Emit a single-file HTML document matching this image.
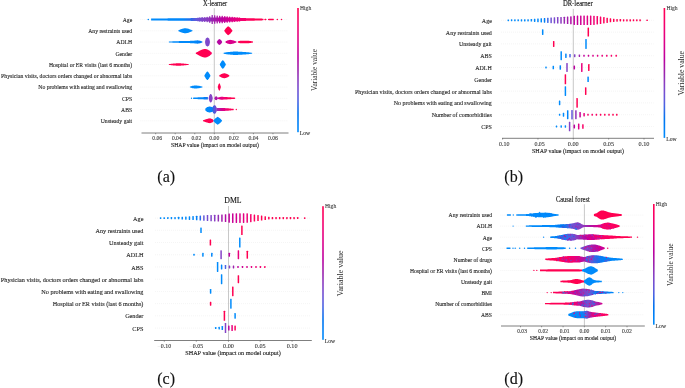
<!DOCTYPE html>
<html><head><meta charset="utf-8"><style>
html,body{margin:0;padding:0;background:#fff;}
body{width:685px;height:388px;overflow:hidden;font-family:"Liberation Serif",serif;}
svg{display:block;}
</style></head><body>
<svg width="685" height="388" viewBox="0 0 685 388" style="will-change:transform">
<rect width="685" height="388" fill="#fff"/>
<line x1="140.5" y1="19.5" x2="287.5" y2="19.5" stroke="#e0e0e0" stroke-width="0.5" stroke-dasharray="0.7 1.3"/>
<line x1="140.5" y1="30.75" x2="287.5" y2="30.75" stroke="#e0e0e0" stroke-width="0.5" stroke-dasharray="0.7 1.3"/>
<line x1="140.5" y1="42" x2="287.5" y2="42" stroke="#e0e0e0" stroke-width="0.5" stroke-dasharray="0.7 1.3"/>
<line x1="140.5" y1="53.25" x2="287.5" y2="53.25" stroke="#e0e0e0" stroke-width="0.5" stroke-dasharray="0.7 1.3"/>
<line x1="140.5" y1="64.5" x2="287.5" y2="64.5" stroke="#e0e0e0" stroke-width="0.5" stroke-dasharray="0.7 1.3"/>
<line x1="140.5" y1="75.75" x2="287.5" y2="75.75" stroke="#e0e0e0" stroke-width="0.5" stroke-dasharray="0.7 1.3"/>
<line x1="140.5" y1="87" x2="287.5" y2="87" stroke="#e0e0e0" stroke-width="0.5" stroke-dasharray="0.7 1.3"/>
<line x1="140.5" y1="98.25" x2="287.5" y2="98.25" stroke="#e0e0e0" stroke-width="0.5" stroke-dasharray="0.7 1.3"/>
<line x1="140.5" y1="109.5" x2="287.5" y2="109.5" stroke="#e0e0e0" stroke-width="0.5" stroke-dasharray="0.7 1.3"/>
<line x1="140.5" y1="120.75" x2="287.5" y2="120.75" stroke="#e0e0e0" stroke-width="0.5" stroke-dasharray="0.7 1.3"/>
<line x1="214.3" y1="8.2" x2="214.3" y2="133" stroke="#b0b0b0" stroke-width="0.7"/>
<line x1="141.5" y1="133" x2="288.5" y2="133" stroke="#707070" stroke-width="0.9"/>
<line x1="155.65" y1="133" x2="155.65" y2="134.3" stroke="#444" stroke-width="0.5"/>
<text x="155.65" y="139.9" font-size="5.3" text-anchor="middle" fill="#444" stroke="#444" stroke-width="0.12" font-family="Liberation Serif, serif" textLength="12.9" lengthAdjust="spacingAndGlyphs"><tspan fill="#f2f2f2" stroke="none">−</tspan>0.06</text>
<line x1="175.2" y1="133" x2="175.2" y2="134.3" stroke="#444" stroke-width="0.5"/>
<text x="175.2" y="139.9" font-size="5.3" text-anchor="middle" fill="#444" stroke="#444" stroke-width="0.12" font-family="Liberation Serif, serif" textLength="12.9" lengthAdjust="spacingAndGlyphs"><tspan fill="#f2f2f2" stroke="none">−</tspan>0.04</text>
<line x1="194.75" y1="133" x2="194.75" y2="134.3" stroke="#444" stroke-width="0.5"/>
<text x="194.75" y="139.9" font-size="5.3" text-anchor="middle" fill="#444" stroke="#444" stroke-width="0.12" font-family="Liberation Serif, serif" textLength="12.9" lengthAdjust="spacingAndGlyphs"><tspan fill="#f2f2f2" stroke="none">−</tspan>0.02</text>
<line x1="214.3" y1="133" x2="214.3" y2="134.3" stroke="#444" stroke-width="0.5"/>
<text x="214.3" y="139.9" font-size="5.3" text-anchor="middle" fill="#444" color="#444" font-family="Liberation Serif, serif" textLength="10" lengthAdjust="spacingAndGlyphs" stroke-width="0.12" stroke="currentColor">0.00</text>
<line x1="233.85" y1="133" x2="233.85" y2="134.3" stroke="#444" stroke-width="0.5"/>
<text x="233.85" y="139.9" font-size="5.3" text-anchor="middle" fill="#444" color="#444" font-family="Liberation Serif, serif" textLength="10" lengthAdjust="spacingAndGlyphs" stroke-width="0.12" stroke="currentColor">0.02</text>
<line x1="253.4" y1="133" x2="253.4" y2="134.3" stroke="#444" stroke-width="0.5"/>
<text x="253.4" y="139.9" font-size="5.3" text-anchor="middle" fill="#444" color="#444" font-family="Liberation Serif, serif" textLength="10" lengthAdjust="spacingAndGlyphs" stroke-width="0.12" stroke="currentColor">0.04</text>
<line x1="272.95" y1="133" x2="272.95" y2="134.3" stroke="#444" stroke-width="0.5"/>
<text x="272.95" y="139.9" font-size="5.3" text-anchor="middle" fill="#444" color="#444" font-family="Liberation Serif, serif" textLength="10" lengthAdjust="spacingAndGlyphs" stroke-width="0.12" stroke="currentColor">0.06</text>
<text x="132.2" y="21.88" font-size="5.7" text-anchor="end" fill="#2a2a2a" color="#2a2a2a" font-family="Liberation Serif, serif" textLength="9.5" lengthAdjust="spacingAndGlyphs" stroke-width="0.12" stroke="currentColor">Age</text>
<text x="132.2" y="33.13" font-size="5.7" text-anchor="end" fill="#2a2a2a" color="#2a2a2a" font-family="Liberation Serif, serif" textLength="44.01" lengthAdjust="spacingAndGlyphs" stroke-width="0.12" stroke="currentColor">Any restraints used</text>
<text x="132.2" y="44.38" font-size="5.7" text-anchor="end" fill="#2a2a2a" color="#2a2a2a" font-family="Liberation Serif, serif" textLength="15.83" lengthAdjust="spacingAndGlyphs" stroke-width="0.12" stroke="currentColor">ADLH</text>
<text x="132.2" y="55.63" font-size="5.7" text-anchor="end" fill="#2a2a2a" color="#2a2a2a" font-family="Liberation Serif, serif" textLength="16.77" lengthAdjust="spacingAndGlyphs" stroke-width="0.12" stroke="currentColor">Gender</text>
<text x="132.2" y="66.88" font-size="5.7" text-anchor="end" fill="#2a2a2a" color="#2a2a2a" font-family="Liberation Serif, serif" textLength="83.28" lengthAdjust="spacingAndGlyphs" stroke-width="0.12" stroke="currentColor">Hospital or ER visits (last 6 months)</text>
<text x="132.2" y="78.13" font-size="5.7" text-anchor="end" fill="#2a2a2a" color="#2a2a2a" font-family="Liberation Serif, serif" textLength="131.08" lengthAdjust="spacingAndGlyphs" stroke-width="0.12" stroke="currentColor">Physician visits, doctors orders changed or abnormal labs</text>
<text x="132.2" y="89.38" font-size="5.7" text-anchor="end" fill="#2a2a2a" color="#2a2a2a" font-family="Liberation Serif, serif" textLength="93.88" lengthAdjust="spacingAndGlyphs" stroke-width="0.12" stroke="currentColor">No problems with eating and swallowing</text>
<text x="132.2" y="100.63" font-size="5.7" text-anchor="end" fill="#2a2a2a" color="#2a2a2a" font-family="Liberation Serif, serif" textLength="10.14" lengthAdjust="spacingAndGlyphs" stroke-width="0.12" stroke="currentColor">CPS</text>
<text x="132.2" y="111.88" font-size="5.7" text-anchor="end" fill="#2a2a2a" color="#2a2a2a" font-family="Liberation Serif, serif" textLength="11.09" lengthAdjust="spacingAndGlyphs" stroke-width="0.12" stroke="currentColor">ABS</text>
<text x="132.2" y="123.13" font-size="5.7" text-anchor="end" fill="#2a2a2a" color="#2a2a2a" font-family="Liberation Serif, serif" textLength="31.5" lengthAdjust="spacingAndGlyphs" stroke-width="0.12" stroke="currentColor">Unsteady gait</text>
<text x="215.05" y="5.8" font-size="7.5" text-anchor="middle" fill="#111" color="#111" font-family="Liberation Serif, serif" textLength="24.3" lengthAdjust="spacingAndGlyphs" stroke-width="0.12" stroke="currentColor">X-learner</text>
<text x="215" y="146.9" font-size="5.6" text-anchor="middle" fill="#222" color="#222" font-family="Liberation Serif, serif" textLength="88" lengthAdjust="spacingAndGlyphs" stroke-width="0.12" stroke="currentColor">SHAP value (impact on model output)</text>
<linearGradient id="cb1" x1="0" y1="0" x2="0" y2="1"><stop offset="0" stop-color="#ff0051"/><stop offset="0.05" stop-color="#fe005c"/><stop offset="0.1" stop-color="#f90067"/><stop offset="0.15" stop-color="#f20072"/><stop offset="0.2" stop-color="#e9007c"/><stop offset="0.25" stop-color="#e00086"/><stop offset="0.3" stop-color="#d5008f"/><stop offset="0.35" stop-color="#c80098"/><stop offset="0.4" stop-color="#bb00a0"/><stop offset="0.45" stop-color="#ab15a7"/><stop offset="0.5" stop-color="#9b23ad"/><stop offset="0.55" stop-color="#9135ba"/><stop offset="0.6" stop-color="#8443c6"/><stop offset="0.65" stop-color="#754fd1"/><stop offset="0.7" stop-color="#6359da"/><stop offset="0.75" stop-color="#4b63e3"/><stop offset="0.8" stop-color="#236cea"/><stop offset="0.85" stop-color="#0074f0"/><stop offset="0.9" stop-color="#007cf5"/><stop offset="0.95" stop-color="#0084f9"/><stop offset="1" stop-color="#008bfb"/></linearGradient>
<rect x="297.2" y="8" width="1.6" height="124.2" fill="url(#cb1)"/>
<text x="300" y="10.4" font-size="6.5" text-anchor="start" fill="#444" color="#444" font-family="Liberation Serif, serif" textLength="11.2" lengthAdjust="spacingAndGlyphs" stroke-width="0.12" stroke="currentColor">High</text>
<text x="299.8" y="135.2" font-size="6.5" text-anchor="start" fill="#333" color="#333" font-family="Liberation Serif, serif" textLength="10.4" lengthAdjust="spacingAndGlyphs" stroke-width="0.12" stroke="currentColor">Low</text>
<text x="0" y="0" font-size="8" text-anchor="middle" fill="#2a2a2a" font-family="Liberation Serif, serif" textLength="42" lengthAdjust="spacingAndGlyphs" transform="translate(316.6,70) rotate(-90)">Variable value</text>
<text x="166.2" y="182.2" font-size="16" text-anchor="middle" fill="#111" color="#111" font-family="Liberation Serif, serif" stroke-width="0.12" stroke="currentColor">(a)</text>
<circle cx="148.3" cy="19.5" r="0.8" fill="#008bfb"/>
<linearGradient id="g2" gradientUnits="userSpaceOnUse" x1="151.1" y1="0" x2="263.5" y2="0"><stop offset="0" stop-color="#008bfb"/><stop offset="0.28" stop-color="#0086fa"/><stop offset="0.35" stop-color="#236cea"/><stop offset="0.4" stop-color="#6359da"/><stop offset="0.45" stop-color="#7e48ca"/><stop offset="0.51" stop-color="#8c3bbf"/><stop offset="0.55" stop-color="#9b23ad"/><stop offset="0.61" stop-color="#b508a2"/><stop offset="0.7" stop-color="#d5008f"/><stop offset="0.79" stop-color="#f00074"/><stop offset="0.88" stop-color="#fe005c"/><stop offset="0.95" stop-color="#ff0051"/></linearGradient>
<path d="M151.1,18.6 L151.43,18.6 L151.77,18.59 L152.1,18.59 L152.44,18.58 L152.77,18.58 L153.11,18.58 L153.44,18.57 L153.78,18.57 L154.11,18.57 L154.45,18.56 L154.78,18.56 L155.11,18.55 L155.45,18.55 L155.78,18.55 L156.12,18.54 L156.45,18.54 L156.79,18.54 L157.12,18.53 L157.46,18.53 L157.79,18.52 L158.12,18.52 L158.46,18.52 L158.79,18.51 L159.13,18.51 L159.46,18.51 L159.8,18.5 L160.13,18.5 L160.47,18.49 L160.8,18.49 L161.14,18.48 L161.47,18.48 L161.8,18.47 L162.14,18.46 L162.47,18.46 L162.81,18.45 L163.14,18.45 L163.48,18.44 L163.81,18.44 L164.15,18.43 L164.48,18.43 L164.82,18.42 L165.15,18.41 L165.48,18.41 L165.82,18.4 L166.15,18.4 L166.49,18.39 L166.82,18.39 L167.16,18.38 L167.49,18.38 L167.83,18.37 L168.16,18.36 L168.5,18.36 L168.83,18.35 L169.16,18.35 L169.5,18.34 L169.83,18.34 L170.17,18.33 L170.5,18.32 L170.84,18.32 L171.17,18.31 L171.51,18.31 L171.84,18.3 L172.18,18.3 L172.51,18.29 L172.84,18.29 L173.18,18.28 L173.51,18.27 L173.85,18.27 L174.18,18.26 L174.52,18.26 L174.85,18.25 L175.19,18.25 L175.52,18.25 L175.85,18.24 L176.19,18.24 L176.52,18.24 L176.86,18.24 L177.19,18.24 L177.53,18.23 L177.86,18.23 L178.2,18.23 L178.53,18.23 L178.87,18.22 L179.2,18.22 L179.53,18.22 L179.87,18.22 L180.2,18.22 L180.54,18.21 L180.87,18.21 L181.21,18.21 L181.54,18.21 L181.88,18.2 L182.21,18.2 L182.55,18.2 L182.88,18.2 L183.21,18.2 L183.55,18.19 L183.88,18.19 L184.22,18.19 L184.55,18.19 L184.89,18.18 L185.22,18.18 L185.56,18.18 L185.89,18.18 L186.22,18.18 L186.56,18.17 L186.89,18.17 L187.23,18.17 L187.56,18.17 L187.9,18.16 L188.23,18.16 L188.57,18.16 L188.9,18.16 L189.24,18.16 L189.57,18.15 L189.9,18.15 L190.24,18.14 L190.57,18.13 L190.91,18.11 L191.24,18.1 L191.58,18.08 L191.91,18.07 L192.25,18.06 L192.58,18.04 L192.92,18.03 L193.25,18.01 L193.58,18 L193.92,17.99 L194.25,17.97 L194.59,17.96 L194.92,17.94 L195.26,17.93 L195.59,17.92 L195.93,17.9 L196.26,17.89 L196.6,17.89 L196.93,17.88 L197.26,17.87 L197.6,17.86 L197.93,17.86 L198.27,17.85 L198.6,17.84 L198.94,17.83 L199.27,17.83 L199.61,17.82 L199.94,17.81 L200.28,17.8 L200.61,17.8 L200.94,17.79 L201.28,17.78 L201.61,17.78 L201.95,17.77 L202.28,17.76 L202.62,17.75 L202.95,17.75 L203.29,17.74 L203.62,17.73 L203.95,17.72 L204.29,17.72 L204.62,17.71 L204.96,17.7 L205.29,17.69 L205.63,17.68 L205.96,17.67 L206.3,17.66 L206.63,17.65 L206.97,17.64 L207.3,17.63 L207.63,17.62 L207.97,17.62 L208.3,17.61 L208.64,17.6 L208.97,17.59 L209.31,17.58 L209.64,17.57 L209.98,17.56 L210.31,17.55 L210.65,17.54 L210.98,17.53 L211.31,17.52 L211.65,17.51 L211.98,17.5 L212.32,17.5 L212.65,17.49 L212.99,17.48 L213.32,17.48 L213.66,17.47 L213.99,17.47 L214.32,17.46 L214.66,17.46 L214.99,17.45 L215.33,17.45 L215.66,17.44 L216,17.44 L216.33,17.43 L216.67,17.43 L217,17.42 L217.34,17.42 L217.67,17.41 L218,17.41 L218.34,17.4 L218.67,17.4 L219.01,17.39 L219.34,17.39 L219.68,17.38 L220.01,17.38 L220.35,17.37 L220.68,17.37 L221.02,17.36 L221.35,17.36 L221.68,17.35 L222.02,17.35 L222.35,17.34 L222.69,17.34 L223.02,17.33 L223.36,17.33 L223.69,17.32 L224.03,17.31 L224.36,17.31 L224.7,17.3 L225.03,17.3 L225.36,17.31 L225.7,17.32 L226.03,17.33 L226.37,17.34 L226.7,17.35 L227.04,17.36 L227.37,17.37 L227.71,17.38 L228.04,17.39 L228.38,17.4 L228.71,17.41 L229.04,17.42 L229.38,17.43 L229.71,17.43 L230.05,17.44 L230.38,17.45 L230.72,17.46 L231.05,17.47 L231.39,17.48 L231.72,17.49 L232.05,17.5 L232.39,17.52 L232.72,17.54 L233.06,17.55 L233.39,17.57 L233.73,17.59 L234.06,17.6 L234.4,17.62 L234.73,17.64 L235.07,17.65 L235.4,17.67 L235.73,17.69 L236.07,17.7 L236.4,17.72 L236.74,17.74 L237.07,17.75 L237.41,17.77 L237.74,17.79 L238.08,17.8 L238.41,17.82 L238.75,17.83 L239.08,17.85 L239.41,17.86 L239.75,17.87 L240.08,17.89 L240.42,17.9 L240.75,17.92 L241.09,17.93 L241.42,17.95 L241.76,17.96 L242.09,17.98 L242.43,17.99 L242.76,18 L243.09,18.02 L243.43,18.03 L243.76,18.05 L244.1,18.06 L244.43,18.08 L244.77,18.09 L245.1,18.1 L245.44,18.11 L245.77,18.12 L246.1,18.13 L246.44,18.14 L246.77,18.15 L247.11,18.16 L247.44,18.17 L247.78,18.18 L248.11,18.19 L248.45,18.2 L248.78,18.21 L249.12,18.22 L249.45,18.23 L249.78,18.24 L250.12,18.25 L250.45,18.26 L250.79,18.27 L251.12,18.27 L251.46,18.28 L251.79,18.29 L252.13,18.3 L252.46,18.31 L252.8,18.32 L253.13,18.33 L253.46,18.34 L253.8,18.35 L254.13,18.36 L254.47,18.37 L254.8,18.38 L255.14,18.39 L255.47,18.4 L255.81,18.41 L256.14,18.42 L256.48,18.43 L256.81,18.44 L257.14,18.45 L257.48,18.46 L257.81,18.47 L258.15,18.48 L258.48,18.49 L258.82,18.5 L259.15,18.51 L259.49,18.52 L259.82,18.53 L260.15,18.54 L260.49,18.55 L260.82,18.56 L261.16,18.57 L261.49,18.58 L261.83,18.59 L262.16,18.63 L262.5,18.7 L262.83,18.77 L263.17,18.83 L263.5,18.9 L263.5,20.1 L263.17,20.17 L262.83,20.23 L262.5,20.3 L262.16,20.37 L261.83,20.41 L261.49,20.42 L261.16,20.43 L260.82,20.44 L260.49,20.45 L260.15,20.46 L259.82,20.47 L259.49,20.48 L259.15,20.49 L258.82,20.5 L258.48,20.51 L258.15,20.52 L257.81,20.53 L257.48,20.54 L257.14,20.55 L256.81,20.56 L256.48,20.57 L256.14,20.58 L255.81,20.59 L255.47,20.6 L255.14,20.61 L254.8,20.62 L254.47,20.63 L254.13,20.64 L253.8,20.65 L253.46,20.66 L253.13,20.67 L252.8,20.68 L252.46,20.69 L252.13,20.7 L251.79,20.71 L251.46,20.72 L251.12,20.73 L250.79,20.73 L250.45,20.74 L250.12,20.75 L249.78,20.76 L249.45,20.77 L249.12,20.78 L248.78,20.79 L248.45,20.8 L248.11,20.81 L247.78,20.82 L247.44,20.83 L247.11,20.84 L246.77,20.85 L246.44,20.86 L246.1,20.87 L245.77,20.88 L245.44,20.89 L245.1,20.9 L244.77,20.91 L244.43,20.92 L244.1,20.94 L243.76,20.95 L243.43,20.97 L243.09,20.98 L242.76,21 L242.43,21.01 L242.09,21.02 L241.76,21.04 L241.42,21.05 L241.09,21.07 L240.75,21.08 L240.42,21.1 L240.08,21.11 L239.75,21.13 L239.41,21.14 L239.08,21.15 L238.75,21.17 L238.41,21.18 L238.08,21.2 L237.74,21.21 L237.41,21.23 L237.07,21.25 L236.74,21.26 L236.4,21.28 L236.07,21.3 L235.73,21.31 L235.4,21.33 L235.07,21.35 L234.73,21.36 L234.4,21.38 L234.06,21.4 L233.73,21.41 L233.39,21.43 L233.06,21.45 L232.72,21.46 L232.39,21.48 L232.05,21.5 L231.72,21.51 L231.39,21.52 L231.05,21.53 L230.72,21.54 L230.38,21.55 L230.05,21.56 L229.71,21.57 L229.38,21.57 L229.04,21.58 L228.71,21.59 L228.38,21.6 L228.04,21.61 L227.71,21.62 L227.37,21.63 L227.04,21.64 L226.7,21.65 L226.37,21.66 L226.03,21.67 L225.7,21.68 L225.36,21.69 L225.03,21.7 L224.7,21.7 L224.36,21.69 L224.03,21.69 L223.69,21.68 L223.36,21.67 L223.02,21.67 L222.69,21.66 L222.35,21.66 L222.02,21.65 L221.68,21.65 L221.35,21.64 L221.02,21.64 L220.68,21.63 L220.35,21.63 L220.01,21.62 L219.68,21.62 L219.34,21.61 L219.01,21.61 L218.67,21.6 L218.34,21.6 L218,21.59 L217.67,21.59 L217.34,21.58 L217,21.58 L216.67,21.57 L216.33,21.57 L216,21.56 L215.66,21.56 L215.33,21.55 L214.99,21.55 L214.66,21.54 L214.32,21.54 L213.99,21.53 L213.66,21.53 L213.32,21.52 L212.99,21.52 L212.65,21.51 L212.32,21.5 L211.98,21.5 L211.65,21.49 L211.31,21.48 L210.98,21.47 L210.65,21.46 L210.31,21.45 L209.98,21.44 L209.64,21.43 L209.31,21.42 L208.97,21.41 L208.64,21.4 L208.3,21.39 L207.97,21.38 L207.63,21.38 L207.3,21.37 L206.97,21.36 L206.63,21.35 L206.3,21.34 L205.96,21.33 L205.63,21.32 L205.29,21.31 L204.96,21.3 L204.62,21.29 L204.29,21.28 L203.95,21.28 L203.62,21.27 L203.29,21.26 L202.95,21.25 L202.62,21.25 L202.28,21.24 L201.95,21.23 L201.61,21.22 L201.28,21.22 L200.94,21.21 L200.61,21.2 L200.28,21.2 L199.94,21.19 L199.61,21.18 L199.27,21.17 L198.94,21.17 L198.6,21.16 L198.27,21.15 L197.93,21.14 L197.6,21.14 L197.26,21.13 L196.93,21.12 L196.6,21.11 L196.26,21.11 L195.93,21.1 L195.59,21.08 L195.26,21.07 L194.92,21.06 L194.59,21.04 L194.25,21.03 L193.92,21.01 L193.58,21 L193.25,20.99 L192.92,20.97 L192.58,20.96 L192.25,20.94 L191.91,20.93 L191.58,20.92 L191.24,20.9 L190.91,20.89 L190.57,20.87 L190.24,20.86 L189.9,20.85 L189.57,20.85 L189.24,20.84 L188.9,20.84 L188.57,20.84 L188.23,20.84 L187.9,20.84 L187.56,20.83 L187.23,20.83 L186.89,20.83 L186.56,20.83 L186.22,20.82 L185.89,20.82 L185.56,20.82 L185.22,20.82 L184.89,20.82 L184.55,20.81 L184.22,20.81 L183.88,20.81 L183.55,20.81 L183.21,20.8 L182.88,20.8 L182.55,20.8 L182.21,20.8 L181.88,20.8 L181.54,20.79 L181.21,20.79 L180.87,20.79 L180.54,20.79 L180.2,20.78 L179.87,20.78 L179.53,20.78 L179.2,20.78 L178.87,20.78 L178.53,20.77 L178.2,20.77 L177.86,20.77 L177.53,20.77 L177.19,20.76 L176.86,20.76 L176.52,20.76 L176.19,20.76 L175.85,20.76 L175.52,20.75 L175.19,20.75 L174.85,20.75 L174.52,20.74 L174.18,20.74 L173.85,20.73 L173.51,20.73 L173.18,20.72 L172.84,20.71 L172.51,20.71 L172.18,20.7 L171.84,20.7 L171.51,20.69 L171.17,20.69 L170.84,20.68 L170.5,20.68 L170.17,20.67 L169.83,20.66 L169.5,20.66 L169.16,20.65 L168.83,20.65 L168.5,20.64 L168.16,20.64 L167.83,20.63 L167.49,20.62 L167.16,20.62 L166.82,20.61 L166.49,20.61 L166.15,20.6 L165.82,20.6 L165.48,20.59 L165.15,20.59 L164.82,20.58 L164.48,20.57 L164.15,20.57 L163.81,20.56 L163.48,20.56 L163.14,20.55 L162.81,20.55 L162.47,20.54 L162.14,20.54 L161.8,20.53 L161.47,20.52 L161.14,20.52 L160.8,20.51 L160.47,20.51 L160.13,20.5 L159.8,20.5 L159.46,20.49 L159.13,20.49 L158.79,20.49 L158.46,20.48 L158.12,20.48 L157.79,20.48 L157.46,20.47 L157.12,20.47 L156.79,20.46 L156.45,20.46 L156.12,20.46 L155.78,20.45 L155.45,20.45 L155.11,20.45 L154.78,20.44 L154.45,20.44 L154.11,20.43 L153.78,20.43 L153.44,20.43 L153.11,20.42 L152.77,20.42 L152.44,20.42 L152.1,20.41 L151.77,20.41 L151.43,20.4 L151.1,20.4 Z" fill="url(#g2)"/>
<rect x="199.05" y="17.4" width="1.3" height="4.2" rx="0.4" fill="#754fd1"/>
<rect x="201.55" y="17.1" width="1.3" height="4.8" rx="0.4" fill="#7f47ca"/>
<rect x="204.05" y="17" width="1.3" height="5" rx="0.4" fill="#8542c5"/>
<rect x="206.55" y="16.8" width="1.3" height="5.4" rx="0.4" fill="#8a3cc0"/>
<rect x="209.05" y="16.2" width="1.3" height="6.6" rx="0.4" fill="#9134b9"/>
<rect x="211.55" y="14.9" width="1.3" height="9.2" rx="0.4" fill="#9927b0"/>
<rect x="214.05" y="15.2" width="1.3" height="8.6" rx="0.4" fill="#a11eab"/>
<rect x="216.55" y="15.5" width="1.3" height="8" rx="0.4" fill="#ab16a7"/>
<rect x="219.05" y="15.7" width="1.3" height="7.6" rx="0.4" fill="#b40aa3"/>
<rect x="221.55" y="15.7" width="1.3" height="7.6" rx="0.4" fill="#bc009f"/>
<rect x="224.05" y="16" width="1.3" height="7" rx="0.4" fill="#c5009a"/>
<rect x="226.55" y="16.3" width="1.3" height="6.4" rx="0.4" fill="#cc0095"/>
<rect x="229.05" y="16.5" width="1.3" height="6" rx="0.4" fill="#d40090"/>
<rect x="231.55" y="16.7" width="1.3" height="5.6" rx="0.4" fill="#dc0089"/>
<rect x="234.05" y="17" width="1.3" height="5" rx="0.4" fill="#e30083"/>
<rect x="236.55" y="17.3" width="1.3" height="4.4" rx="0.4" fill="#e9007c"/>
<rect x="239.05" y="17.6" width="1.3" height="3.8" rx="0.4" fill="#ef0075"/>
<path d="M264.4,19 L264.69,18.91 L264.97,18.83 L265.26,18.74 L265.54,18.74 L265.83,18.83 L266.11,18.91 L266.4,19 L266.4,20 L266.11,20.09 L265.83,20.17 L265.54,20.26 L265.26,20.26 L264.97,20.17 L264.69,20.09 L264.4,20 Z" fill="#ff0051"/>
<path d="M268,18.9 L268.36,18.88 L268.73,18.85 L269.09,18.83 L269.45,18.8 L269.81,18.78 L270.18,18.75 L270.54,18.73 L270.9,18.71 L271.26,18.72 L271.62,18.74 L271.99,18.77 L272.35,18.8 L272.71,18.82 L273.07,18.85 L273.44,18.87 L273.8,18.9 L273.8,20.1 L273.44,20.13 L273.07,20.15 L272.71,20.18 L272.35,20.2 L271.99,20.23 L271.62,20.26 L271.26,20.28 L270.9,20.29 L270.54,20.27 L270.18,20.25 L269.81,20.22 L269.45,20.2 L269.09,20.17 L268.73,20.15 L268.36,20.12 L268,20.1 Z" fill="#ff0051"/>
<circle cx="277.3" cy="19.5" r="0.75" fill="#ff0051"/>
<circle cx="281.5" cy="19.5" r="0.75" fill="#ff0051"/>
<path d="M178.3,30.45 L178.65,30.28 L178.99,30.12 L179.34,29.95 L179.69,29.78 L180.03,29.62 L180.38,29.45 L180.72,29.28 L181.07,29.13 L181.42,29.05 L181.76,28.96 L182.11,28.87 L182.46,28.79 L182.8,28.7 L183.15,28.61 L183.5,28.53 L183.84,28.44 L184.19,28.35 L184.53,28.27 L184.88,28.18 L185.23,28.19 L185.57,28.25 L185.92,28.31 L186.27,28.37 L186.61,28.43 L186.96,28.49 L187.3,28.55 L187.65,28.6 L188,28.66 L188.34,28.72 L188.69,28.83 L189.04,28.98 L189.38,29.13 L189.73,29.27 L190.08,29.42 L190.42,29.57 L190.77,29.71 L191.11,29.86 L191.46,30.01 L191.81,30.16 L192.15,30.3 L192.5,30.45 L192.5,31.05 L192.15,31.2 L191.81,31.34 L191.46,31.49 L191.11,31.64 L190.77,31.79 L190.42,31.93 L190.08,32.08 L189.73,32.23 L189.38,32.37 L189.04,32.52 L188.69,32.67 L188.34,32.78 L188,32.84 L187.65,32.9 L187.3,32.95 L186.96,33.01 L186.61,33.07 L186.27,33.13 L185.92,33.19 L185.57,33.25 L185.23,33.31 L184.88,33.32 L184.53,33.23 L184.19,33.15 L183.84,33.06 L183.5,32.97 L183.15,32.89 L182.8,32.8 L182.46,32.71 L182.11,32.63 L181.76,32.54 L181.42,32.45 L181.07,32.37 L180.72,32.22 L180.38,32.05 L180.03,31.88 L179.69,31.72 L179.34,31.55 L178.99,31.38 L178.65,31.22 L178.3,31.05 Z" fill="#008bfb"/>
<path d="M224.3,30.45 L224.65,29.97 L225,29.5 L225.36,29.02 L225.71,28.55 L226.06,28.07 L226.41,27.66 L226.77,27.38 L227.12,27.1 L227.47,26.83 L227.82,26.55 L228.17,26.27 L228.53,26.49 L228.88,26.76 L229.23,27.02 L229.58,27.29 L229.93,27.55 L230.29,27.86 L230.64,28.29 L230.99,28.72 L231.34,29.15 L231.7,29.59 L232.05,30.02 L232.4,30.45 L232.4,31.05 L232.05,31.48 L231.7,31.91 L231.34,32.35 L230.99,32.78 L230.64,33.21 L230.29,33.64 L229.93,33.95 L229.58,34.21 L229.23,34.48 L228.88,34.74 L228.53,35.01 L228.17,35.23 L227.82,34.95 L227.47,34.67 L227.12,34.4 L226.77,34.12 L226.41,33.84 L226.06,33.43 L225.71,32.95 L225.36,32.48 L225,32 L224.65,31.53 L224.3,31.05 Z" fill="#ff0051"/>
<linearGradient id="g3" gradientUnits="userSpaceOnUse" x1="168.9" y1="0" x2="202.4" y2="0"><stop offset="0" stop-color="#008bfb"/><stop offset="0.78" stop-color="#0088fa"/><stop offset="1" stop-color="#0074f0"/></linearGradient>
<path d="M168.9,41.6 L169.24,41.58 L169.58,41.56 L169.92,41.53 L170.25,41.51 L170.59,41.49 L170.93,41.47 L171.27,41.44 L171.61,41.42 L171.95,41.4 L172.28,41.38 L172.62,41.36 L172.96,41.33 L173.3,41.31 L173.64,41.29 L173.98,41.27 L174.31,41.24 L174.65,41.22 L174.99,41.2 L175.33,41.19 L175.67,41.19 L176.01,41.18 L176.34,41.17 L176.68,41.17 L177.02,41.16 L177.36,41.15 L177.7,41.15 L178.04,41.14 L178.37,41.13 L178.71,41.13 L179.05,41.12 L179.39,41.11 L179.73,41.11 L180.07,41.1 L180.41,41.09 L180.74,41.09 L181.08,41.08 L181.42,41.07 L181.76,41.06 L182.1,41.06 L182.44,41.05 L182.77,41.04 L183.11,41.04 L183.45,41.03 L183.79,41.02 L184.13,41.02 L184.47,41.01 L184.8,41 L185.14,41 L185.48,40.99 L185.82,40.98 L186.16,40.97 L186.5,40.96 L186.83,40.95 L187.17,40.95 L187.51,40.94 L187.85,40.93 L188.19,40.92 L188.53,40.91 L188.86,40.9 L189.2,40.89 L189.54,40.89 L189.88,40.88 L190.22,40.87 L190.56,40.86 L190.89,40.85 L191.23,40.84 L191.57,40.84 L191.91,40.83 L192.25,40.82 L192.59,40.81 L192.93,40.8 L193.26,40.77 L193.6,40.73 L193.94,40.69 L194.28,40.65 L194.62,40.62 L194.96,40.58 L195.29,40.54 L195.63,40.5 L195.97,40.46 L196.31,40.42 L196.65,40.39 L196.99,40.35 L197.32,40.31 L197.66,40.34 L198,40.4 L198.34,40.45 L198.68,40.51 L199.02,40.56 L199.35,40.62 L199.69,40.67 L200.03,40.72 L200.37,40.78 L200.71,40.89 L201.05,41.03 L201.38,41.17 L201.72,41.32 L202.06,41.46 L202.4,41.6 L202.4,42.4 L202.06,42.54 L201.72,42.68 L201.38,42.83 L201.05,42.97 L200.71,43.11 L200.37,43.22 L200.03,43.28 L199.69,43.33 L199.35,43.38 L199.02,43.44 L198.68,43.49 L198.34,43.55 L198,43.6 L197.66,43.66 L197.32,43.69 L196.99,43.65 L196.65,43.61 L196.31,43.58 L195.97,43.54 L195.63,43.5 L195.29,43.46 L194.96,43.42 L194.62,43.38 L194.28,43.35 L193.94,43.31 L193.6,43.27 L193.26,43.23 L192.93,43.2 L192.59,43.19 L192.25,43.18 L191.91,43.17 L191.57,43.16 L191.23,43.16 L190.89,43.15 L190.56,43.14 L190.22,43.13 L189.88,43.12 L189.54,43.11 L189.2,43.11 L188.86,43.1 L188.53,43.09 L188.19,43.08 L187.85,43.07 L187.51,43.06 L187.17,43.05 L186.83,43.05 L186.5,43.04 L186.16,43.03 L185.82,43.02 L185.48,43.01 L185.14,43 L184.8,43 L184.47,42.99 L184.13,42.98 L183.79,42.98 L183.45,42.97 L183.11,42.96 L182.77,42.96 L182.44,42.95 L182.1,42.94 L181.76,42.94 L181.42,42.93 L181.08,42.92 L180.74,42.91 L180.41,42.91 L180.07,42.9 L179.73,42.89 L179.39,42.89 L179.05,42.88 L178.71,42.87 L178.37,42.87 L178.04,42.86 L177.7,42.85 L177.36,42.85 L177.02,42.84 L176.68,42.83 L176.34,42.83 L176.01,42.82 L175.67,42.81 L175.33,42.81 L174.99,42.8 L174.65,42.78 L174.31,42.76 L173.98,42.73 L173.64,42.71 L173.3,42.69 L172.96,42.67 L172.62,42.64 L172.28,42.62 L171.95,42.6 L171.61,42.58 L171.27,42.56 L170.93,42.53 L170.59,42.51 L170.25,42.49 L169.92,42.47 L169.58,42.44 L169.24,42.42 L168.9,42.4 Z" fill="url(#g3)"/>
<path d="M205.1,41.2 L205.47,39.78 L205.84,38.47 L206.21,38.21 L206.58,37.95 L206.95,37.69 L207.32,37.43 L207.68,37.43 L208.05,37.69 L208.42,37.95 L208.79,38.21 L209.16,38.47 L209.53,39.78 L209.9,41.2 L209.9,42.8 L209.53,44.22 L209.16,45.53 L208.79,45.79 L208.42,46.05 L208.05,46.31 L207.68,46.57 L207.32,46.57 L206.95,46.31 L206.58,46.05 L206.21,45.79 L205.84,45.53 L205.47,44.22 L205.1,42.8 Z" fill="#7e48ca"/>
<path d="M216.8,41.7 L217.18,41.16 L217.56,40.63 L217.94,40.09 L218.31,39.79 L218.69,39.54 L219.07,39.29 L219.45,39.03 L219.83,39.22 L220.21,39.47 L220.59,39.72 L220.96,39.98 L221.34,40.53 L221.72,41.11 L222.1,41.7 L222.1,42.3 L221.72,42.89 L221.34,43.47 L220.96,44.02 L220.59,44.28 L220.21,44.53 L219.83,44.78 L219.45,44.97 L219.07,44.71 L218.69,44.46 L218.31,44.21 L217.94,43.91 L217.56,43.37 L217.18,42.84 L216.8,42.3 Z" fill="#b508a2"/>
<path d="M225.5,41.5 L225.84,41.31 L226.19,41.12 L226.53,40.93 L226.88,40.74 L227.22,40.55 L227.56,40.39 L227.91,40.31 L228.25,40.23 L228.59,40.16 L228.94,40.08 L229.28,40 L229.62,39.93 L229.97,39.85 L230.31,39.82 L230.66,39.88 L231,39.94 L231.34,40 L231.69,40.07 L232.03,40.13 L232.38,40.19 L232.72,40.25 L233.06,40.32 L233.41,40.45 L233.75,40.57 L234.09,40.69 L234.44,40.82 L234.78,40.94 L235.12,41.06 L235.47,41.19 L235.81,41.33 L236.16,41.46 L236.5,41.6 L236.5,42.4 L236.16,42.54 L235.81,42.67 L235.47,42.81 L235.12,42.94 L234.78,43.06 L234.44,43.18 L234.09,43.31 L233.75,43.43 L233.41,43.55 L233.06,43.68 L232.72,43.75 L232.38,43.81 L232.03,43.87 L231.69,43.93 L231.34,44 L231,44.06 L230.66,44.12 L230.31,44.18 L229.97,44.15 L229.62,44.07 L229.28,44 L228.94,43.92 L228.59,43.84 L228.25,43.77 L227.91,43.69 L227.56,43.61 L227.22,43.45 L226.88,43.26 L226.53,43.07 L226.19,42.88 L225.84,42.69 L225.5,42.5 Z" fill="#d9008b"/>
<linearGradient id="g4" gradientUnits="userSpaceOnUse" x1="237.8" y1="0" x2="253" y2="0"><stop offset="0" stop-color="#fe005c"/><stop offset="0.47" stop-color="#ff0051"/></linearGradient>
<path d="M237.8,41.4 L238.15,41.31 L238.49,41.21 L238.84,41.12 L239.18,41.02 L239.53,40.93 L239.87,40.83 L240.22,40.8 L240.56,40.79 L240.91,40.78 L241.25,40.78 L241.6,40.77 L241.95,40.77 L242.29,40.76 L242.64,40.76 L242.98,40.75 L243.33,40.74 L243.67,40.74 L244.02,40.73 L244.36,40.73 L244.71,40.72 L245.05,40.72 L245.4,40.71 L245.75,40.7 L246.09,40.7 L246.44,40.72 L246.78,40.74 L247.13,40.76 L247.47,40.77 L247.82,40.79 L248.16,40.81 L248.51,40.83 L248.85,40.84 L249.2,40.86 L249.55,40.88 L249.89,40.89 L250.24,40.95 L250.58,41.02 L250.93,41.09 L251.27,41.15 L251.62,41.22 L251.96,41.29 L252.31,41.36 L252.65,41.43 L253,41.5 L253,42.5 L252.65,42.57 L252.31,42.64 L251.96,42.71 L251.62,42.78 L251.27,42.85 L250.93,42.91 L250.58,42.98 L250.24,43.05 L249.89,43.11 L249.55,43.12 L249.2,43.14 L248.85,43.16 L248.51,43.17 L248.16,43.19 L247.82,43.21 L247.47,43.23 L247.13,43.24 L246.78,43.26 L246.44,43.28 L246.09,43.3 L245.75,43.3 L245.4,43.29 L245.05,43.28 L244.71,43.28 L244.36,43.27 L244.02,43.27 L243.67,43.26 L243.33,43.26 L242.98,43.25 L242.64,43.24 L242.29,43.24 L241.95,43.23 L241.6,43.23 L241.25,43.22 L240.91,43.22 L240.56,43.21 L240.22,43.2 L239.87,43.17 L239.53,43.07 L239.18,42.98 L238.84,42.88 L238.49,42.79 L238.15,42.69 L237.8,42.6 Z" fill="url(#g4)"/>
<linearGradient id="g5" gradientUnits="userSpaceOnUse" x1="195.8" y1="0" x2="211.8" y2="0"><stop offset="0" stop-color="#ff0051"/><stop offset="0.7" stop-color="#ff0051"/><stop offset="1" stop-color="#fb0063"/></linearGradient>
<path d="M195.8,52.75 L196.14,52.58 L196.48,52.41 L196.82,52.24 L197.16,52.07 L197.5,51.9 L197.84,51.73 L198.18,51.55 L198.52,51.36 L198.86,51.17 L199.2,50.98 L199.54,50.78 L199.89,50.59 L200.23,50.4 L200.57,50.22 L200.91,50.09 L201.25,49.95 L201.59,49.82 L201.93,49.68 L202.27,49.54 L202.61,49.41 L202.95,49.27 L203.29,49.21 L203.63,49.16 L203.97,49.1 L204.31,49.05 L204.65,49 L204.99,48.95 L205.33,49 L205.67,49.05 L206.01,49.1 L206.35,49.15 L206.69,49.2 L207.03,49.27 L207.37,49.46 L207.71,49.65 L208.06,49.84 L208.4,50.03 L208.74,50.22 L209.08,50.41 L209.42,50.6 L209.76,50.87 L210.1,51.17 L210.44,51.47 L210.78,51.76 L211.12,52.06 L211.46,52.35 L211.8,52.65 L211.8,53.85 L211.46,54.15 L211.12,54.44 L210.78,54.74 L210.44,55.03 L210.1,55.33 L209.76,55.63 L209.42,55.9 L209.08,56.09 L208.74,56.28 L208.4,56.47 L208.06,56.66 L207.71,56.85 L207.37,57.04 L207.03,57.23 L206.69,57.3 L206.35,57.35 L206.01,57.4 L205.67,57.45 L205.33,57.5 L204.99,57.55 L204.65,57.5 L204.31,57.45 L203.97,57.4 L203.63,57.34 L203.29,57.29 L202.95,57.23 L202.61,57.09 L202.27,56.96 L201.93,56.82 L201.59,56.68 L201.25,56.55 L200.91,56.41 L200.57,56.28 L200.23,56.1 L199.89,55.91 L199.54,55.72 L199.2,55.52 L198.86,55.33 L198.52,55.14 L198.18,54.95 L197.84,54.77 L197.5,54.6 L197.16,54.43 L196.82,54.26 L196.48,54.09 L196.14,53.92 L195.8,53.75 Z" fill="url(#g5)"/>
<path d="M223.6,52.75 L223.94,52.7 L224.28,52.64 L224.62,52.59 L224.96,52.53 L225.3,52.48 L225.64,52.43 L225.97,52.37 L226.31,52.32 L226.65,52.26 L226.99,52.21 L227.33,52.16 L227.67,52.1 L228.01,52.05 L228.35,52.02 L228.69,51.99 L229.03,51.96 L229.37,51.94 L229.71,51.91 L230.05,51.88 L230.39,51.85 L230.72,51.82 L231.06,51.79 L231.4,51.77 L231.74,51.74 L232.08,51.71 L232.42,51.68 L232.76,51.65 L233.1,51.62 L233.44,51.6 L233.78,51.57 L234.12,51.54 L234.46,51.51 L234.8,51.48 L235.14,51.46 L235.47,51.47 L235.81,51.49 L236.15,51.51 L236.49,51.53 L236.83,51.55 L237.17,51.57 L237.51,51.59 L237.85,51.61 L238.19,51.63 L238.53,51.65 L238.87,51.67 L239.21,51.69 L239.55,51.71 L239.89,51.73 L240.22,51.75 L240.56,51.77 L240.9,51.79 L241.24,51.81 L241.58,51.83 L241.92,51.85 L242.26,51.87 L242.6,51.89 L242.94,51.91 L243.28,51.94 L243.62,51.96 L243.96,51.98 L244.3,52 L244.64,52.03 L244.97,52.05 L245.31,52.07 L245.65,52.09 L245.99,52.12 L246.33,52.14 L246.67,52.16 L247.01,52.18 L247.35,52.21 L247.69,52.23 L248.03,52.25 L248.37,52.3 L248.71,52.35 L249.05,52.4 L249.39,52.45 L249.72,52.5 L250.06,52.55 L250.4,52.6 L250.74,52.65 L251.08,52.7 L251.42,52.75 L251.76,52.8 L252.1,52.85 L252.1,53.65 L251.76,53.7 L251.42,53.75 L251.08,53.8 L250.74,53.85 L250.4,53.9 L250.06,53.95 L249.72,54 L249.39,54.05 L249.05,54.1 L248.71,54.15 L248.37,54.2 L248.03,54.25 L247.69,54.27 L247.35,54.29 L247.01,54.32 L246.67,54.34 L246.33,54.36 L245.99,54.38 L245.65,54.41 L245.31,54.43 L244.97,54.45 L244.64,54.47 L244.3,54.5 L243.96,54.52 L243.62,54.54 L243.28,54.56 L242.94,54.59 L242.6,54.61 L242.26,54.63 L241.92,54.65 L241.58,54.67 L241.24,54.69 L240.9,54.71 L240.56,54.73 L240.22,54.75 L239.89,54.77 L239.55,54.79 L239.21,54.81 L238.87,54.83 L238.53,54.85 L238.19,54.87 L237.85,54.89 L237.51,54.91 L237.17,54.93 L236.83,54.95 L236.49,54.97 L236.15,54.99 L235.81,55.01 L235.47,55.03 L235.14,55.04 L234.8,55.02 L234.46,54.99 L234.12,54.96 L233.78,54.93 L233.44,54.9 L233.1,54.88 L232.76,54.85 L232.42,54.82 L232.08,54.79 L231.74,54.76 L231.4,54.73 L231.06,54.71 L230.72,54.68 L230.39,54.65 L230.05,54.62 L229.71,54.59 L229.37,54.56 L229.03,54.54 L228.69,54.51 L228.35,54.48 L228.01,54.45 L227.67,54.4 L227.33,54.34 L226.99,54.29 L226.65,54.24 L226.31,54.18 L225.97,54.13 L225.64,54.07 L225.3,54.02 L224.96,53.97 L224.62,53.91 L224.28,53.86 L223.94,53.8 L223.6,53.75 Z" fill="#008bfb"/>
<path d="M168.9,64.1 L169.24,64.06 L169.58,64.02 L169.92,63.98 L170.26,63.93 L170.6,63.89 L170.94,63.85 L171.28,63.81 L171.62,63.77 L171.96,63.73 L172.3,63.69 L172.64,63.64 L172.98,63.6 L173.32,63.58 L173.66,63.55 L173.99,63.52 L174.33,63.5 L174.67,63.47 L175.01,63.45 L175.35,63.42 L175.69,63.4 L176.03,63.37 L176.37,63.35 L176.71,63.32 L177.05,63.29 L177.39,63.27 L177.73,63.24 L178.07,63.22 L178.41,63.21 L178.75,63.23 L179.09,63.25 L179.43,63.27 L179.77,63.29 L180.11,63.32 L180.45,63.34 L180.79,63.36 L181.13,63.38 L181.47,63.4 L181.81,63.42 L182.15,63.45 L182.49,63.47 L182.83,63.49 L183.17,63.52 L183.51,63.55 L183.84,63.59 L184.18,63.63 L184.52,63.66 L184.86,63.7 L185.2,63.74 L185.54,63.77 L185.88,63.81 L186.22,63.85 L186.56,63.88 L186.9,63.92 L187.24,63.95 L187.58,63.99 L187.92,64.03 L188.26,64.06 L188.6,64.1 L188.6,64.9 L188.26,64.94 L187.92,64.97 L187.58,65.01 L187.24,65.05 L186.9,65.08 L186.56,65.12 L186.22,65.15 L185.88,65.19 L185.54,65.23 L185.2,65.26 L184.86,65.3 L184.52,65.34 L184.18,65.37 L183.84,65.41 L183.51,65.45 L183.17,65.48 L182.83,65.51 L182.49,65.53 L182.15,65.55 L181.81,65.58 L181.47,65.6 L181.13,65.62 L180.79,65.64 L180.45,65.66 L180.11,65.68 L179.77,65.71 L179.43,65.73 L179.09,65.75 L178.75,65.77 L178.41,65.79 L178.07,65.78 L177.73,65.76 L177.39,65.73 L177.05,65.71 L176.71,65.68 L176.37,65.65 L176.03,65.63 L175.69,65.6 L175.35,65.58 L175.01,65.55 L174.67,65.53 L174.33,65.5 L173.99,65.48 L173.66,65.45 L173.32,65.42 L172.98,65.4 L172.64,65.36 L172.3,65.31 L171.96,65.27 L171.62,65.23 L171.28,65.19 L170.94,65.15 L170.6,65.11 L170.26,65.07 L169.92,65.02 L169.58,64.98 L169.24,64.94 L168.9,64.9 Z" fill="#ff0051"/>
<path d="M219.8,64.2 L220.15,63.6 L220.51,63.01 L220.86,62.41 L221.21,61.82 L221.56,61.32 L221.92,60.95 L222.27,60.57 L222.62,60.19 L222.98,60.19 L223.33,60.57 L223.68,60.95 L224.04,61.32 L224.39,61.82 L224.74,62.41 L225.09,63.01 L225.45,63.6 L225.8,64.2 L225.8,64.8 L225.45,65.4 L225.09,65.99 L224.74,66.59 L224.39,67.18 L224.04,67.68 L223.68,68.05 L223.33,68.43 L222.98,68.81 L222.62,68.81 L222.27,68.43 L221.92,68.05 L221.56,67.68 L221.21,67.18 L220.86,66.59 L220.51,65.99 L220.15,65.4 L219.8,64.8 Z" fill="#008bfb"/>
<path d="M204.4,75.45 L204.75,74.85 L205.11,74.26 L205.46,73.66 L205.81,73.07 L206.16,72.57 L206.52,72.2 L206.87,71.82 L207.22,71.44 L207.58,71.44 L207.93,71.82 L208.28,72.2 L208.64,72.57 L208.99,73.07 L209.34,73.66 L209.69,74.26 L210.05,74.85 L210.4,75.45 L210.4,76.05 L210.05,76.65 L209.69,77.24 L209.34,77.84 L208.99,78.43 L208.64,78.93 L208.28,79.3 L207.93,79.68 L207.58,80.06 L207.22,80.06 L206.87,79.68 L206.52,79.3 L206.16,78.93 L205.81,78.43 L205.46,77.84 L205.11,77.24 L204.75,76.65 L204.4,76.05 Z" fill="#008bfb"/>
<path d="M219.3,75.25 L219.64,75.05 L219.99,74.84 L220.33,74.64 L220.68,74.43 L221.02,74.23 L221.37,74.03 L221.71,73.89 L222.06,73.79 L222.4,73.69 L222.75,73.59 L223.09,73.49 L223.44,73.4 L223.78,73.3 L224.13,73.2 L224.47,73.2 L224.82,73.3 L225.16,73.41 L225.51,73.51 L225.85,73.61 L226.2,73.71 L226.54,73.81 L226.89,73.92 L227.23,74.08 L227.58,74.28 L227.92,74.47 L228.27,74.67 L228.61,74.86 L228.96,75.06 L229.3,75.25 L229.3,76.25 L228.96,76.44 L228.61,76.64 L228.27,76.83 L227.92,77.03 L227.58,77.22 L227.23,77.42 L226.89,77.58 L226.54,77.69 L226.2,77.79 L225.85,77.89 L225.51,77.99 L225.16,78.09 L224.82,78.2 L224.47,78.3 L224.13,78.3 L223.78,78.2 L223.44,78.1 L223.09,78.01 L222.75,77.91 L222.4,77.81 L222.06,77.71 L221.71,77.61 L221.37,77.47 L221.02,77.27 L220.68,77.07 L220.33,76.86 L219.99,76.66 L219.64,76.45 L219.3,76.25 Z" fill="#ff0051"/>
<path d="M189.9,86.6 L190.25,86.49 L190.59,86.39 L190.94,86.28 L191.29,86.17 L191.64,86.07 L191.98,85.96 L192.33,85.85 L192.68,85.78 L193.03,85.73 L193.37,85.68 L193.72,85.64 L194.07,85.59 L194.41,85.54 L194.76,85.5 L195.11,85.45 L195.46,85.41 L195.8,85.43 L196.15,85.47 L196.5,85.51 L196.84,85.55 L197.19,85.59 L197.54,85.63 L197.89,85.67 L198.23,85.71 L198.58,85.75 L198.93,85.79 L199.28,85.86 L199.62,85.95 L199.97,86.03 L200.32,86.11 L200.66,86.19 L201.01,86.27 L201.36,86.35 L201.71,86.44 L202.05,86.52 L202.4,86.6 L202.4,87.4 L202.05,87.48 L201.71,87.56 L201.36,87.65 L201.01,87.73 L200.66,87.81 L200.32,87.89 L199.97,87.97 L199.62,88.05 L199.28,88.14 L198.93,88.21 L198.58,88.25 L198.23,88.29 L197.89,88.33 L197.54,88.37 L197.19,88.41 L196.84,88.45 L196.5,88.49 L196.15,88.53 L195.8,88.57 L195.46,88.59 L195.11,88.55 L194.76,88.5 L194.41,88.46 L194.07,88.41 L193.72,88.36 L193.37,88.32 L193.03,88.27 L192.68,88.22 L192.33,88.15 L191.98,88.04 L191.64,87.93 L191.29,87.83 L190.94,87.72 L190.59,87.61 L190.25,87.51 L189.9,87.4 Z" fill="#008bfb"/>
<path d="M217.8,86.6 L218.18,85.47 L218.55,84.35 L218.93,83.64 L219.3,83 L219.68,83.64 L220.05,84.35 L220.43,85.48 L220.8,86.6 L220.8,87.4 L220.43,88.52 L220.05,89.65 L219.68,90.36 L219.3,91 L218.93,90.36 L218.55,89.65 L218.18,88.53 L217.8,87.4 Z" fill="#ff0051"/>
<circle cx="191.5" cy="98.25" r="0.65" fill="#008bfb"/>
<linearGradient id="g6" gradientUnits="userSpaceOnUse" x1="193" y1="0" x2="207.9" y2="0"><stop offset="0" stop-color="#008bfb"/><stop offset="0.74" stop-color="#0084f9"/><stop offset="1" stop-color="#236cea"/></linearGradient>
<path d="M193,97.65 L193.35,97.63 L193.69,97.61 L194.04,97.59 L194.39,97.57 L194.73,97.55 L195.08,97.53 L195.43,97.5 L195.77,97.48 L196.12,97.46 L196.47,97.44 L196.81,97.42 L197.16,97.4 L197.5,97.38 L197.85,97.36 L198.2,97.34 L198.54,97.33 L198.89,97.31 L199.24,97.3 L199.58,97.29 L199.93,97.27 L200.28,97.26 L200.62,97.25 L200.97,97.23 L201.32,97.22 L201.66,97.2 L202.01,97.19 L202.36,97.18 L202.7,97.16 L203.05,97.15 L203.4,97.13 L203.74,97.12 L204.09,97.11 L204.43,97.09 L204.78,97.08 L205.13,97.06 L205.47,97.05 L205.82,97.03 L206.17,97.02 L206.51,97.01 L206.86,96.99 L207.21,96.98 L207.55,96.96 L207.9,96.95 L207.9,99.55 L207.55,99.54 L207.21,99.52 L206.86,99.51 L206.51,99.49 L206.17,99.48 L205.82,99.47 L205.47,99.45 L205.13,99.44 L204.78,99.42 L204.43,99.41 L204.09,99.39 L203.74,99.38 L203.4,99.37 L203.05,99.35 L202.7,99.34 L202.36,99.32 L202.01,99.31 L201.66,99.3 L201.32,99.28 L200.97,99.27 L200.62,99.25 L200.28,99.24 L199.93,99.23 L199.58,99.21 L199.24,99.2 L198.89,99.19 L198.54,99.17 L198.2,99.16 L197.85,99.14 L197.5,99.12 L197.16,99.1 L196.81,99.08 L196.47,99.06 L196.12,99.04 L195.77,99.02 L195.43,99 L195.08,98.97 L194.73,98.95 L194.39,98.93 L194.04,98.91 L193.69,98.89 L193.35,98.87 L193,98.85 Z" fill="url(#g6)"/>
<path d="M208.7,97.65 L209.06,96.42 L209.43,95.2 L209.79,94.66 L210.15,94.3 L210.52,93.93 L210.88,93.93 L211.25,94.3 L211.61,94.66 L211.97,95.2 L212.34,96.42 L212.7,97.65 L212.7,98.85 L212.34,100.08 L211.97,101.3 L211.61,101.84 L211.25,102.2 L210.88,102.57 L210.52,102.57 L210.15,102.2 L209.79,101.84 L209.43,101.3 L209.06,100.08 L208.7,98.85 Z" fill="#8443c6"/>
<path d="M214.3,97.95 L214.67,97.47 L215.04,96.99 L215.41,96.6 L215.78,96.44 L216.15,96.27 L216.52,96.39 L216.89,96.56 L217.26,96.88 L217.63,97.42 L218,97.95 L218,98.55 L217.63,99.08 L217.26,99.62 L216.89,99.94 L216.52,100.11 L216.15,100.23 L215.78,100.06 L215.41,99.9 L215.04,99.51 L214.67,99.03 L214.3,98.55 Z" fill="#ab15a7"/>
<linearGradient id="g7" gradientUnits="userSpaceOnUse" x1="218" y1="0" x2="235.2" y2="0"><stop offset="0" stop-color="#d5008f"/><stop offset="0.35" stop-color="#f20072"/><stop offset="0.7" stop-color="#ff0051"/></linearGradient>
<path d="M218,97.55 L218.34,97.45 L218.69,97.34 L219.03,97.24 L219.38,97.14 L219.72,97.03 L220.06,96.94 L220.41,96.89 L220.75,96.84 L221.1,96.79 L221.44,96.73 L221.78,96.68 L222.13,96.67 L222.47,96.72 L222.82,96.77 L223.16,96.82 L223.5,96.88 L223.85,96.93 L224.19,96.96 L224.54,96.98 L224.88,96.99 L225.22,97.01 L225.57,97.03 L225.91,97.05 L226.26,97.06 L226.6,97.08 L226.94,97.1 L227.29,97.11 L227.63,97.13 L227.98,97.15 L228.32,97.17 L228.66,97.2 L229.01,97.22 L229.35,97.24 L229.7,97.27 L230.04,97.29 L230.38,97.32 L230.73,97.34 L231.07,97.36 L231.42,97.39 L231.76,97.41 L232.1,97.44 L232.45,97.46 L232.79,97.48 L233.14,97.51 L233.48,97.53 L233.82,97.55 L234.17,97.58 L234.51,97.6 L234.86,97.63 L235.2,97.65 L235.2,98.85 L234.86,98.87 L234.51,98.9 L234.17,98.92 L233.82,98.95 L233.48,98.97 L233.14,98.99 L232.79,99.02 L232.45,99.04 L232.1,99.06 L231.76,99.09 L231.42,99.11 L231.07,99.14 L230.73,99.16 L230.38,99.18 L230.04,99.21 L229.7,99.23 L229.35,99.26 L229.01,99.28 L228.66,99.3 L228.32,99.33 L227.98,99.35 L227.63,99.37 L227.29,99.39 L226.94,99.4 L226.6,99.42 L226.26,99.44 L225.91,99.45 L225.57,99.47 L225.22,99.49 L224.88,99.51 L224.54,99.52 L224.19,99.54 L223.85,99.57 L223.5,99.62 L223.16,99.68 L222.82,99.73 L222.47,99.78 L222.13,99.83 L221.78,99.82 L221.44,99.77 L221.1,99.71 L220.75,99.66 L220.41,99.61 L220.06,99.56 L219.72,99.47 L219.38,99.36 L219.03,99.26 L218.69,99.16 L218.34,99.05 L218,98.95 Z" fill="url(#g7)"/>
<linearGradient id="g8" gradientUnits="userSpaceOnUse" x1="205.3" y1="0" x2="214" y2="0"><stop offset="0" stop-color="#008bfb"/><stop offset="0.77" stop-color="#0084f9"/><stop offset="1" stop-color="#236cea"/></linearGradient>
<path d="M205.3,108.7 L205.65,108.37 L206,108.04 L206.34,107.72 L206.69,107.39 L207.04,107.09 L207.39,107.01 L207.74,106.93 L208.08,106.85 L208.43,106.77 L208.78,106.69 L209.13,106.61 L209.48,106.53 L209.82,106.55 L210.17,106.62 L210.52,106.69 L210.87,106.76 L211.22,106.84 L211.56,106.91 L211.91,106.98 L212.26,107.13 L212.61,107.3 L212.96,107.48 L213.3,107.65 L213.65,107.83 L214,108 L214,111 L213.65,111.17 L213.3,111.35 L212.96,111.52 L212.61,111.7 L212.26,111.87 L211.91,112.02 L211.56,112.09 L211.22,112.16 L210.87,112.24 L210.52,112.31 L210.17,112.38 L209.82,112.45 L209.48,112.47 L209.13,112.39 L208.78,112.31 L208.43,112.23 L208.08,112.15 L207.74,112.07 L207.39,111.99 L207.04,111.91 L206.69,111.61 L206.34,111.28 L206,110.96 L205.65,110.63 L205.3,110.3 Z" fill="url(#g8)"/>
<linearGradient id="g9" gradientUnits="userSpaceOnUse" x1="212.3" y1="0" x2="216.8" y2="0"><stop offset="0" stop-color="#236cea"/><stop offset="1" stop-color="#8443c6"/></linearGradient>
<path d="M212.3,107.9 L212.68,107.07 L213.05,106.23 L213.43,105.76 L213.8,105.53 L214.18,105.3 L214.55,105.13 L214.93,105.36 L215.3,105.59 L215.68,105.82 L216.05,106.4 L216.43,107.15 L216.8,107.9 L216.8,111.1 L216.43,111.85 L216.05,112.6 L215.68,113.18 L215.3,113.41 L214.93,113.64 L214.55,113.87 L214.18,113.7 L213.8,113.47 L213.43,113.24 L213.05,112.77 L212.68,111.93 L212.3,111.1 Z" fill="url(#g9)"/>
<linearGradient id="g10" gradientUnits="userSpaceOnUse" x1="216.5" y1="0" x2="233.7" y2="0"><stop offset="0" stop-color="#9135ba"/><stop offset="0.32" stop-color="#d5008f"/><stop offset="0.67" stop-color="#f90067"/><stop offset="0.96" stop-color="#ff0051"/></linearGradient>
<path d="M216.5,108.1 L216.84,108.09 L217.19,108.09 L217.53,108.08 L217.88,108.07 L218.22,108.07 L218.56,108.06 L218.91,108.06 L219.25,108.05 L219.6,108.04 L219.94,108.04 L220.28,108.03 L220.63,108.02 L220.97,108.02 L221.32,108.01 L221.66,108.01 L222,108 L222.35,108.01 L222.69,108.03 L223.04,108.04 L223.38,108.06 L223.72,108.07 L224.07,108.08 L224.41,108.1 L224.76,108.11 L225.1,108.12 L225.44,108.14 L225.79,108.15 L226.13,108.17 L226.48,108.18 L226.82,108.19 L227.16,108.22 L227.51,108.25 L227.85,108.29 L228.2,108.32 L228.54,108.36 L228.88,108.4 L229.23,108.43 L229.57,108.47 L229.92,108.5 L230.26,108.54 L230.6,108.58 L230.95,108.61 L231.29,108.65 L231.64,108.68 L231.98,108.72 L232.32,108.76 L232.67,108.79 L233.01,108.83 L233.36,108.86 L233.7,108.9 L233.7,110.1 L233.36,110.14 L233.01,110.17 L232.67,110.21 L232.32,110.24 L231.98,110.28 L231.64,110.32 L231.29,110.35 L230.95,110.39 L230.6,110.42 L230.26,110.46 L229.92,110.5 L229.57,110.53 L229.23,110.57 L228.88,110.6 L228.54,110.64 L228.2,110.68 L227.85,110.71 L227.51,110.75 L227.16,110.78 L226.82,110.81 L226.48,110.82 L226.13,110.83 L225.79,110.85 L225.44,110.86 L225.1,110.88 L224.76,110.89 L224.41,110.9 L224.07,110.92 L223.72,110.93 L223.38,110.94 L223.04,110.96 L222.69,110.97 L222.35,110.99 L222,111 L221.66,110.99 L221.32,110.99 L220.97,110.98 L220.63,110.98 L220.28,110.97 L219.94,110.96 L219.6,110.96 L219.25,110.95 L218.91,110.94 L218.56,110.94 L218.22,110.93 L217.88,110.93 L217.53,110.92 L217.19,110.91 L216.84,110.91 L216.5,110.9 Z" fill="url(#g10)"/>
<circle cx="236.3" cy="109.5" r="0.65" fill="#ff0051"/>
<path d="M203,120.25 L203.35,120.13 L203.71,120.01 L204.06,119.9 L204.41,119.78 L204.77,119.66 L205.12,119.54 L205.47,119.43 L205.83,119.31 L206.18,119.2 L206.53,119.1 L206.89,119 L207.24,118.9 L207.59,118.8 L207.95,118.7 L208.3,118.61 L208.65,118.52 L209.01,118.45 L209.36,118.38 L209.71,118.31 L210.07,118.27 L210.42,118.4 L210.77,118.52 L211.13,118.64 L211.48,118.77 L211.83,118.89 L212.19,119.09 L212.54,119.35 L212.89,119.62 L213.25,119.89 L213.6,120.15 L213.6,121.35 L213.25,121.61 L212.89,121.88 L212.54,122.15 L212.19,122.41 L211.83,122.61 L211.48,122.73 L211.13,122.86 L210.77,122.98 L210.42,123.1 L210.07,123.23 L209.71,123.19 L209.36,123.12 L209.01,123.05 L208.65,122.98 L208.3,122.89 L207.95,122.8 L207.59,122.7 L207.24,122.6 L206.89,122.5 L206.53,122.4 L206.18,122.3 L205.83,122.19 L205.47,122.07 L205.12,121.96 L204.77,121.84 L204.41,121.72 L204.06,121.6 L203.71,121.49 L203.35,121.37 L203,121.25 Z" fill="#ff0051"/>
<path d="M213.4,120.45 L213.76,120.08 L214.12,119.7 L214.47,119.33 L214.83,118.95 L215.19,118.58 L215.55,118.2 L215.91,117.94 L216.27,117.71 L216.62,117.47 L216.98,117.23 L217.34,116.99 L217.7,116.75 L218.06,116.99 L218.42,117.23 L218.78,117.47 L219.13,117.71 L219.49,117.94 L219.85,118.2 L220.21,118.58 L220.57,118.95 L220.93,119.33 L221.28,119.7 L221.64,120.08 L222,120.45 L222,121.05 L221.64,121.42 L221.28,121.8 L220.93,122.17 L220.57,122.55 L220.21,122.92 L219.85,123.3 L219.49,123.56 L219.13,123.79 L218.78,124.03 L218.42,124.27 L218.06,124.51 L217.7,124.75 L217.34,124.51 L216.98,124.27 L216.62,124.03 L216.27,123.79 L215.91,123.56 L215.55,123.3 L215.19,122.92 L214.83,122.55 L214.47,122.17 L214.12,121.8 L213.76,121.42 L213.4,121.05 Z" fill="#008bfb"/>
<line x1="501" y1="20.3" x2="653.5" y2="20.3" stroke="#e0e0e0" stroke-width="0.5" stroke-dasharray="0.7 1.3"/>
<line x1="501" y1="32.1" x2="653.5" y2="32.1" stroke="#e0e0e0" stroke-width="0.5" stroke-dasharray="0.7 1.3"/>
<line x1="501" y1="43.9" x2="653.5" y2="43.9" stroke="#e0e0e0" stroke-width="0.5" stroke-dasharray="0.7 1.3"/>
<line x1="501" y1="55.7" x2="653.5" y2="55.7" stroke="#e0e0e0" stroke-width="0.5" stroke-dasharray="0.7 1.3"/>
<line x1="501" y1="67.5" x2="653.5" y2="67.5" stroke="#e0e0e0" stroke-width="0.5" stroke-dasharray="0.7 1.3"/>
<line x1="501" y1="79.3" x2="653.5" y2="79.3" stroke="#e0e0e0" stroke-width="0.5" stroke-dasharray="0.7 1.3"/>
<line x1="501" y1="91.1" x2="653.5" y2="91.1" stroke="#e0e0e0" stroke-width="0.5" stroke-dasharray="0.7 1.3"/>
<line x1="501" y1="102.9" x2="653.5" y2="102.9" stroke="#e0e0e0" stroke-width="0.5" stroke-dasharray="0.7 1.3"/>
<line x1="501" y1="114.7" x2="653.5" y2="114.7" stroke="#e0e0e0" stroke-width="0.5" stroke-dasharray="0.7 1.3"/>
<line x1="501" y1="126.5" x2="653.5" y2="126.5" stroke="#e0e0e0" stroke-width="0.5" stroke-dasharray="0.7 1.3"/>
<line x1="573.3" y1="8.9" x2="573.3" y2="138.3" stroke="#b0b0b0" stroke-width="0.7"/>
<line x1="502" y1="138.3" x2="654" y2="138.3" stroke="#707070" stroke-width="0.9"/>
<line x1="502.6" y1="138.3" x2="502.6" y2="139.6" stroke="#444" stroke-width="0.5"/>
<text x="502.6" y="145.8" font-size="5.3" text-anchor="middle" fill="#444" stroke="#444" stroke-width="0.12" font-family="Liberation Serif, serif" textLength="13.8" lengthAdjust="spacingAndGlyphs"><tspan fill="#f2f2f2" stroke="none">−</tspan>0.10</text>
<line x1="537.95" y1="138.3" x2="537.95" y2="139.6" stroke="#444" stroke-width="0.5"/>
<text x="537.95" y="145.8" font-size="5.3" text-anchor="middle" fill="#444" stroke="#444" stroke-width="0.12" font-family="Liberation Serif, serif" textLength="13.8" lengthAdjust="spacingAndGlyphs"><tspan fill="#f2f2f2" stroke="none">−</tspan>0.05</text>
<line x1="573.3" y1="138.3" x2="573.3" y2="139.6" stroke="#444" stroke-width="0.5"/>
<text x="573.3" y="145.8" font-size="5.3" text-anchor="middle" fill="#444" color="#444" font-family="Liberation Serif, serif" textLength="10.9" lengthAdjust="spacingAndGlyphs" stroke-width="0.12" stroke="currentColor">0.00</text>
<line x1="608.65" y1="138.3" x2="608.65" y2="139.6" stroke="#444" stroke-width="0.5"/>
<text x="608.65" y="145.8" font-size="5.3" text-anchor="middle" fill="#444" color="#444" font-family="Liberation Serif, serif" textLength="10.9" lengthAdjust="spacingAndGlyphs" stroke-width="0.12" stroke="currentColor">0.05</text>
<line x1="644" y1="138.3" x2="644" y2="139.6" stroke="#444" stroke-width="0.5"/>
<text x="644" y="145.8" font-size="5.3" text-anchor="middle" fill="#444" color="#444" font-family="Liberation Serif, serif" textLength="10.9" lengthAdjust="spacingAndGlyphs" stroke-width="0.12" stroke="currentColor">0.10</text>
<text x="491.8" y="22.76" font-size="5.95" text-anchor="end" fill="#2a2a2a" color="#2a2a2a" font-family="Liberation Serif, serif" textLength="9.91" lengthAdjust="spacingAndGlyphs" stroke-width="0.12" stroke="currentColor">Age</text>
<text x="491.8" y="34.56" font-size="5.95" text-anchor="end" fill="#2a2a2a" color="#2a2a2a" font-family="Liberation Serif, serif" textLength="45.94" lengthAdjust="spacingAndGlyphs" stroke-width="0.12" stroke="currentColor">Any restraints used</text>
<text x="491.8" y="46.36" font-size="5.95" text-anchor="end" fill="#2a2a2a" color="#2a2a2a" font-family="Liberation Serif, serif" textLength="32.88" lengthAdjust="spacingAndGlyphs" stroke-width="0.12" stroke="currentColor">Unsteady gait</text>
<text x="491.8" y="58.16" font-size="5.95" text-anchor="end" fill="#2a2a2a" color="#2a2a2a" font-family="Liberation Serif, serif" textLength="11.57" lengthAdjust="spacingAndGlyphs" stroke-width="0.12" stroke="currentColor">ABS</text>
<text x="491.8" y="69.96" font-size="5.95" text-anchor="end" fill="#2a2a2a" color="#2a2a2a" font-family="Liberation Serif, serif" textLength="16.53" lengthAdjust="spacingAndGlyphs" stroke-width="0.12" stroke="currentColor">ADLH</text>
<text x="491.8" y="81.76" font-size="5.95" text-anchor="end" fill="#2a2a2a" color="#2a2a2a" font-family="Liberation Serif, serif" textLength="17.51" lengthAdjust="spacingAndGlyphs" stroke-width="0.12" stroke="currentColor">Gender</text>
<text x="491.8" y="93.56" font-size="5.95" text-anchor="end" fill="#2a2a2a" color="#2a2a2a" font-family="Liberation Serif, serif" textLength="136.82" lengthAdjust="spacingAndGlyphs" stroke-width="0.12" stroke="currentColor">Physician visits, doctors orders changed or abnormal labs</text>
<text x="491.8" y="105.36" font-size="5.95" text-anchor="end" fill="#2a2a2a" color="#2a2a2a" font-family="Liberation Serif, serif" textLength="98" lengthAdjust="spacingAndGlyphs" stroke-width="0.12" stroke="currentColor">No problems with eating and swallowing</text>
<text x="491.8" y="117.16" font-size="5.95" text-anchor="end" fill="#2a2a2a" color="#2a2a2a" font-family="Liberation Serif, serif" textLength="60.15" lengthAdjust="spacingAndGlyphs" stroke-width="0.12" stroke="currentColor">Number of comorbidities</text>
<text x="491.8" y="128.96" font-size="5.95" text-anchor="end" fill="#2a2a2a" color="#2a2a2a" font-family="Liberation Serif, serif" textLength="10.59" lengthAdjust="spacingAndGlyphs" stroke-width="0.12" stroke="currentColor">CPS</text>
<text x="577.85" y="5.9" font-size="7.4" text-anchor="middle" fill="#111" color="#111" font-family="Liberation Serif, serif" textLength="29.9" lengthAdjust="spacingAndGlyphs" stroke-width="0.12" stroke="currentColor">DR-learner</text>
<text x="578" y="152.8" font-size="5.8" text-anchor="middle" fill="#222" color="#222" font-family="Liberation Serif, serif" textLength="92" lengthAdjust="spacingAndGlyphs" stroke-width="0.12" stroke="currentColor">SHAP value (impact on model output)</text>
<linearGradient id="cb11" x1="0" y1="0" x2="0" y2="1"><stop offset="0" stop-color="#ff0051"/><stop offset="0.05" stop-color="#fe005c"/><stop offset="0.1" stop-color="#f90067"/><stop offset="0.15" stop-color="#f20072"/><stop offset="0.2" stop-color="#e9007c"/><stop offset="0.25" stop-color="#e00086"/><stop offset="0.3" stop-color="#d5008f"/><stop offset="0.35" stop-color="#c80098"/><stop offset="0.4" stop-color="#bb00a0"/><stop offset="0.45" stop-color="#ab15a7"/><stop offset="0.5" stop-color="#9b23ad"/><stop offset="0.55" stop-color="#9135ba"/><stop offset="0.6" stop-color="#8443c6"/><stop offset="0.65" stop-color="#754fd1"/><stop offset="0.7" stop-color="#6359da"/><stop offset="0.75" stop-color="#4b63e3"/><stop offset="0.8" stop-color="#236cea"/><stop offset="0.85" stop-color="#0074f0"/><stop offset="0.9" stop-color="#007cf5"/><stop offset="0.95" stop-color="#0084f9"/><stop offset="1" stop-color="#008bfb"/></linearGradient>
<rect x="663.6" y="8" width="1.6" height="129.9" fill="url(#cb11)"/>
<text x="666.4" y="10.4" font-size="6.5" text-anchor="start" fill="#444" color="#444" font-family="Liberation Serif, serif" textLength="11.2" lengthAdjust="spacingAndGlyphs" stroke-width="0.12" stroke="currentColor">High</text>
<text x="666.2" y="140.9" font-size="6.5" text-anchor="start" fill="#333" color="#333" font-family="Liberation Serif, serif" textLength="10.4" lengthAdjust="spacingAndGlyphs" stroke-width="0.12" stroke="currentColor">Low</text>
<text x="0" y="0" font-size="8" text-anchor="middle" fill="#2a2a2a" font-family="Liberation Serif, serif" textLength="44.5" lengthAdjust="spacingAndGlyphs" transform="translate(683.7,73.2) rotate(-90)">Variable value</text>
<text x="513.7" y="182" font-size="16" text-anchor="middle" fill="#111" color="#111" font-family="Liberation Serif, serif" stroke-width="0.12" stroke="currentColor">(b)</text>
<rect x="507.55" y="19.4" width="1.5" height="1.81" rx="0.4" fill="#008bfb"/>
<rect x="510.85" y="19.35" width="1.5" height="1.9" rx="0.4" fill="#008afb"/>
<rect x="514.14" y="19.31" width="1.5" height="1.99" rx="0.4" fill="#008afb"/>
<rect x="517.44" y="19.26" width="1.5" height="2.08" rx="0.4" fill="#008afb"/>
<rect x="520.73" y="19.22" width="1.5" height="2.17" rx="0.4" fill="#008afa"/>
<rect x="524.02" y="19.17" width="1.5" height="2.26" rx="0.4" fill="#0089fa"/>
<rect x="527.32" y="19.13" width="1.5" height="2.35" rx="0.4" fill="#0089fa"/>
<rect x="530.62" y="18.98" width="1.5" height="2.63" rx="0.4" fill="#0089fa"/>
<rect x="533.91" y="18.7" width="1.5" height="3.2" rx="0.4" fill="#0088fa"/>
<rect x="537.21" y="18.42" width="1.5" height="3.76" rx="0.4" fill="#0088fa"/>
<rect x="540.5" y="18.15" width="1.5" height="4.31" rx="0.4" fill="#0088fa"/>
<rect x="543.8" y="17.89" width="1.5" height="4.82" rx="0.4" fill="#007ef6"/>
<rect x="547.09" y="17.65" width="1.5" height="5.29" rx="0.4" fill="#3c67e6"/>
<rect x="550.38" y="17.42" width="1.5" height="5.76" rx="0.4" fill="#6f53d4"/>
<rect x="553.68" y="17.18" width="1.5" height="6.23" rx="0.4" fill="#7a4bce"/>
<rect x="556.98" y="16.98" width="1.5" height="6.64" rx="0.4" fill="#8343c6"/>
<rect x="560.27" y="16.89" width="1.5" height="6.83" rx="0.4" fill="#8d39be"/>
<rect x="563.57" y="16.78" width="1.5" height="7.05" rx="0.4" fill="#972ab2"/>
<rect x="566.86" y="16.54" width="1.5" height="7.52" rx="0.4" fill="#a41caa"/>
<rect x="570.15" y="16.31" width="1.5" height="7.99" rx="0.4" fill="#b10ea4"/>
<rect x="573.45" y="15.66" width="1.5" height="9.28" rx="0.4" fill="#bd009e"/>
<rect x="576.75" y="15.5" width="1.5" height="9.6" rx="0.4" fill="#c70098"/>
<rect x="580.04" y="15.5" width="1.5" height="9.6" rx="0.4" fill="#cf0093"/>
<rect x="583.34" y="15.5" width="1.5" height="9.6" rx="0.4" fill="#d7008d"/>
<rect x="586.63" y="15.5" width="1.5" height="9.6" rx="0.4" fill="#e00086"/>
<rect x="589.93" y="15.5" width="1.5" height="9.6" rx="0.4" fill="#e8007d"/>
<rect x="593.22" y="15.73" width="1.5" height="9.15" rx="0.4" fill="#f00074"/>
<rect x="596.51" y="16.1" width="1.5" height="8.4" rx="0.4" fill="#f6006c"/>
<rect x="599.81" y="16.56" width="1.5" height="7.48" rx="0.4" fill="#fb0063"/>
<rect x="603.11" y="17.11" width="1.5" height="6.38" rx="0.4" fill="#ff005b"/>
<rect x="606.4" y="17.67" width="1.5" height="5.26" rx="0.4" fill="#ff0055"/>
<rect x="609.7" y="18.23" width="1.5" height="4.13" rx="0.4" fill="#ff0051"/>
<rect x="612.99" y="18.65" width="1.5" height="3.3" rx="0.4" fill="#ff0051"/>
<rect x="616.29" y="18.93" width="1.5" height="2.74" rx="0.4" fill="#ff0051"/>
<rect x="619.58" y="19.11" width="1.5" height="2.37" rx="0.4" fill="#ff0051"/>
<rect x="622.88" y="19.14" width="1.5" height="2.31" rx="0.4" fill="#ff0051"/>
<rect x="626.17" y="19.18" width="1.5" height="2.25" rx="0.4" fill="#ff0051"/>
<rect x="629.47" y="19.21" width="1.5" height="2.19" rx="0.4" fill="#ff0051"/>
<rect x="632.76" y="19.24" width="1.5" height="2.12" rx="0.4" fill="#ff0051"/>
<rect x="636.06" y="19.27" width="1.5" height="2.06" rx="0.4" fill="#ff0051"/>
<rect x="639.35" y="19.3" width="1.5" height="2" rx="0.4" fill="#ff0051"/>
<rect x="646.35" y="19.5" width="1.5" height="1.6" rx="0.4" fill="#ff0051"/>
<rect x="541.95" y="29.3" width="1.5" height="5.6" rx="0.4" fill="#008bfb"/>
<rect x="587.55" y="27.6" width="1.5" height="9" rx="0.4" fill="#ff0051"/>
<rect x="552.95" y="40.9" width="1.5" height="6" rx="0.4" fill="#ff0051"/>
<rect x="585.25" y="38.9" width="1.5" height="10" rx="0.4" fill="#008bfb"/>
<rect x="560.45" y="51.2" width="1.5" height="9" rx="0.4" fill="#008bfb"/>
<rect x="565.15" y="53.5" width="1.5" height="4.4" rx="0.4" fill="#0084f9"/>
<rect x="569.25" y="53.9" width="1.5" height="3.6" rx="0.4" fill="#4b63e3"/>
<rect x="573.95" y="54.2" width="1.5" height="3" rx="0.4" fill="#8443c6"/>
<rect x="578.65" y="54.4" width="1.5" height="2.6" rx="0.4" fill="#9b23ad"/>
<rect x="583.25" y="54.7" width="1.5" height="2" rx="0.4" fill="#c0009c"/>
<rect x="587.75" y="54.7" width="1.5" height="2" rx="0.4" fill="#cc0095"/>
<rect x="592.25" y="54.7" width="1.5" height="2" rx="0.4" fill="#d7008d"/>
<rect x="596.85" y="54.7" width="1.5" height="2" rx="0.4" fill="#e10085"/>
<rect x="601.45" y="54.7" width="1.5" height="2" rx="0.4" fill="#e9007c"/>
<rect x="606.05" y="54.7" width="1.5" height="2" rx="0.4" fill="#f10073"/>
<rect x="610.65" y="54.7" width="1.5" height="2" rx="0.4" fill="#f70069"/>
<rect x="615.45" y="54.7" width="1.5" height="2" rx="0.4" fill="#fd0060"/>
<rect x="545.25" y="66.5" width="1.5" height="2" rx="0.4" fill="#008bfb"/>
<rect x="552.55" y="65.7" width="1.5" height="3.6" rx="0.4" fill="#008bfb"/>
<rect x="559.55" y="65.3" width="1.5" height="4.4" rx="0.4" fill="#0084f9"/>
<rect x="566.25" y="63" width="1.5" height="9" rx="0.4" fill="#8443c6"/>
<rect x="573.55" y="65.5" width="1.5" height="4" rx="0.4" fill="#bb00a0"/>
<rect x="581.05" y="63" width="1.5" height="9" rx="0.4" fill="#e9007c"/>
<rect x="588.05" y="64" width="1.5" height="7" rx="0.4" fill="#ff0051"/>
<rect x="564.65" y="74.3" width="1.5" height="10" rx="0.4" fill="#ff0051"/>
<rect x="587.35" y="76.5" width="1.5" height="5.6" rx="0.4" fill="#008bfb"/>
<rect x="564.65" y="86.3" width="1.5" height="9.6" rx="0.4" fill="#008bfb"/>
<rect x="584.95" y="87.3" width="1.5" height="7.6" rx="0.4" fill="#ff0051"/>
<rect x="558.85" y="100.6" width="1.5" height="4.6" rx="0.4" fill="#008bfb"/>
<rect x="576.35" y="98.1" width="1.5" height="9.6" rx="0.4" fill="#ff0051"/>
<rect x="558.85" y="113.7" width="1.5" height="2" rx="0.4" fill="#008bfb"/>
<rect x="562.75" y="112.7" width="1.5" height="4" rx="0.4" fill="#008bfb"/>
<rect x="566.95" y="110.2" width="1.5" height="9" rx="0.4" fill="#0084f9"/>
<rect x="571.25" y="109.9" width="1.5" height="9.6" rx="0.4" fill="#6359da"/>
<rect x="575.15" y="110.2" width="1.5" height="9" rx="0.4" fill="#9135ba"/>
<rect x="579.35" y="111.9" width="1.5" height="5.6" rx="0.4" fill="#c80098"/>
<rect x="583.35" y="112.9" width="1.5" height="3.6" rx="0.4" fill="#e9007c"/>
<rect x="587.25" y="113.7" width="1.5" height="2" rx="0.4" fill="#f6006b"/>
<rect x="591.45" y="113.7" width="1.5" height="2" rx="0.4" fill="#f90067"/>
<rect x="595.65" y="113.7" width="1.5" height="2" rx="0.4" fill="#fb0063"/>
<rect x="599.85" y="113.7" width="1.5" height="2" rx="0.4" fill="#fd005e"/>
<rect x="604.05" y="113.7" width="1.5" height="2" rx="0.4" fill="#ff005a"/>
<rect x="608.25" y="113.7" width="1.5" height="2" rx="0.4" fill="#ff0056"/>
<rect x="612.25" y="113.7" width="1.5" height="2" rx="0.4" fill="#ff0051"/>
<rect x="616.05" y="113.7" width="1.5" height="2" rx="0.4" fill="#ff0051"/>
<rect x="555.75" y="125.5" width="1.5" height="2" rx="0.4" fill="#008bfb"/>
<rect x="560.45" y="125.3" width="1.5" height="2.4" rx="0.4" fill="#008bfb"/>
<rect x="564.65" y="125.3" width="1.5" height="2.4" rx="0.4" fill="#008bfb"/>
<rect x="568.85" y="121.7" width="1.5" height="9.6" rx="0.4" fill="#8443c6"/>
<rect x="573.55" y="124.5" width="1.5" height="4" rx="0.4" fill="#bb00a0"/>
<rect x="577.95" y="123.5" width="1.5" height="6" rx="0.4" fill="#e00086"/>
<rect x="582.15" y="124.2" width="1.5" height="4.6" rx="0.4" fill="#f90067"/>
<line x1="155" y1="218.1" x2="310.5" y2="218.1" stroke="#e0e0e0" stroke-width="0.5" stroke-dasharray="0.7 1.3"/>
<line x1="155" y1="230.32" x2="310.5" y2="230.32" stroke="#e0e0e0" stroke-width="0.5" stroke-dasharray="0.7 1.3"/>
<line x1="155" y1="242.54" x2="310.5" y2="242.54" stroke="#e0e0e0" stroke-width="0.5" stroke-dasharray="0.7 1.3"/>
<line x1="155" y1="254.76" x2="310.5" y2="254.76" stroke="#e0e0e0" stroke-width="0.5" stroke-dasharray="0.7 1.3"/>
<line x1="155" y1="266.98" x2="310.5" y2="266.98" stroke="#e0e0e0" stroke-width="0.5" stroke-dasharray="0.7 1.3"/>
<line x1="155" y1="279.2" x2="310.5" y2="279.2" stroke="#e0e0e0" stroke-width="0.5" stroke-dasharray="0.7 1.3"/>
<line x1="155" y1="291.42" x2="310.5" y2="291.42" stroke="#e0e0e0" stroke-width="0.5" stroke-dasharray="0.7 1.3"/>
<line x1="155" y1="303.64" x2="310.5" y2="303.64" stroke="#e0e0e0" stroke-width="0.5" stroke-dasharray="0.7 1.3"/>
<line x1="155" y1="315.86" x2="310.5" y2="315.86" stroke="#e0e0e0" stroke-width="0.5" stroke-dasharray="0.7 1.3"/>
<line x1="155" y1="328.08" x2="310.5" y2="328.08" stroke="#e0e0e0" stroke-width="0.5" stroke-dasharray="0.7 1.3"/>
<line x1="228.5" y1="206" x2="228.5" y2="340.5" stroke="#b0b0b0" stroke-width="0.7"/>
<line x1="154.2" y1="340.5" x2="311.8" y2="340.5" stroke="#707070" stroke-width="0.9"/>
<line x1="164.3" y1="340.5" x2="164.3" y2="341.8" stroke="#444" stroke-width="0.5"/>
<text x="164.3" y="347.7" font-size="5.3" text-anchor="middle" fill="#444" stroke="#444" stroke-width="0.12" font-family="Liberation Serif, serif" textLength="13.7" lengthAdjust="spacingAndGlyphs"><tspan fill="#cfcfcf" stroke="none">−</tspan>0.10</text>
<line x1="196.3" y1="340.5" x2="196.3" y2="341.8" stroke="#444" stroke-width="0.5"/>
<text x="196.3" y="347.7" font-size="5.3" text-anchor="middle" fill="#444" stroke="#444" stroke-width="0.12" font-family="Liberation Serif, serif" textLength="13.7" lengthAdjust="spacingAndGlyphs"><tspan fill="#cfcfcf" stroke="none">−</tspan>0.05</text>
<line x1="228.45" y1="340.5" x2="228.45" y2="341.8" stroke="#444" stroke-width="0.5"/>
<text x="228.45" y="347.7" font-size="5.3" text-anchor="middle" fill="#444" color="#444" font-family="Liberation Serif, serif" textLength="10.8" lengthAdjust="spacingAndGlyphs" stroke-width="0.12" stroke="currentColor">0.00</text>
<line x1="260.2" y1="340.5" x2="260.2" y2="341.8" stroke="#444" stroke-width="0.5"/>
<text x="260.2" y="347.7" font-size="5.3" text-anchor="middle" fill="#444" color="#444" font-family="Liberation Serif, serif" textLength="10.8" lengthAdjust="spacingAndGlyphs" stroke-width="0.12" stroke="currentColor">0.05</text>
<line x1="292.1" y1="340.5" x2="292.1" y2="341.8" stroke="#444" stroke-width="0.5"/>
<text x="292.1" y="347.7" font-size="5.3" text-anchor="middle" fill="#444" color="#444" font-family="Liberation Serif, serif" textLength="10.8" lengthAdjust="spacingAndGlyphs" stroke-width="0.12" stroke="currentColor">0.10</text>
<text x="143.4" y="220.65" font-size="6.2" text-anchor="end" fill="#2a2a2a" color="#2a2a2a" font-family="Liberation Serif, serif" textLength="10.33" lengthAdjust="spacingAndGlyphs" stroke-width="0.12" stroke="currentColor">Age</text>
<text x="143.4" y="232.87" font-size="6.2" text-anchor="end" fill="#2a2a2a" color="#2a2a2a" font-family="Liberation Serif, serif" textLength="47.87" lengthAdjust="spacingAndGlyphs" stroke-width="0.12" stroke="currentColor">Any restraints used</text>
<text x="143.4" y="245.09" font-size="6.2" text-anchor="end" fill="#2a2a2a" color="#2a2a2a" font-family="Liberation Serif, serif" textLength="34.26" lengthAdjust="spacingAndGlyphs" stroke-width="0.12" stroke="currentColor">Unsteady gait</text>
<text x="143.4" y="257.31" font-size="6.2" text-anchor="end" fill="#2a2a2a" color="#2a2a2a" font-family="Liberation Serif, serif" textLength="17.22" lengthAdjust="spacingAndGlyphs" stroke-width="0.12" stroke="currentColor">ADLH</text>
<text x="143.4" y="269.53" font-size="6.2" text-anchor="end" fill="#2a2a2a" color="#2a2a2a" font-family="Liberation Serif, serif" textLength="12.06" lengthAdjust="spacingAndGlyphs" stroke-width="0.12" stroke="currentColor">ABS</text>
<text x="143.4" y="281.75" font-size="6.2" text-anchor="end" fill="#2a2a2a" color="#2a2a2a" font-family="Liberation Serif, serif" textLength="142.57" lengthAdjust="spacingAndGlyphs" stroke-width="0.12" stroke="currentColor">Physician visits, doctors orders changed or abnormal labs</text>
<text x="143.4" y="293.97" font-size="6.2" text-anchor="end" fill="#2a2a2a" color="#2a2a2a" font-family="Liberation Serif, serif" textLength="102.11" lengthAdjust="spacingAndGlyphs" stroke-width="0.12" stroke="currentColor">No problems with eating and swallowing</text>
<text x="143.4" y="306.19" font-size="6.2" text-anchor="end" fill="#2a2a2a" color="#2a2a2a" font-family="Liberation Serif, serif" textLength="90.59" lengthAdjust="spacingAndGlyphs" stroke-width="0.12" stroke="currentColor">Hospital or ER visits (last 6 months)</text>
<text x="143.4" y="318.41" font-size="6.2" text-anchor="end" fill="#2a2a2a" color="#2a2a2a" font-family="Liberation Serif, serif" textLength="18.25" lengthAdjust="spacingAndGlyphs" stroke-width="0.12" stroke="currentColor">Gender</text>
<text x="143.4" y="330.63" font-size="6.2" text-anchor="end" fill="#2a2a2a" color="#2a2a2a" font-family="Liberation Serif, serif" textLength="11.03" lengthAdjust="spacingAndGlyphs" stroke-width="0.12" stroke="currentColor">CPS</text>
<text x="232.95" y="203.2" font-size="8.4" text-anchor="middle" fill="#111" color="#111" font-family="Liberation Serif, serif" textLength="17.3" lengthAdjust="spacingAndGlyphs" stroke-width="0.12" stroke="currentColor">DML</text>
<text x="233" y="355.2" font-size="5.9" text-anchor="middle" fill="#222" color="#222" font-family="Liberation Serif, serif" textLength="95.6" lengthAdjust="spacingAndGlyphs" stroke-width="0.12" stroke="currentColor">SHAP value (impact on model output)</text>
<linearGradient id="cb12" x1="0" y1="0" x2="0" y2="1"><stop offset="0" stop-color="#ff0051"/><stop offset="0.05" stop-color="#fe005c"/><stop offset="0.1" stop-color="#f90067"/><stop offset="0.15" stop-color="#f20072"/><stop offset="0.2" stop-color="#e9007c"/><stop offset="0.25" stop-color="#e00086"/><stop offset="0.3" stop-color="#d5008f"/><stop offset="0.35" stop-color="#c80098"/><stop offset="0.4" stop-color="#bb00a0"/><stop offset="0.45" stop-color="#ab15a7"/><stop offset="0.5" stop-color="#9b23ad"/><stop offset="0.55" stop-color="#9135ba"/><stop offset="0.6" stop-color="#8443c6"/><stop offset="0.65" stop-color="#754fd1"/><stop offset="0.7" stop-color="#6359da"/><stop offset="0.75" stop-color="#4b63e3"/><stop offset="0.8" stop-color="#236cea"/><stop offset="0.85" stop-color="#0074f0"/><stop offset="0.9" stop-color="#007cf5"/><stop offset="0.95" stop-color="#0084f9"/><stop offset="1" stop-color="#008bfb"/></linearGradient>
<rect x="322.2" y="206.2" width="1.6" height="133.6" fill="url(#cb12)"/>
<text x="325" y="208" font-size="6.5" text-anchor="start" fill="#444" color="#444" font-family="Liberation Serif, serif" textLength="11.2" lengthAdjust="spacingAndGlyphs" stroke-width="0.12" stroke="currentColor">High</text>
<text x="324.8" y="342.8" font-size="6.5" text-anchor="start" fill="#333" color="#333" font-family="Liberation Serif, serif" textLength="10.4" lengthAdjust="spacingAndGlyphs" stroke-width="0.12" stroke="currentColor">Low</text>
<text x="0" y="0" font-size="8" text-anchor="middle" fill="#2a2a2a" font-family="Liberation Serif, serif" textLength="45.8" lengthAdjust="spacingAndGlyphs" transform="translate(343.1,273.4) rotate(-90)">Variable value</text>
<text x="166.1" y="384" font-size="16" text-anchor="middle" fill="#111" color="#111" font-family="Liberation Serif, serif" stroke-width="0.12" stroke="currentColor">(c)</text>
<rect x="159.85" y="217.19" width="1.5" height="1.82" rx="0.4" fill="#008bfb"/>
<rect x="163.46" y="217.14" width="1.5" height="1.91" rx="0.4" fill="#008afb"/>
<rect x="167.07" y="217.1" width="1.5" height="2.01" rx="0.4" fill="#008afb"/>
<rect x="170.67" y="217.05" width="1.5" height="2.1" rx="0.4" fill="#008afb"/>
<rect x="174.28" y="217" width="1.5" height="2.2" rx="0.4" fill="#0089fa"/>
<rect x="177.89" y="216.83" width="1.5" height="2.54" rx="0.4" fill="#0089fa"/>
<rect x="181.5" y="216.66" width="1.5" height="2.88" rx="0.4" fill="#0089fa"/>
<rect x="185.11" y="216.49" width="1.5" height="3.21" rx="0.4" fill="#0089fa"/>
<rect x="188.71" y="216.33" width="1.5" height="3.55" rx="0.4" fill="#0088fa"/>
<rect x="192.32" y="216.09" width="1.5" height="4.03" rx="0.4" fill="#0088fa"/>
<rect x="195.93" y="215.83" width="1.5" height="4.54" rx="0.4" fill="#007ff7"/>
<rect x="199.54" y="215.58" width="1.5" height="5.04" rx="0.4" fill="#2c6be9"/>
<rect x="203.14" y="215.35" width="1.5" height="5.5" rx="0.4" fill="#6359da"/>
<rect x="206.75" y="215.12" width="1.5" height="5.95" rx="0.4" fill="#764ed0"/>
<rect x="210.36" y="214.9" width="1.5" height="6.41" rx="0.4" fill="#8046c9"/>
<rect x="213.97" y="214.76" width="1.5" height="6.68" rx="0.4" fill="#893ec2"/>
<rect x="217.58" y="214.63" width="1.5" height="6.95" rx="0.4" fill="#942fb5"/>
<rect x="221.18" y="214.39" width="1.5" height="7.42" rx="0.4" fill="#a11eab"/>
<rect x="224.79" y="214.13" width="1.5" height="7.93" rx="0.4" fill="#b20da4"/>
<rect x="228.4" y="213.47" width="1.5" height="9.26" rx="0.4" fill="#c1009c"/>
<rect x="232.01" y="213.3" width="1.5" height="9.6" rx="0.4" fill="#c90097"/>
<rect x="235.62" y="213.3" width="1.5" height="9.6" rx="0.4" fill="#d20091"/>
<rect x="239.22" y="213.3" width="1.5" height="9.6" rx="0.4" fill="#d9008b"/>
<rect x="242.83" y="213.3" width="1.5" height="9.6" rx="0.4" fill="#e40082"/>
<rect x="246.44" y="213.34" width="1.5" height="9.52" rx="0.4" fill="#ed0077"/>
<rect x="250.05" y="214.06" width="1.5" height="8.08" rx="0.4" fill="#f6006b"/>
<rect x="253.66" y="214.59" width="1.5" height="7.03" rx="0.4" fill="#fd005e"/>
<rect x="257.26" y="215.1" width="1.5" height="6" rx="0.4" fill="#ff0057"/>
<rect x="260.87" y="215.62" width="1.5" height="4.97" rx="0.4" fill="#ff0052"/>
<rect x="264.48" y="216.14" width="1.5" height="3.93" rx="0.4" fill="#ff0051"/>
<rect x="268.09" y="216.71" width="1.5" height="2.77" rx="0.4" fill="#ff0051"/>
<rect x="271.69" y="216.92" width="1.5" height="2.37" rx="0.4" fill="#ff0051"/>
<rect x="275.3" y="216.94" width="1.5" height="2.31" rx="0.4" fill="#ff0051"/>
<rect x="278.91" y="216.97" width="1.5" height="2.26" rx="0.4" fill="#ff0051"/>
<rect x="282.52" y="216.99" width="1.5" height="2.21" rx="0.4" fill="#ff0051"/>
<rect x="286.13" y="217.02" width="1.5" height="2.16" rx="0.4" fill="#ff0051"/>
<rect x="289.73" y="217.05" width="1.5" height="2.11" rx="0.4" fill="#ff0051"/>
<rect x="293.34" y="217.07" width="1.5" height="2.06" rx="0.4" fill="#ff0051"/>
<rect x="296.95" y="217.1" width="1.5" height="2" rx="0.4" fill="#ff0051"/>
<rect x="303.95" y="217.3" width="1.5" height="1.6" rx="0.4" fill="#ff0051"/>
<rect x="200.25" y="227.52" width="1.5" height="5.6" rx="0.4" fill="#008bfb"/>
<rect x="241.15" y="225.52" width="1.5" height="9.6" rx="0.4" fill="#ff0051"/>
<rect x="209.65" y="239.54" width="1.5" height="6" rx="0.4" fill="#ff0051"/>
<rect x="239.05" y="237.54" width="1.5" height="10" rx="0.4" fill="#008bfb"/>
<rect x="193.25" y="253.76" width="1.5" height="2" rx="0.4" fill="#008bfb"/>
<rect x="202.15" y="252.76" width="1.5" height="4" rx="0.4" fill="#008bfb"/>
<rect x="211.05" y="252.76" width="1.5" height="4" rx="0.4" fill="#0084f9"/>
<rect x="220.35" y="250.26" width="1.5" height="9" rx="0.4" fill="#8443c6"/>
<rect x="228.55" y="252.76" width="1.5" height="4" rx="0.4" fill="#bb00a0"/>
<rect x="237.65" y="250.26" width="1.5" height="9" rx="0.4" fill="#e9007c"/>
<rect x="246.55" y="250.76" width="1.5" height="8" rx="0.4" fill="#ff0051"/>
<rect x="216.85" y="261.98" width="1.5" height="10" rx="0.4" fill="#008bfb"/>
<rect x="220.85" y="264.48" width="1.5" height="5" rx="0.4" fill="#0084f9"/>
<rect x="224.75" y="264.98" width="1.5" height="4" rx="0.4" fill="#4b63e3"/>
<rect x="228.75" y="265.48" width="1.5" height="3" rx="0.4" fill="#8443c6"/>
<rect x="232.75" y="265.48" width="1.5" height="3" rx="0.4" fill="#9b23ad"/>
<rect x="237.25" y="265.98" width="1.5" height="2" rx="0.4" fill="#c0009c"/>
<rect x="241.75" y="265.98" width="1.5" height="2" rx="0.4" fill="#cd0094"/>
<rect x="246.25" y="265.98" width="1.5" height="2" rx="0.4" fill="#d9008b"/>
<rect x="250.75" y="265.98" width="1.5" height="2" rx="0.4" fill="#e40082"/>
<rect x="255.25" y="265.98" width="1.5" height="2" rx="0.4" fill="#ed0078"/>
<rect x="259.65" y="265.98" width="1.5" height="2" rx="0.4" fill="#f5006e"/>
<rect x="264.05" y="265.98" width="1.5" height="2" rx="0.4" fill="#fb0063"/>
<rect x="220.85" y="274.2" width="1.5" height="10" rx="0.4" fill="#008bfb"/>
<rect x="237.65" y="275.2" width="1.5" height="8" rx="0.4" fill="#ff0051"/>
<rect x="209.85" y="289.12" width="1.5" height="4.6" rx="0.4" fill="#008bfb"/>
<rect x="232.05" y="286.62" width="1.5" height="9.6" rx="0.4" fill="#ff0051"/>
<rect x="209.85" y="301.64" width="1.5" height="4" rx="0.4" fill="#ff0051"/>
<rect x="230.15" y="298.64" width="1.5" height="10" rx="0.4" fill="#008bfb"/>
<rect x="223.65" y="310.86" width="1.5" height="10" rx="0.4" fill="#ff0051"/>
<rect x="234.35" y="313.06" width="1.5" height="5.6" rx="0.4" fill="#008bfb"/>
<rect x="214.95" y="327.08" width="1.5" height="2" rx="0.4" fill="#008bfb"/>
<rect x="218.45" y="326.78" width="1.5" height="2.6" rx="0.4" fill="#008bfb"/>
<rect x="221.55" y="326.08" width="1.5" height="4" rx="0.4" fill="#0084f9"/>
<rect x="224.75" y="323.08" width="1.5" height="10" rx="0.4" fill="#8443c6"/>
<rect x="228.05" y="325.58" width="1.5" height="5" rx="0.4" fill="#bb00a0"/>
<rect x="231.35" y="325.08" width="1.5" height="6" rx="0.4" fill="#e60080"/>
<rect x="234.35" y="325.58" width="1.5" height="5" rx="0.4" fill="#fe005c"/>
<line x1="500.5" y1="215" x2="644" y2="215" stroke="#e0e0e0" stroke-width="0.5" stroke-dasharray="0.7 1.3"/>
<line x1="500.5" y1="226.08" x2="644" y2="226.08" stroke="#e0e0e0" stroke-width="0.5" stroke-dasharray="0.7 1.3"/>
<line x1="500.5" y1="237.16" x2="644" y2="237.16" stroke="#e0e0e0" stroke-width="0.5" stroke-dasharray="0.7 1.3"/>
<line x1="500.5" y1="248.24" x2="644" y2="248.24" stroke="#e0e0e0" stroke-width="0.5" stroke-dasharray="0.7 1.3"/>
<line x1="500.5" y1="259.32" x2="644" y2="259.32" stroke="#e0e0e0" stroke-width="0.5" stroke-dasharray="0.7 1.3"/>
<line x1="500.5" y1="270.4" x2="644" y2="270.4" stroke="#e0e0e0" stroke-width="0.5" stroke-dasharray="0.7 1.3"/>
<line x1="500.5" y1="281.48" x2="644" y2="281.48" stroke="#e0e0e0" stroke-width="0.5" stroke-dasharray="0.7 1.3"/>
<line x1="500.5" y1="292.56" x2="644" y2="292.56" stroke="#e0e0e0" stroke-width="0.5" stroke-dasharray="0.7 1.3"/>
<line x1="500.5" y1="303.64" x2="644" y2="303.64" stroke="#e0e0e0" stroke-width="0.5" stroke-dasharray="0.7 1.3"/>
<line x1="500.5" y1="314.72" x2="644" y2="314.72" stroke="#e0e0e0" stroke-width="0.5" stroke-dasharray="0.7 1.3"/>
<line x1="584.4" y1="204.2" x2="584.4" y2="326" stroke="#b0b0b0" stroke-width="0.7"/>
<line x1="501" y1="326" x2="644.8" y2="326" stroke="#707070" stroke-width="0.9"/>
<line x1="520.5" y1="326" x2="520.5" y2="327.3" stroke="#444" stroke-width="0.5"/>
<text x="520.5" y="333.2" font-size="5.6" text-anchor="middle" fill="#444" stroke="#444" stroke-width="0.12" font-family="Liberation Serif, serif" textLength="12.8" lengthAdjust="spacingAndGlyphs"><tspan fill="#f2f2f2" stroke="none">−</tspan>0.03</text>
<line x1="541.6" y1="326" x2="541.6" y2="327.3" stroke="#444" stroke-width="0.5"/>
<text x="541.6" y="333.2" font-size="5.6" text-anchor="middle" fill="#444" stroke="#444" stroke-width="0.12" font-family="Liberation Serif, serif" textLength="12.8" lengthAdjust="spacingAndGlyphs"><tspan fill="#f2f2f2" stroke="none">−</tspan>0.02</text>
<line x1="563.1" y1="326" x2="563.1" y2="327.3" stroke="#444" stroke-width="0.5"/>
<text x="563.1" y="333.2" font-size="5.6" text-anchor="middle" fill="#444" stroke="#444" stroke-width="0.12" font-family="Liberation Serif, serif" textLength="12.8" lengthAdjust="spacingAndGlyphs"><tspan fill="#f2f2f2" stroke="none">−</tspan>0.01</text>
<line x1="584.35" y1="326" x2="584.35" y2="327.3" stroke="#444" stroke-width="0.5"/>
<text x="584.35" y="333.2" font-size="5.6" text-anchor="middle" fill="#444" color="#444" font-family="Liberation Serif, serif" textLength="9.9" lengthAdjust="spacingAndGlyphs" stroke-width="0.12" stroke="currentColor">0.00</text>
<line x1="605.6" y1="326" x2="605.6" y2="327.3" stroke="#444" stroke-width="0.5"/>
<text x="605.6" y="333.2" font-size="5.6" text-anchor="middle" fill="#444" color="#444" font-family="Liberation Serif, serif" textLength="9.9" lengthAdjust="spacingAndGlyphs" stroke-width="0.12" stroke="currentColor">0.01</text>
<line x1="627" y1="326" x2="627" y2="327.3" stroke="#444" stroke-width="0.5"/>
<text x="627" y="333.2" font-size="5.6" text-anchor="middle" fill="#444" color="#444" font-family="Liberation Serif, serif" textLength="9.9" lengthAdjust="spacingAndGlyphs" stroke-width="0.12" stroke="currentColor">0.02</text>
<text x="492" y="217.35" font-size="5.62" text-anchor="end" fill="#2a2a2a" color="#2a2a2a" font-family="Liberation Serif, serif" textLength="43.39" lengthAdjust="spacingAndGlyphs" stroke-width="0.12" stroke="currentColor">Any restraints used</text>
<text x="492" y="228.43" font-size="5.62" text-anchor="end" fill="#2a2a2a" color="#2a2a2a" font-family="Liberation Serif, serif" textLength="15.61" lengthAdjust="spacingAndGlyphs" stroke-width="0.12" stroke="currentColor">ADLH</text>
<text x="492" y="239.51" font-size="5.62" text-anchor="end" fill="#2a2a2a" color="#2a2a2a" font-family="Liberation Serif, serif" textLength="9.36" lengthAdjust="spacingAndGlyphs" stroke-width="0.12" stroke="currentColor">Age</text>
<text x="492" y="250.59" font-size="5.62" text-anchor="end" fill="#2a2a2a" color="#2a2a2a" font-family="Liberation Serif, serif" textLength="10" lengthAdjust="spacingAndGlyphs" stroke-width="0.12" stroke="currentColor">CPS</text>
<text x="492" y="261.67" font-size="5.62" text-anchor="end" fill="#2a2a2a" color="#2a2a2a" font-family="Liberation Serif, serif" textLength="38.4" lengthAdjust="spacingAndGlyphs" stroke-width="0.12" stroke="currentColor">Number of drugs</text>
<text x="492" y="272.75" font-size="5.62" text-anchor="end" fill="#2a2a2a" color="#2a2a2a" font-family="Liberation Serif, serif" textLength="82.11" lengthAdjust="spacingAndGlyphs" stroke-width="0.12" stroke="currentColor">Hospital or ER visits (last 6 months)</text>
<text x="492" y="283.83" font-size="5.62" text-anchor="end" fill="#2a2a2a" color="#2a2a2a" font-family="Liberation Serif, serif" textLength="31.06" lengthAdjust="spacingAndGlyphs" stroke-width="0.12" stroke="currentColor">Unsteady gait</text>
<text x="492" y="294.91" font-size="5.62" text-anchor="end" fill="#2a2a2a" color="#2a2a2a" font-family="Liberation Serif, serif" textLength="10.62" lengthAdjust="spacingAndGlyphs" stroke-width="0.12" stroke="currentColor">BMI</text>
<text x="492" y="305.99" font-size="5.62" text-anchor="end" fill="#2a2a2a" color="#2a2a2a" font-family="Liberation Serif, serif" textLength="56.81" lengthAdjust="spacingAndGlyphs" stroke-width="0.12" stroke="currentColor">Number of comorbidities</text>
<text x="492" y="317.07" font-size="5.62" text-anchor="end" fill="#2a2a2a" color="#2a2a2a" font-family="Liberation Serif, serif" textLength="10.93" lengthAdjust="spacingAndGlyphs" stroke-width="0.12" stroke="currentColor">ABS</text>
<text x="572.85" y="201.9" font-size="7.5" text-anchor="middle" fill="#111" color="#111" font-family="Liberation Serif, serif" textLength="33.9" lengthAdjust="spacingAndGlyphs" stroke-width="0.12" stroke="currentColor">Causal forest</text>
<text x="573" y="339.7" font-size="5.62" text-anchor="middle" fill="#222" color="#222" font-family="Liberation Serif, serif" textLength="86.5" lengthAdjust="spacingAndGlyphs" stroke-width="0.12" stroke="currentColor">SHAP value (impact on model output)</text>
<linearGradient id="cb13" x1="0" y1="0" x2="0" y2="1"><stop offset="0" stop-color="#ff0051"/><stop offset="0.05" stop-color="#fe005c"/><stop offset="0.1" stop-color="#f90067"/><stop offset="0.15" stop-color="#f20072"/><stop offset="0.2" stop-color="#e9007c"/><stop offset="0.25" stop-color="#e00086"/><stop offset="0.3" stop-color="#d5008f"/><stop offset="0.35" stop-color="#c80098"/><stop offset="0.4" stop-color="#bb00a0"/><stop offset="0.45" stop-color="#ab15a7"/><stop offset="0.5" stop-color="#9b23ad"/><stop offset="0.55" stop-color="#9135ba"/><stop offset="0.6" stop-color="#8443c6"/><stop offset="0.65" stop-color="#754fd1"/><stop offset="0.7" stop-color="#6359da"/><stop offset="0.75" stop-color="#4b63e3"/><stop offset="0.8" stop-color="#236cea"/><stop offset="0.85" stop-color="#0074f0"/><stop offset="0.9" stop-color="#007cf5"/><stop offset="0.95" stop-color="#0084f9"/><stop offset="1" stop-color="#008bfb"/></linearGradient>
<rect x="653" y="204" width="1.6" height="120.7" fill="url(#cb13)"/>
<text x="655.8" y="206.4" font-size="6.5" text-anchor="start" fill="#444" color="#444" font-family="Liberation Serif, serif" textLength="11.2" lengthAdjust="spacingAndGlyphs" stroke-width="0.12" stroke="currentColor">High</text>
<text x="655.6" y="327.7" font-size="6.5" text-anchor="start" fill="#333" color="#333" font-family="Liberation Serif, serif" textLength="10.4" lengthAdjust="spacingAndGlyphs" stroke-width="0.12" stroke="currentColor">Low</text>
<text x="0" y="0" font-size="8" text-anchor="middle" fill="#2a2a2a" font-family="Liberation Serif, serif" textLength="42.4" lengthAdjust="spacingAndGlyphs" transform="translate(672.8,264.7) rotate(-90)">Variable value</text>
<text x="513.7" y="383.6" font-size="16" text-anchor="middle" fill="#111" color="#111" font-family="Liberation Serif, serif" stroke-width="0.12" stroke="currentColor">(d)</text>
<path d="M506.9,214.4 L507.26,214.35 L507.63,214.31 L507.99,214.26 L508.35,214.22 L508.72,214.22 L509.08,214.25 L509.45,214.28 L509.81,214.31 L510.17,214.34 L510.54,214.37 L510.9,214.4 L510.9,215.6 L510.54,215.63 L510.17,215.66 L509.81,215.69 L509.45,215.72 L509.08,215.75 L508.72,215.78 L508.35,215.78 L507.99,215.74 L507.63,215.69 L507.26,215.65 L506.9,215.6 Z" fill="#008bfb"/>
<circle cx="513.3" cy="215" r="0.65" fill="#008bfb"/>
<path d="M516,214.4 L516.34,214.39 L516.68,214.38 L517.01,214.38 L517.35,214.37 L517.69,214.36 L518.03,214.35 L518.37,214.35 L518.7,214.34 L519.04,214.33 L519.38,214.32 L519.72,214.32 L520.06,214.31 L520.4,214.3 L520.73,214.29 L521.07,214.29 L521.41,214.28 L521.75,214.27 L522.09,214.26 L522.42,214.26 L522.76,214.25 L523.1,214.24 L523.44,214.23 L523.78,214.23 L524.11,214.22 L524.45,214.21 L524.79,214.2 L525.13,214.19 L525.47,214.16 L525.8,214.14 L526.14,214.11 L526.48,214.08 L526.82,214.05 L527.16,214.03 L527.5,214 L527.83,213.97 L528.17,213.95 L528.51,213.92 L528.85,213.89 L529.19,213.87 L529.52,213.84 L529.86,213.81 L530.2,213.77 L530.54,213.72 L530.88,213.68 L531.21,213.63 L531.55,213.58 L531.89,213.54 L532.23,213.49 L532.57,213.44 L532.9,213.39 L533.24,213.35 L533.58,213.3 L533.92,213.25 L534.26,213.2 L534.6,213.16 L534.93,213.11 L535.27,213.08 L535.61,213.05 L535.95,213.02 L536.29,213 L536.62,212.97 L536.96,212.94 L537.3,212.92 L537.64,212.89 L537.98,212.86 L538.31,212.83 L538.65,212.81 L538.99,212.78 L539.33,212.75 L539.67,212.73 L540,212.7 L540.34,212.69 L540.68,212.69 L541.02,212.68 L541.36,212.68 L541.7,212.67 L542.03,212.67 L542.37,212.66 L542.71,212.65 L543.05,212.65 L543.39,212.64 L543.72,212.64 L544.06,212.63 L544.4,212.63 L544.74,212.62 L545.08,212.62 L545.41,212.61 L545.75,212.6 L546.09,212.61 L546.43,212.64 L546.77,212.68 L547.1,212.71 L547.44,212.74 L547.78,212.78 L548.12,212.81 L548.46,212.85 L548.8,212.88 L549.13,212.91 L549.47,212.95 L549.81,212.98 L550.15,213.03 L550.49,213.11 L550.82,213.19 L551.16,213.27 L551.5,213.35 L551.84,213.43 L552.18,213.51 L552.51,213.59 L552.85,213.67 L553.19,213.72 L553.53,213.77 L553.87,213.81 L554.2,213.85 L554.54,213.89 L554.88,213.94 L555.22,213.98 L555.56,214.02 L555.9,214.06 L556.23,214.1 L556.57,214.15 L556.91,214.19 L557.25,214.23 L557.59,214.27 L557.92,214.32 L558.26,214.36 L558.6,214.4 L558.6,215.6 L558.26,215.64 L557.92,215.68 L557.59,215.73 L557.25,215.77 L556.91,215.81 L556.57,215.85 L556.23,215.9 L555.9,215.94 L555.56,215.98 L555.22,216.02 L554.88,216.06 L554.54,216.11 L554.2,216.15 L553.87,216.19 L553.53,216.23 L553.19,216.28 L552.85,216.33 L552.51,216.41 L552.18,216.49 L551.84,216.57 L551.5,216.65 L551.16,216.73 L550.82,216.81 L550.49,216.89 L550.15,216.97 L549.81,217.02 L549.47,217.05 L549.13,217.09 L548.8,217.12 L548.46,217.15 L548.12,217.19 L547.78,217.22 L547.44,217.26 L547.1,217.29 L546.77,217.32 L546.43,217.36 L546.09,217.39 L545.75,217.4 L545.41,217.39 L545.08,217.38 L544.74,217.38 L544.4,217.37 L544.06,217.37 L543.72,217.36 L543.39,217.36 L543.05,217.35 L542.71,217.35 L542.37,217.34 L542.03,217.33 L541.7,217.33 L541.36,217.32 L541.02,217.32 L540.68,217.31 L540.34,217.31 L540,217.3 L539.67,217.27 L539.33,217.25 L538.99,217.22 L538.65,217.19 L538.31,217.17 L537.98,217.14 L537.64,217.11 L537.3,217.08 L536.96,217.06 L536.62,217.03 L536.29,217 L535.95,216.98 L535.61,216.95 L535.27,216.92 L534.93,216.89 L534.6,216.84 L534.26,216.8 L533.92,216.75 L533.58,216.7 L533.24,216.65 L532.9,216.61 L532.57,216.56 L532.23,216.51 L531.89,216.46 L531.55,216.42 L531.21,216.37 L530.88,216.32 L530.54,216.28 L530.2,216.23 L529.86,216.19 L529.52,216.16 L529.19,216.13 L528.85,216.11 L528.51,216.08 L528.17,216.05 L527.83,216.03 L527.5,216 L527.16,215.97 L526.82,215.95 L526.48,215.92 L526.14,215.89 L525.8,215.86 L525.47,215.84 L525.13,215.81 L524.79,215.8 L524.45,215.79 L524.11,215.78 L523.78,215.77 L523.44,215.77 L523.1,215.76 L522.76,215.75 L522.42,215.74 L522.09,215.74 L521.75,215.73 L521.41,215.72 L521.07,215.71 L520.73,215.71 L520.4,215.7 L520.06,215.69 L519.72,215.68 L519.38,215.68 L519.04,215.67 L518.7,215.66 L518.37,215.65 L518.03,215.65 L517.69,215.64 L517.35,215.63 L517.01,215.62 L516.68,215.62 L516.34,215.61 L516,215.6 Z" fill="#008bfb"/>
<circle cx="531.76" cy="215.93" r="0.6" fill="#007ff7"/>
<circle cx="552.5" cy="214.86" r="0.6" fill="#007ff7"/>
<circle cx="542.39" cy="215.01" r="0.6" fill="#008bfb"/>
<circle cx="539.65" cy="212.47" r="0.6" fill="#008bfb"/>
<circle cx="545.62" cy="216.67" r="0.6" fill="#008bfb"/>
<circle cx="539.04" cy="215.89" r="0.6" fill="#008bfb"/>
<circle cx="550.92" cy="213.82" r="0.6" fill="#007ff7"/>
<circle cx="551.38" cy="214.08" r="0.6" fill="#008bfb"/>
<circle cx="543.81" cy="217.45" r="0.6" fill="#008bfb"/>
<circle cx="534" cy="216.18" r="0.6" fill="#008bfb"/>
<circle cx="533.06" cy="215.09" r="0.6" fill="#008bfb"/>
<circle cx="538.22" cy="213.48" r="0.6" fill="#008bfb"/>
<circle cx="534.71" cy="214.96" r="0.6" fill="#008bfb"/>
<circle cx="551.88" cy="214.46" r="0.6" fill="#007ff7"/>
<circle cx="549.27" cy="216.28" r="0.6" fill="#007ff7"/>
<circle cx="534.13" cy="213.54" r="0.6" fill="#008bfb"/>
<circle cx="540.42" cy="214.22" r="0.6" fill="#007ff7"/>
<circle cx="536.5" cy="216.96" r="0.6" fill="#007ff7"/>
<circle cx="546.54" cy="214.53" r="0.6" fill="#007ff7"/>
<circle cx="548.25" cy="214.22" r="0.6" fill="#007ff7"/>
<circle cx="539.71" cy="214.61" r="0.6" fill="#007ff7"/>
<circle cx="545.11" cy="213.68" r="0.6" fill="#007ff7"/>
<circle cx="530.03" cy="213.87" r="0.6" fill="#007ff7"/>
<circle cx="547.98" cy="215.94" r="0.6" fill="#008bfb"/>
<circle cx="551.98" cy="215.65" r="0.6" fill="#007ff7"/>
<circle cx="533.54" cy="215.58" r="0.6" fill="#007ff7"/>
<circle cx="535.41" cy="217.07" r="0.6" fill="#007ff7"/>
<circle cx="540.3" cy="215.84" r="0.6" fill="#007ff7"/>
<circle cx="549.35" cy="213.25" r="0.6" fill="#007ff7"/>
<circle cx="530.91" cy="213.77" r="0.6" fill="#007ff7"/>
<path d="M593.9,214.1 L594.24,213.98 L594.58,213.86 L594.92,213.74 L595.26,213.62 L595.6,213.5 L595.94,213.38 L596.28,213.25 L596.62,213.13 L596.96,213.01 L597.3,212.77 L597.64,212.52 L597.98,212.26 L598.32,212.01 L598.66,211.75 L599,211.5 L599.34,211.33 L599.68,211.16 L600.02,210.99 L600.36,210.82 L600.7,210.65 L601.05,210.5 L601.39,210.48 L601.73,210.46 L602.07,210.45 L602.41,210.43 L602.75,210.41 L603.09,210.42 L603.43,210.51 L603.77,210.6 L604.11,210.7 L604.45,210.79 L604.79,210.88 L605.13,210.97 L605.47,211.06 L605.81,211.15 L606.15,211.26 L606.49,211.4 L606.83,211.53 L607.17,211.67 L607.51,211.8 L607.85,211.94 L608.19,212.05 L608.53,212.14 L608.87,212.23 L609.21,212.32 L609.55,212.41 L609.89,212.5 L610.23,212.6 L610.57,212.69 L610.91,212.78 L611.25,212.83 L611.59,212.88 L611.93,212.92 L612.27,212.97 L612.61,213.02 L612.95,213.06 L613.29,213.11 L613.63,213.15 L613.97,213.2 L614.31,213.24 L614.65,213.28 L615,213.32 L615.34,213.37 L615.68,213.41 L616.02,213.45 L616.36,213.49 L616.7,213.54 L617.04,213.58 L617.38,213.62 L617.72,213.66 L618.06,213.71 L618.4,213.75 L618.74,213.8 L619.08,213.84 L619.42,213.89 L619.76,213.93 L620.1,213.98 L620.44,214.02 L620.78,214.07 L621.12,214.11 L621.46,214.16 L621.8,214.2 L621.8,215.8 L621.46,215.84 L621.12,215.89 L620.78,215.93 L620.44,215.98 L620.1,216.02 L619.76,216.07 L619.42,216.11 L619.08,216.16 L618.74,216.2 L618.4,216.25 L618.06,216.29 L617.72,216.34 L617.38,216.38 L617.04,216.42 L616.7,216.46 L616.36,216.51 L616.02,216.55 L615.68,216.59 L615.34,216.63 L615,216.68 L614.65,216.72 L614.31,216.76 L613.97,216.8 L613.63,216.85 L613.29,216.89 L612.95,216.94 L612.61,216.98 L612.27,217.03 L611.93,217.08 L611.59,217.12 L611.25,217.17 L610.91,217.22 L610.57,217.31 L610.23,217.4 L609.89,217.5 L609.55,217.59 L609.21,217.68 L608.87,217.77 L608.53,217.86 L608.19,217.95 L607.85,218.06 L607.51,218.2 L607.17,218.33 L606.83,218.47 L606.49,218.6 L606.15,218.74 L605.81,218.85 L605.47,218.94 L605.13,219.03 L604.79,219.12 L604.45,219.21 L604.11,219.3 L603.77,219.4 L603.43,219.49 L603.09,219.58 L602.75,219.59 L602.41,219.57 L602.07,219.55 L601.73,219.54 L601.39,219.52 L601.05,219.5 L600.7,219.35 L600.36,219.18 L600.02,219.01 L599.68,218.84 L599.34,218.67 L599,218.5 L598.66,218.25 L598.32,217.99 L597.98,217.74 L597.64,217.48 L597.3,217.23 L596.96,216.99 L596.62,216.87 L596.28,216.75 L595.94,216.62 L595.6,216.5 L595.26,216.38 L594.92,216.26 L594.58,216.14 L594.24,216.02 L593.9,215.9 Z" fill="#ff0051"/>
<circle cx="513.1" cy="226.08" r="0.65" fill="#008bfb"/>
<linearGradient id="g14" gradientUnits="userSpaceOnUse" x1="525.8" y1="0" x2="619.6" y2="0"><stop offset="0" stop-color="#008bfb"/><stop offset="0.31" stop-color="#0088fa"/><stop offset="0.39" stop-color="#0074f0"/><stop offset="0.47" stop-color="#6359da"/><stop offset="0.54" stop-color="#7e48ca"/><stop offset="0.6" stop-color="#893dc1"/><stop offset="0.68" stop-color="#ab15a7"/><stop offset="0.77" stop-color="#d5008f"/><stop offset="0.83" stop-color="#f20072"/><stop offset="0.9" stop-color="#fb0063"/><stop offset="0.99" stop-color="#fe005c"/></linearGradient>
<path d="M525.8,225.48 L526.13,225.47 L526.47,225.46 L526.8,225.45 L527.14,225.44 L527.47,225.43 L527.81,225.41 L528.14,225.4 L528.48,225.39 L528.81,225.38 L529.15,225.37 L529.49,225.36 L529.82,225.35 L530.15,225.34 L530.49,225.33 L530.82,225.32 L531.16,225.31 L531.5,225.29 L531.83,225.28 L532.16,225.27 L532.5,225.26 L532.83,225.25 L533.17,225.24 L533.5,225.23 L533.84,225.22 L534.17,225.21 L534.51,225.2 L534.84,225.19 L535.18,225.18 L535.51,225.18 L535.85,225.17 L536.18,225.17 L536.52,225.17 L536.86,225.17 L537.19,225.16 L537.52,225.16 L537.86,225.16 L538.19,225.16 L538.53,225.15 L538.87,225.15 L539.2,225.15 L539.53,225.15 L539.87,225.14 L540.2,225.14 L540.54,225.14 L540.88,225.13 L541.21,225.13 L541.54,225.13 L541.88,225.13 L542.21,225.12 L542.55,225.12 L542.88,225.12 L543.22,225.12 L543.55,225.11 L543.89,225.11 L544.23,225.11 L544.56,225.11 L544.89,225.1 L545.23,225.1 L545.56,225.1 L545.9,225.1 L546.24,225.09 L546.57,225.09 L546.9,225.09 L547.24,225.09 L547.57,225.08 L547.91,225.08 L548.25,225.07 L548.58,225.06 L548.91,225.05 L549.25,225.04 L549.58,225.03 L549.92,225.03 L550.25,225.02 L550.59,225.01 L550.92,225 L551.26,224.99 L551.6,224.98 L551.93,224.97 L552.26,224.96 L552.6,224.95 L552.93,224.94 L553.27,224.93 L553.61,224.92 L553.94,224.91 L554.27,224.9 L554.61,224.89 L554.94,224.88 L555.28,224.85 L555.62,224.82 L555.95,224.79 L556.28,224.75 L556.62,224.72 L556.95,224.68 L557.29,224.65 L557.62,224.62 L557.96,224.58 L558.29,224.55 L558.63,224.52 L558.96,224.48 L559.3,224.45 L559.63,224.42 L559.97,224.38 L560.3,224.37 L560.64,224.35 L560.98,224.34 L561.31,224.33 L561.64,224.31 L561.98,224.3 L562.31,224.29 L562.65,224.27 L562.99,224.26 L563.32,224.25 L563.65,224.23 L563.99,224.22 L564.32,224.21 L564.66,224.19 L565,224.18 L565.33,224.16 L565.66,224.13 L566,224.11 L566.34,224.08 L566.67,224.05 L567,224.03 L567.34,224 L567.67,223.98 L568.01,223.95 L568.35,223.93 L568.68,223.9 L569.01,223.88 L569.35,223.82 L569.68,223.77 L570.02,223.72 L570.36,223.67 L570.69,223.61 L571.02,223.56 L571.36,223.51 L571.69,223.45 L572.03,223.4 L572.37,223.35 L572.7,223.3 L573.03,223.22 L573.37,223.14 L573.71,223.05 L574.04,222.97 L574.38,222.89 L574.71,222.8 L575.04,222.72 L575.38,222.64 L575.72,222.55 L576.05,222.48 L576.38,222.44 L576.72,222.41 L577.05,222.37 L577.39,222.34 L577.73,222.31 L578.06,222.3 L578.39,222.44 L578.73,222.57 L579.06,222.71 L579.4,222.84 L579.74,222.97 L580.07,223.12 L580.4,223.32 L580.74,223.52 L581.08,223.73 L581.41,223.93 L581.75,224.13 L582.08,224.31 L582.41,224.45 L582.75,224.58 L583.09,224.71 L583.42,224.85 L583.75,224.98 L584.09,225.08 L584.42,225.08 L584.76,225.08 L585.1,225.08 L585.43,225.08 L585.76,225.08 L586.1,225.08 L586.43,225.08 L586.77,225.08 L587.11,225.08 L587.44,225.08 L587.77,225.08 L588.11,225.08 L588.45,225.08 L588.78,225.08 L589.12,225.08 L589.45,225.08 L589.78,225.08 L590.12,225.08 L590.46,225.07 L590.79,225.07 L591.12,225.06 L591.46,225.06 L591.79,225.05 L592.13,225.05 L592.47,225.04 L592.8,225.04 L593.13,225.04 L593.47,225.03 L593.81,225.03 L594.14,225.02 L594.48,225.02 L594.81,225.01 L595.14,225.01 L595.48,225 L595.82,225 L596.15,224.99 L596.49,224.99 L596.82,224.98 L597.15,224.96 L597.49,224.91 L597.83,224.87 L598.16,224.82 L598.5,224.77 L598.83,224.73 L599.16,224.68 L599.5,224.63 L599.84,224.59 L600.17,224.54 L600.5,224.49 L600.84,224.38 L601.17,224.24 L601.51,224.11 L601.85,223.97 L602.18,223.83 L602.51,223.69 L602.85,223.55 L603.19,223.42 L603.52,223.28 L603.86,223.14 L604.19,223.05 L604.52,223 L604.86,222.95 L605.2,222.9 L605.53,222.84 L605.87,222.79 L606.2,222.74 L606.53,222.69 L606.87,222.64 L607.21,222.59 L607.54,222.54 L607.88,222.48 L608.21,222.54 L608.55,222.61 L608.88,222.67 L609.22,222.74 L609.55,222.8 L609.88,222.87 L610.22,222.93 L610.56,223 L610.89,223.06 L611.23,223.13 L611.56,223.19 L611.89,223.26 L612.23,223.34 L612.57,223.42 L612.9,223.5 L613.24,223.59 L613.57,223.67 L613.9,223.76 L614.24,223.84 L614.58,223.92 L614.91,224.01 L615.25,224.09 L615.58,224.18 L615.91,224.26 L616.25,224.36 L616.59,224.46 L616.92,224.56 L617.25,224.66 L617.59,224.77 L617.93,224.87 L618.26,224.97 L618.6,225.07 L618.93,225.18 L619.26,225.28 L619.6,225.38 L619.6,226.78 L619.26,226.88 L618.93,226.98 L618.6,227.09 L618.26,227.19 L617.93,227.29 L617.59,227.39 L617.25,227.5 L616.92,227.6 L616.59,227.7 L616.25,227.8 L615.91,227.9 L615.58,227.99 L615.25,228.07 L614.91,228.15 L614.58,228.24 L614.24,228.32 L613.9,228.4 L613.57,228.49 L613.24,228.57 L612.9,228.66 L612.57,228.74 L612.23,228.82 L611.89,228.9 L611.56,228.97 L611.23,229.03 L610.89,229.1 L610.56,229.16 L610.22,229.23 L609.88,229.29 L609.55,229.36 L609.22,229.42 L608.88,229.49 L608.55,229.55 L608.21,229.62 L607.88,229.68 L607.54,229.62 L607.21,229.57 L606.87,229.52 L606.53,229.47 L606.2,229.42 L605.87,229.37 L605.53,229.32 L605.2,229.26 L604.86,229.21 L604.52,229.16 L604.19,229.11 L603.86,229.02 L603.52,228.88 L603.19,228.74 L602.85,228.61 L602.51,228.47 L602.18,228.33 L601.85,228.19 L601.51,228.05 L601.17,227.92 L600.84,227.78 L600.5,227.67 L600.17,227.62 L599.84,227.57 L599.5,227.53 L599.16,227.48 L598.83,227.43 L598.5,227.39 L598.16,227.34 L597.83,227.29 L597.49,227.25 L597.15,227.2 L596.82,227.18 L596.49,227.17 L596.15,227.17 L595.82,227.16 L595.48,227.16 L595.14,227.15 L594.81,227.15 L594.48,227.14 L594.14,227.14 L593.81,227.13 L593.47,227.13 L593.13,227.12 L592.8,227.12 L592.47,227.12 L592.13,227.11 L591.79,227.11 L591.46,227.1 L591.12,227.1 L590.79,227.09 L590.46,227.09 L590.12,227.08 L589.78,227.08 L589.45,227.08 L589.12,227.08 L588.78,227.08 L588.45,227.08 L588.11,227.08 L587.77,227.08 L587.44,227.08 L587.11,227.08 L586.77,227.08 L586.43,227.08 L586.1,227.08 L585.76,227.08 L585.43,227.08 L585.1,227.08 L584.76,227.08 L584.42,227.08 L584.09,227.08 L583.75,227.18 L583.42,227.31 L583.09,227.45 L582.75,227.58 L582.41,227.71 L582.08,227.85 L581.75,228.03 L581.41,228.23 L581.08,228.43 L580.74,228.64 L580.4,228.84 L580.07,229.04 L579.74,229.19 L579.4,229.32 L579.06,229.45 L578.73,229.59 L578.39,229.72 L578.06,229.86 L577.73,229.85 L577.39,229.82 L577.05,229.79 L576.72,229.75 L576.38,229.72 L576.05,229.69 L575.72,229.61 L575.38,229.53 L575.04,229.44 L574.71,229.36 L574.38,229.27 L574.04,229.19 L573.71,229.11 L573.37,229.02 L573.03,228.94 L572.7,228.86 L572.37,228.81 L572.03,228.76 L571.69,228.71 L571.36,228.65 L571.02,228.6 L570.69,228.55 L570.36,228.49 L570.02,228.44 L569.68,228.39 L569.35,228.34 L569.01,228.28 L568.68,228.26 L568.35,228.23 L568.01,228.21 L567.67,228.18 L567.34,228.16 L567,228.13 L566.67,228.11 L566.34,228.08 L566,228.06 L565.66,228.03 L565.33,228 L565,227.98 L564.66,227.97 L564.32,227.95 L563.99,227.94 L563.65,227.93 L563.32,227.91 L562.99,227.9 L562.65,227.89 L562.31,227.87 L561.98,227.86 L561.64,227.85 L561.31,227.83 L560.98,227.82 L560.64,227.81 L560.3,227.79 L559.97,227.78 L559.63,227.74 L559.3,227.71 L558.96,227.68 L558.63,227.64 L558.29,227.61 L557.96,227.58 L557.62,227.54 L557.29,227.51 L556.95,227.48 L556.62,227.44 L556.28,227.41 L555.95,227.38 L555.62,227.34 L555.28,227.31 L554.94,227.28 L554.61,227.27 L554.27,227.26 L553.94,227.25 L553.61,227.24 L553.27,227.23 L552.93,227.22 L552.6,227.21 L552.26,227.2 L551.93,227.19 L551.6,227.18 L551.26,227.17 L550.92,227.16 L550.59,227.15 L550.25,227.14 L549.92,227.13 L549.58,227.13 L549.25,227.12 L548.91,227.11 L548.58,227.1 L548.25,227.09 L547.91,227.08 L547.57,227.08 L547.24,227.07 L546.9,227.07 L546.57,227.07 L546.24,227.07 L545.9,227.06 L545.56,227.06 L545.23,227.06 L544.89,227.06 L544.56,227.05 L544.23,227.05 L543.89,227.05 L543.55,227.05 L543.22,227.04 L542.88,227.04 L542.55,227.04 L542.21,227.04 L541.88,227.03 L541.54,227.03 L541.21,227.03 L540.88,227.03 L540.54,227.02 L540.2,227.02 L539.87,227.02 L539.53,227.01 L539.2,227.01 L538.87,227.01 L538.53,227.01 L538.19,227 L537.86,227 L537.52,227 L537.19,227 L536.86,226.99 L536.52,226.99 L536.18,226.99 L535.85,226.99 L535.51,226.98 L535.18,226.98 L534.84,226.97 L534.51,226.96 L534.17,226.95 L533.84,226.94 L533.5,226.93 L533.17,226.92 L532.83,226.91 L532.5,226.9 L532.16,226.89 L531.83,226.88 L531.5,226.87 L531.16,226.85 L530.82,226.84 L530.49,226.83 L530.15,226.82 L529.82,226.81 L529.49,226.8 L529.15,226.79 L528.81,226.78 L528.48,226.77 L528.14,226.76 L527.81,226.75 L527.47,226.73 L527.14,226.72 L526.8,226.71 L526.47,226.7 L526.13,226.69 L525.8,226.68 Z" fill="url(#g14)"/>
<circle cx="569.72" cy="224.57" r="0.55" fill="#007cf5"/>
<circle cx="566.49" cy="225.36" r="0.55" fill="#008bfb"/>
<circle cx="579.03" cy="224.6" r="0.55" fill="#008bfb"/>
<circle cx="575.5" cy="227.93" r="0.55" fill="#008bfb"/>
<circle cx="562.2" cy="227.04" r="0.55" fill="#9b23ad"/>
<circle cx="577.75" cy="227.27" r="0.55" fill="#9b23ad"/>
<circle cx="565.36" cy="225.17" r="0.55" fill="#007cf5"/>
<circle cx="577.51" cy="224.57" r="0.55" fill="#008bfb"/>
<circle cx="563.52" cy="225.74" r="0.55" fill="#007cf5"/>
<circle cx="575.73" cy="226.98" r="0.55" fill="#9b23ad"/>
<circle cx="569.46" cy="225.97" r="0.55" fill="#9b23ad"/>
<circle cx="572" cy="227.18" r="0.55" fill="#007cf5"/>
<circle cx="570.27" cy="224.69" r="0.55" fill="#007cf5"/>
<circle cx="578.79" cy="224.28" r="0.55" fill="#9b23ad"/>
<circle cx="576.57" cy="228.99" r="0.55" fill="#007cf5"/>
<circle cx="564.61" cy="226.62" r="0.55" fill="#007cf5"/>
<circle cx="575.96" cy="226.37" r="0.55" fill="#9b23ad"/>
<circle cx="563.39" cy="227.01" r="0.55" fill="#9b23ad"/>
<circle cx="569.76" cy="224.91" r="0.55" fill="#9b23ad"/>
<circle cx="575.94" cy="229.15" r="0.55" fill="#007cf5"/>
<circle cx="563.38" cy="227.32" r="0.55" fill="#007cf5"/>
<circle cx="572.47" cy="226.72" r="0.55" fill="#9b23ad"/>
<circle cx="576.91" cy="223.88" r="0.55" fill="#9b23ad"/>
<circle cx="567.83" cy="227.77" r="0.55" fill="#008bfb"/>
<circle cx="563.29" cy="224.55" r="0.55" fill="#008bfb"/>
<circle cx="606.8" cy="226.26" r="0.55" fill="#ab15a7"/>
<circle cx="601.12" cy="225.67" r="0.55" fill="#ab15a7"/>
<circle cx="610.55" cy="228.85" r="0.55" fill="#ab15a7"/>
<circle cx="608.87" cy="227.29" r="0.55" fill="#ab15a7"/>
<circle cx="609.5" cy="224.39" r="0.55" fill="#ab15a7"/>
<circle cx="609.86" cy="228.63" r="0.55" fill="#ab15a7"/>
<circle cx="615.64" cy="226.25" r="0.55" fill="#ff0051"/>
<circle cx="613.46" cy="227.95" r="0.55" fill="#ab15a7"/>
<circle cx="602.61" cy="227.22" r="0.55" fill="#ff0051"/>
<circle cx="610.14" cy="228.2" r="0.55" fill="#ff0051"/>
<circle cx="613.92" cy="225.66" r="0.55" fill="#ff0051"/>
<circle cx="602.81" cy="227.89" r="0.55" fill="#ff0051"/>
<circle cx="604.21" cy="225.12" r="0.55" fill="#ff0051"/>
<circle cx="606.41" cy="225.58" r="0.55" fill="#ff0051"/>
<circle cx="608.9" cy="224.23" r="0.55" fill="#ab15a7"/>
<circle cx="543.6" cy="237.16" r="0.65" fill="#0088fa"/>
<linearGradient id="g15" gradientUnits="userSpaceOnUse" x1="550.2" y1="0" x2="632" y2="0"><stop offset="0" stop-color="#0088fa"/><stop offset="0.12" stop-color="#007cf5"/><stop offset="0.19" stop-color="#3769e8"/><stop offset="0.27" stop-color="#6e53d5"/><stop offset="0.34" stop-color="#9135ba"/><stop offset="0.44" stop-color="#bb00a0"/><stop offset="0.54" stop-color="#d9008b"/><stop offset="0.63" stop-color="#f20072"/><stop offset="0.73" stop-color="#fe005c"/><stop offset="0.85" stop-color="#ff0051"/></linearGradient>
<path d="M550.2,236.46 L550.54,236.44 L550.87,236.41 L551.21,236.39 L551.54,236.37 L551.88,236.34 L552.21,236.32 L552.55,236.3 L552.88,236.28 L553.22,236.25 L553.55,236.23 L553.89,236.21 L554.22,236.18 L554.56,236.16 L554.89,236.14 L555.23,236.11 L555.56,236.09 L555.9,236.07 L556.23,236.02 L556.57,235.97 L556.9,235.92 L557.24,235.86 L557.58,235.81 L557.91,235.76 L558.25,235.7 L558.58,235.65 L558.92,235.6 L559.25,235.54 L559.59,235.49 L559.92,235.44 L560.26,235.38 L560.59,235.31 L560.93,235.21 L561.26,235.12 L561.6,235.03 L561.93,234.93 L562.27,234.84 L562.6,234.75 L562.94,234.65 L563.27,234.56 L563.61,234.47 L563.95,234.38 L564.28,234.32 L564.62,234.27 L564.95,234.22 L565.29,234.17 L565.62,234.12 L565.96,234.07 L566.29,234.02 L566.63,233.97 L566.96,233.92 L567.3,233.87 L567.63,233.82 L567.97,233.76 L568.3,233.75 L568.64,233.74 L568.97,233.74 L569.31,233.73 L569.64,233.72 L569.98,233.71 L570.31,233.7 L570.65,233.69 L570.99,233.69 L571.32,233.68 L571.66,233.67 L571.99,233.66 L572.33,233.71 L572.66,233.77 L573,233.83 L573.33,233.88 L573.67,233.94 L574,233.99 L574.34,234.05 L574.67,234.11 L575.01,234.16 L575.34,234.3 L575.68,234.43 L576.01,234.57 L576.35,234.7 L576.68,234.83 L577.02,234.96 L577.35,234.95 L577.69,234.94 L578.03,234.93 L578.36,234.91 L578.7,234.9 L579.03,234.89 L579.37,234.88 L579.7,234.87 L580.04,234.86 L580.37,234.84 L580.71,234.82 L581.04,234.8 L581.38,234.78 L581.71,234.76 L582.05,234.74 L582.38,234.72 L582.72,234.7 L583.05,234.68 L583.39,234.66 L583.72,234.64 L584.06,234.62 L584.4,234.6 L584.73,234.58 L585.07,234.56 L585.4,234.54 L585.74,234.52 L586.07,234.5 L586.41,234.48 L586.74,234.46 L587.08,234.44 L587.41,234.42 L587.75,234.4 L588.08,234.38 L588.42,234.35 L588.75,234.33 L589.09,234.31 L589.42,234.29 L589.76,234.27 L590.09,234.26 L590.43,234.28 L590.76,234.29 L591.1,234.3 L591.44,234.32 L591.77,234.33 L592.11,234.34 L592.44,234.36 L592.78,234.37 L593.11,234.38 L593.45,234.4 L593.78,234.41 L594.12,234.42 L594.45,234.44 L594.79,234.45 L595.12,234.47 L595.46,234.51 L595.79,234.54 L596.13,234.57 L596.46,234.61 L596.8,234.64 L597.13,234.67 L597.47,234.71 L597.8,234.74 L598.14,234.77 L598.48,234.81 L598.81,234.84 L599.15,234.87 L599.48,234.91 L599.82,234.94 L600.15,234.97 L600.49,234.98 L600.82,235 L601.16,235.02 L601.49,235.03 L601.83,235.05 L602.16,235.07 L602.5,235.08 L602.83,235.1 L603.17,235.12 L603.5,235.14 L603.84,235.15 L604.17,235.17 L604.51,235.19 L604.85,235.2 L605.18,235.22 L605.52,235.24 L605.85,235.25 L606.19,235.27 L606.52,235.29 L606.86,235.3 L607.19,235.32 L607.53,235.34 L607.86,235.35 L608.2,235.37 L608.53,235.39 L608.87,235.4 L609.2,235.42 L609.54,235.44 L609.87,235.45 L610.21,235.47 L610.54,235.49 L610.88,235.5 L611.21,235.52 L611.55,235.54 L611.89,235.55 L612.22,235.58 L612.56,235.61 L612.89,235.63 L613.23,235.66 L613.56,235.69 L613.9,235.72 L614.23,235.75 L614.57,235.77 L614.9,235.8 L615.24,235.83 L615.57,235.86 L615.91,235.89 L616.24,235.91 L616.58,235.94 L616.91,235.97 L617.25,236 L617.58,236.03 L617.92,236.05 L618.25,236.07 L618.59,236.07 L618.93,236.08 L619.26,236.09 L619.6,236.1 L619.93,236.11 L620.27,236.12 L620.6,236.13 L620.94,236.13 L621.27,236.14 L621.61,236.15 L621.94,236.16 L622.28,236.17 L622.61,236.18 L622.95,236.18 L623.28,236.19 L623.62,236.2 L623.95,236.21 L624.29,236.22 L624.62,236.23 L624.96,236.23 L625.3,236.24 L625.63,236.25 L625.97,236.26 L626.3,236.28 L626.64,236.29 L626.97,236.31 L627.31,236.33 L627.64,236.34 L627.98,236.36 L628.31,236.38 L628.65,236.39 L628.98,236.41 L629.32,236.43 L629.65,236.44 L629.99,236.46 L630.32,236.48 L630.66,236.49 L630.99,236.51 L631.33,236.53 L631.66,236.54 L632,236.56 L632,237.76 L631.66,237.78 L631.33,237.79 L630.99,237.81 L630.66,237.83 L630.32,237.84 L629.99,237.86 L629.65,237.88 L629.32,237.89 L628.98,237.91 L628.65,237.93 L628.31,237.94 L627.98,237.96 L627.64,237.98 L627.31,237.99 L626.97,238.01 L626.64,238.03 L626.3,238.04 L625.97,238.06 L625.63,238.07 L625.3,238.08 L624.96,238.09 L624.62,238.09 L624.29,238.1 L623.95,238.11 L623.62,238.12 L623.28,238.13 L622.95,238.14 L622.61,238.14 L622.28,238.15 L621.94,238.16 L621.61,238.17 L621.27,238.18 L620.94,238.19 L620.6,238.19 L620.27,238.2 L619.93,238.21 L619.6,238.22 L619.26,238.23 L618.93,238.24 L618.59,238.25 L618.25,238.25 L617.92,238.27 L617.58,238.29 L617.25,238.32 L616.91,238.35 L616.58,238.38 L616.24,238.41 L615.91,238.43 L615.57,238.46 L615.24,238.49 L614.9,238.52 L614.57,238.55 L614.23,238.57 L613.9,238.6 L613.56,238.63 L613.23,238.66 L612.89,238.69 L612.56,238.71 L612.22,238.74 L611.89,238.77 L611.55,238.78 L611.21,238.8 L610.88,238.82 L610.54,238.83 L610.21,238.85 L609.87,238.87 L609.54,238.88 L609.2,238.9 L608.87,238.92 L608.53,238.93 L608.2,238.95 L607.86,238.97 L607.53,238.98 L607.19,239 L606.86,239.02 L606.52,239.03 L606.19,239.05 L605.85,239.07 L605.52,239.08 L605.18,239.1 L604.85,239.12 L604.51,239.13 L604.17,239.15 L603.84,239.17 L603.5,239.18 L603.17,239.2 L602.83,239.22 L602.5,239.24 L602.16,239.25 L601.83,239.27 L601.49,239.29 L601.16,239.3 L600.82,239.32 L600.49,239.34 L600.15,239.35 L599.82,239.38 L599.48,239.41 L599.15,239.45 L598.81,239.48 L598.48,239.51 L598.14,239.55 L597.8,239.58 L597.47,239.61 L597.13,239.65 L596.8,239.68 L596.46,239.71 L596.13,239.75 L595.79,239.78 L595.46,239.81 L595.12,239.85 L594.79,239.87 L594.45,239.88 L594.12,239.9 L593.78,239.91 L593.45,239.92 L593.11,239.94 L592.78,239.95 L592.44,239.96 L592.11,239.98 L591.77,239.99 L591.44,240 L591.1,240.02 L590.76,240.03 L590.43,240.04 L590.09,240.06 L589.76,240.05 L589.42,240.03 L589.09,240.01 L588.75,239.99 L588.42,239.97 L588.08,239.94 L587.75,239.92 L587.41,239.9 L587.08,239.88 L586.74,239.86 L586.41,239.84 L586.07,239.82 L585.74,239.8 L585.4,239.78 L585.07,239.76 L584.73,239.74 L584.4,239.72 L584.06,239.7 L583.72,239.68 L583.39,239.66 L583.05,239.64 L582.72,239.62 L582.38,239.6 L582.05,239.58 L581.71,239.56 L581.38,239.54 L581.04,239.52 L580.71,239.5 L580.37,239.48 L580.04,239.46 L579.7,239.45 L579.37,239.44 L579.03,239.43 L578.7,239.42 L578.36,239.41 L578.03,239.39 L577.69,239.38 L577.35,239.37 L577.02,239.36 L576.68,239.49 L576.35,239.62 L576.01,239.75 L575.68,239.89 L575.34,240.02 L575.01,240.16 L574.67,240.21 L574.34,240.27 L574,240.33 L573.67,240.38 L573.33,240.44 L573,240.49 L572.66,240.55 L572.33,240.61 L571.99,240.66 L571.66,240.65 L571.32,240.64 L570.99,240.63 L570.65,240.63 L570.31,240.62 L569.98,240.61 L569.64,240.6 L569.31,240.59 L568.97,240.58 L568.64,240.58 L568.3,240.57 L567.97,240.56 L567.63,240.5 L567.3,240.45 L566.96,240.4 L566.63,240.35 L566.29,240.3 L565.96,240.25 L565.62,240.2 L565.29,240.15 L564.95,240.1 L564.62,240.05 L564.28,240 L563.95,239.94 L563.61,239.85 L563.27,239.76 L562.94,239.67 L562.6,239.57 L562.27,239.48 L561.93,239.39 L561.6,239.29 L561.26,239.2 L560.93,239.11 L560.59,239.01 L560.26,238.94 L559.92,238.88 L559.59,238.83 L559.25,238.78 L558.92,238.72 L558.58,238.67 L558.25,238.62 L557.91,238.56 L557.58,238.51 L557.24,238.46 L556.9,238.4 L556.57,238.35 L556.23,238.3 L555.9,238.25 L555.56,238.23 L555.23,238.21 L554.89,238.18 L554.56,238.16 L554.22,238.14 L553.89,238.11 L553.55,238.09 L553.22,238.07 L552.88,238.04 L552.55,238.02 L552.21,238 L551.88,237.98 L551.54,237.95 L551.21,237.93 L550.87,237.91 L550.54,237.88 L550.2,237.86 Z" fill="url(#g15)"/>
<circle cx="563.39" cy="238.3" r="0.6" fill="#9135ba"/>
<circle cx="567.75" cy="238.79" r="0.6" fill="#008bfb"/>
<circle cx="564.43" cy="235.65" r="0.6" fill="#bb00a0"/>
<circle cx="561.52" cy="237.06" r="0.6" fill="#008bfb"/>
<circle cx="564.28" cy="235.79" r="0.6" fill="#bb00a0"/>
<circle cx="562.04" cy="239.04" r="0.6" fill="#9135ba"/>
<circle cx="573.68" cy="236.48" r="0.6" fill="#bb00a0"/>
<circle cx="561.01" cy="237.31" r="0.6" fill="#bb00a0"/>
<circle cx="559.05" cy="237.92" r="0.6" fill="#9135ba"/>
<circle cx="558.11" cy="237.82" r="0.6" fill="#9135ba"/>
<circle cx="569.43" cy="238.47" r="0.6" fill="#bb00a0"/>
<circle cx="558.07" cy="236.2" r="0.6" fill="#008bfb"/>
<circle cx="574.24" cy="236.74" r="0.6" fill="#008bfb"/>
<circle cx="568.36" cy="235" r="0.6" fill="#9135ba"/>
<circle cx="571.92" cy="238.02" r="0.6" fill="#9135ba"/>
<circle cx="561.14" cy="238.38" r="0.6" fill="#008bfb"/>
<circle cx="562.19" cy="237.58" r="0.6" fill="#008bfb"/>
<circle cx="565.64" cy="236.55" r="0.6" fill="#bb00a0"/>
<circle cx="565.56" cy="235" r="0.6" fill="#008bfb"/>
<circle cx="570.79" cy="239.89" r="0.6" fill="#bb00a0"/>
<circle cx="562.11" cy="238.39" r="0.6" fill="#9135ba"/>
<circle cx="567.61" cy="235.98" r="0.6" fill="#008bfb"/>
<circle cx="562.92" cy="237.22" r="0.6" fill="#9135ba"/>
<circle cx="567.67" cy="240.09" r="0.6" fill="#9135ba"/>
<circle cx="565.16" cy="239.26" r="0.6" fill="#008bfb"/>
<circle cx="559.58" cy="237.6" r="0.6" fill="#008bfb"/>
<circle cx="563.28" cy="238.37" r="0.6" fill="#008bfb"/>
<circle cx="561.46" cy="236.31" r="0.6" fill="#008bfb"/>
<circle cx="558.97" cy="237.34" r="0.6" fill="#008bfb"/>
<circle cx="570.47" cy="234.41" r="0.6" fill="#9135ba"/>
<circle cx="567.55" cy="239.52" r="0.6" fill="#9135ba"/>
<circle cx="570.16" cy="235.56" r="0.6" fill="#9135ba"/>
<circle cx="559.97" cy="235.61" r="0.6" fill="#008bfb"/>
<circle cx="560.88" cy="236.6" r="0.6" fill="#9135ba"/>
<circle cx="572.9" cy="236.12" r="0.6" fill="#008bfb"/>
<circle cx="569.76" cy="236.74" r="0.6" fill="#008bfb"/>
<circle cx="559.01" cy="236.37" r="0.6" fill="#9135ba"/>
<circle cx="568.75" cy="239.65" r="0.6" fill="#bb00a0"/>
<circle cx="563.07" cy="239.03" r="0.6" fill="#9135ba"/>
<circle cx="573.78" cy="239.1" r="0.6" fill="#9135ba"/>
<circle cx="605" cy="237.27" r="0.6" fill="#ff0051"/>
<circle cx="597.52" cy="238.12" r="0.6" fill="#8443c6"/>
<circle cx="599.02" cy="237.26" r="0.6" fill="#fe005c"/>
<circle cx="587.08" cy="236.06" r="0.6" fill="#8443c6"/>
<circle cx="584.19" cy="235.11" r="0.6" fill="#8443c6"/>
<circle cx="585.12" cy="235.13" r="0.6" fill="#8443c6"/>
<circle cx="593.22" cy="235.26" r="0.6" fill="#c80098"/>
<circle cx="590.17" cy="239.29" r="0.6" fill="#fe005c"/>
<circle cx="592.21" cy="234.66" r="0.6" fill="#8443c6"/>
<circle cx="580.32" cy="235.35" r="0.6" fill="#fe005c"/>
<circle cx="594.02" cy="239.09" r="0.6" fill="#c80098"/>
<circle cx="593.43" cy="236.83" r="0.6" fill="#8443c6"/>
<circle cx="601.7" cy="238.57" r="0.6" fill="#ff0051"/>
<circle cx="598.1" cy="238.84" r="0.6" fill="#fe005c"/>
<circle cx="587.76" cy="237.09" r="0.6" fill="#ff0051"/>
<circle cx="592.08" cy="235.48" r="0.6" fill="#8443c6"/>
<circle cx="597.28" cy="236.6" r="0.6" fill="#ff0051"/>
<circle cx="590.34" cy="238.11" r="0.6" fill="#fe005c"/>
<circle cx="582.69" cy="235.88" r="0.6" fill="#fe005c"/>
<circle cx="597.79" cy="235.47" r="0.6" fill="#8443c6"/>
<circle cx="593.63" cy="234.87" r="0.6" fill="#ff0051"/>
<circle cx="599.46" cy="236.83" r="0.6" fill="#fe005c"/>
<circle cx="580.23" cy="237.89" r="0.6" fill="#c80098"/>
<circle cx="592.41" cy="236.9" r="0.6" fill="#fe005c"/>
<circle cx="592.64" cy="237.95" r="0.6" fill="#c80098"/>
<circle cx="597.42" cy="236.07" r="0.6" fill="#fe005c"/>
<circle cx="603.76" cy="235.91" r="0.6" fill="#fe005c"/>
<circle cx="602.69" cy="237.2" r="0.6" fill="#ff0051"/>
<circle cx="580.74" cy="237.21" r="0.6" fill="#8443c6"/>
<circle cx="595.88" cy="236.89" r="0.6" fill="#fe005c"/>
<circle cx="601.66" cy="236.16" r="0.6" fill="#8443c6"/>
<circle cx="594.78" cy="236.36" r="0.6" fill="#ff0051"/>
<circle cx="599.09" cy="238.43" r="0.6" fill="#8443c6"/>
<circle cx="591.64" cy="237.13" r="0.6" fill="#c80098"/>
<circle cx="586.13" cy="235.47" r="0.6" fill="#ff0051"/>
<circle cx="637.5" cy="237.16" r="0.7" fill="#ff0051"/>
<path d="M506.5,247.64 L506.86,247.6 L507.23,247.57 L507.59,247.53 L507.95,247.49 L508.32,247.46 L508.68,247.46 L509.05,247.49 L509.41,247.53 L509.77,247.57 L510.14,247.6 L510.5,247.64 L510.5,248.84 L510.14,248.88 L509.77,248.91 L509.41,248.95 L509.05,248.99 L508.68,249.02 L508.32,249.02 L507.95,248.99 L507.59,248.95 L507.23,248.91 L506.86,248.88 L506.5,248.84 Z" fill="#008bfb"/>
<circle cx="513" cy="248.24" r="0.7" fill="#008bfb"/>
<circle cx="515.2" cy="248.24" r="0.7" fill="#008bfb"/>
<circle cx="519.7" cy="248.24" r="0.7" fill="#008bfb"/>
<circle cx="524.5" cy="248.24" r="0.7" fill="#008bfb"/>
<path d="M527,247.64 L527.34,247.63 L527.67,247.61 L528.01,247.6 L528.35,247.59 L528.68,247.58 L529.02,247.56 L529.36,247.55 L529.69,247.54 L530.03,247.53 L530.37,247.51 L530.7,247.5 L531.04,247.49 L531.37,247.48 L531.71,247.46 L532.05,247.45 L532.38,247.44 L532.72,247.43 L533.06,247.41 L533.39,247.4 L533.73,247.39 L534.07,247.37 L534.4,247.36 L534.74,247.35 L535.08,247.34 L535.41,247.33 L535.75,247.33 L536.09,247.32 L536.42,247.31 L536.76,247.3 L537.1,247.3 L537.43,247.29 L537.77,247.28 L538.11,247.28 L538.44,247.27 L538.78,247.26 L539.11,247.26 L539.45,247.25 L539.79,247.24 L540.12,247.24 L540.46,247.23 L540.8,247.22 L541.13,247.22 L541.47,247.21 L541.81,247.2 L542.14,247.2 L542.48,247.19 L542.82,247.18 L543.15,247.18 L543.49,247.17 L543.83,247.16 L544.16,247.16 L544.5,247.15 L544.84,247.14 L545.17,247.14 L545.51,247.13 L545.85,247.12 L546.18,247.11 L546.52,247.1 L546.85,247.09 L547.19,247.08 L547.53,247.07 L547.86,247.06 L548.2,247.05 L548.54,247.04 L548.87,247.03 L549.21,247.02 L549.55,247.01 L549.88,247 L550.22,246.99 L550.56,246.98 L550.89,246.97 L551.23,246.96 L551.57,246.95 L551.9,246.94 L552.24,246.95 L552.58,246.96 L552.91,246.97 L553.25,246.98 L553.59,246.99 L553.92,247 L554.26,247.02 L554.59,247.03 L554.93,247.04 L555.27,247.05 L555.6,247.06 L555.94,247.07 L556.28,247.08 L556.61,247.09 L556.95,247.11 L557.29,247.12 L557.62,247.13 L557.96,247.14 L558.3,247.15 L558.63,247.16 L558.97,247.18 L559.31,247.19 L559.64,247.2 L559.98,247.22 L560.32,247.23 L560.65,247.24 L560.99,247.26 L561.33,247.27 L561.66,247.28 L562,247.3 L562.33,247.31 L562.67,247.32 L563.01,247.34 L563.34,247.35 L563.68,247.36 L564.02,247.37 L564.35,247.39 L564.69,247.4 L565.03,247.41 L565.36,247.43 L565.7,247.44 L565.7,249.04 L565.36,249.05 L565.03,249.07 L564.69,249.08 L564.35,249.09 L564.02,249.11 L563.68,249.12 L563.34,249.13 L563.01,249.14 L562.67,249.16 L562.33,249.17 L562,249.18 L561.66,249.2 L561.33,249.21 L560.99,249.22 L560.65,249.24 L560.32,249.25 L559.98,249.26 L559.64,249.28 L559.31,249.29 L558.97,249.3 L558.63,249.32 L558.3,249.33 L557.96,249.34 L557.62,249.35 L557.29,249.36 L556.95,249.37 L556.61,249.39 L556.28,249.4 L555.94,249.41 L555.6,249.42 L555.27,249.43 L554.93,249.44 L554.59,249.45 L554.26,249.46 L553.92,249.48 L553.59,249.49 L553.25,249.5 L552.91,249.51 L552.58,249.52 L552.24,249.53 L551.9,249.54 L551.57,249.53 L551.23,249.52 L550.89,249.51 L550.56,249.5 L550.22,249.49 L549.88,249.48 L549.55,249.47 L549.21,249.46 L548.87,249.45 L548.54,249.44 L548.2,249.43 L547.86,249.42 L547.53,249.41 L547.19,249.4 L546.85,249.39 L546.52,249.38 L546.18,249.37 L545.85,249.36 L545.51,249.35 L545.17,249.34 L544.84,249.34 L544.5,249.33 L544.16,249.32 L543.83,249.32 L543.49,249.31 L543.15,249.3 L542.82,249.3 L542.48,249.29 L542.14,249.28 L541.81,249.28 L541.47,249.27 L541.13,249.26 L540.8,249.26 L540.46,249.25 L540.12,249.24 L539.79,249.24 L539.45,249.23 L539.11,249.22 L538.78,249.22 L538.44,249.21 L538.11,249.2 L537.77,249.2 L537.43,249.19 L537.1,249.18 L536.76,249.18 L536.42,249.17 L536.09,249.16 L535.75,249.15 L535.41,249.15 L535.08,249.14 L534.74,249.13 L534.4,249.12 L534.07,249.11 L533.73,249.09 L533.39,249.08 L533.06,249.07 L532.72,249.05 L532.38,249.04 L532.05,249.03 L531.71,249.02 L531.37,249 L531.04,248.99 L530.7,248.98 L530.37,248.97 L530.03,248.95 L529.69,248.94 L529.36,248.93 L529.02,248.92 L528.68,248.9 L528.35,248.89 L528.01,248.88 L527.67,248.87 L527.34,248.85 L527,248.84 Z" fill="#008bfb"/>
<circle cx="569.6" cy="248.24" r="0.7" fill="#0088fa"/>
<circle cx="575.5" cy="248.24" r="0.7" fill="#0084f9"/>
<linearGradient id="g16" gradientUnits="userSpaceOnUse" x1="580.5" y1="0" x2="604.7" y2="0"><stop offset="0.02" stop-color="#754fd1"/><stop offset="0.31" stop-color="#9135ba"/><stop offset="0.56" stop-color="#ab15a7"/><stop offset="0.81" stop-color="#c0009c"/><stop offset="1" stop-color="#d5008f"/></linearGradient>
<path d="M580.5,247.64 L580.84,247.52 L581.18,247.41 L581.52,247.29 L581.86,247.17 L582.2,247.06 L582.55,246.94 L582.89,246.82 L583.23,246.71 L583.57,246.59 L583.91,246.47 L584.25,246.35 L584.59,246.23 L584.93,246.11 L585.27,245.99 L585.61,245.88 L585.95,245.76 L586.29,245.64 L586.64,245.52 L586.98,245.4 L587.32,245.28 L587.66,245.16 L588,245.04 L588.34,244.99 L588.68,244.94 L589.02,244.89 L589.36,244.84 L589.7,244.78 L590.04,244.73 L590.38,244.68 L590.73,244.63 L591.07,244.58 L591.41,244.53 L591.75,244.48 L592.09,244.44 L592.43,244.46 L592.77,244.48 L593.11,244.5 L593.45,244.51 L593.79,244.53 L594.13,244.55 L594.47,244.56 L594.82,244.58 L595.16,244.6 L595.5,244.61 L595.84,244.63 L596.18,244.69 L596.52,244.8 L596.86,244.9 L597.2,245 L597.54,245.1 L597.88,245.2 L598.22,245.31 L598.56,245.41 L598.91,245.51 L599.25,245.61 L599.59,245.72 L599.93,245.82 L600.27,245.94 L600.61,246.06 L600.95,246.18 L601.29,246.31 L601.63,246.43 L601.97,246.55 L602.31,246.68 L602.65,246.8 L603,246.92 L603.34,247.05 L603.68,247.17 L604.02,247.29 L604.36,247.42 L604.7,247.54 L604.7,248.94 L604.36,249.06 L604.02,249.19 L603.68,249.31 L603.34,249.43 L603,249.56 L602.65,249.68 L602.31,249.8 L601.97,249.93 L601.63,250.05 L601.29,250.17 L600.95,250.3 L600.61,250.42 L600.27,250.54 L599.93,250.66 L599.59,250.76 L599.25,250.87 L598.91,250.97 L598.56,251.07 L598.22,251.17 L597.88,251.28 L597.54,251.38 L597.2,251.48 L596.86,251.58 L596.52,251.68 L596.18,251.79 L595.84,251.85 L595.5,251.87 L595.16,251.88 L594.82,251.9 L594.47,251.92 L594.13,251.93 L593.79,251.95 L593.45,251.97 L593.11,251.98 L592.77,252 L592.43,252.02 L592.09,252.04 L591.75,252 L591.41,251.95 L591.07,251.9 L590.73,251.85 L590.38,251.8 L590.04,251.75 L589.7,251.7 L589.36,251.64 L589.02,251.59 L588.68,251.54 L588.34,251.49 L588,251.44 L587.66,251.32 L587.32,251.2 L586.98,251.08 L586.64,250.96 L586.29,250.84 L585.95,250.72 L585.61,250.6 L585.27,250.49 L584.93,250.37 L584.59,250.25 L584.25,250.13 L583.91,250.01 L583.57,249.89 L583.23,249.77 L582.89,249.66 L582.55,249.54 L582.2,249.42 L581.86,249.31 L581.52,249.19 L581.18,249.07 L580.84,248.96 L580.5,248.84 Z" fill="url(#g16)"/>
<circle cx="599.5" cy="247.75" r="0.55" fill="#f20072"/>
<circle cx="591.36" cy="246.74" r="0.55" fill="#f20072"/>
<circle cx="591.55" cy="246.73" r="0.55" fill="#f20072"/>
<circle cx="585.32" cy="247.83" r="0.55" fill="#e00086"/>
<circle cx="594.2" cy="249.2" r="0.55" fill="#f20072"/>
<circle cx="599.98" cy="246.35" r="0.55" fill="#f20072"/>
<circle cx="599.39" cy="250.29" r="0.55" fill="#f20072"/>
<circle cx="589.77" cy="251.3" r="0.55" fill="#e00086"/>
<circle cx="592.02" cy="249.71" r="0.55" fill="#e00086"/>
<circle cx="596.51" cy="247.21" r="0.55" fill="#f20072"/>
<circle cx="589.35" cy="249.88" r="0.55" fill="#6359da"/>
<circle cx="591" cy="250.84" r="0.55" fill="#6359da"/>
<circle cx="588.74" cy="245.43" r="0.55" fill="#6359da"/>
<circle cx="590.02" cy="251.27" r="0.55" fill="#f20072"/>
<circle cx="598.22" cy="250.13" r="0.55" fill="#e00086"/>
<circle cx="584.55" cy="248.44" r="0.55" fill="#f20072"/>
<circle cx="594.56" cy="250.83" r="0.55" fill="#6359da"/>
<circle cx="588.5" cy="246.43" r="0.55" fill="#e00086"/>
<circle cx="598.07" cy="250.91" r="0.55" fill="#e00086"/>
<circle cx="585.72" cy="248.87" r="0.55" fill="#6359da"/>
<circle cx="597.37" cy="251.04" r="0.55" fill="#6359da"/>
<circle cx="598.76" cy="250.54" r="0.55" fill="#f20072"/>
<circle cx="598.66" cy="247.09" r="0.55" fill="#e00086"/>
<circle cx="591.39" cy="247.9" r="0.55" fill="#6359da"/>
<circle cx="593.68" cy="247.25" r="0.55" fill="#e00086"/>
<circle cx="589.89" cy="249.95" r="0.55" fill="#6359da"/>
<circle cx="586.2" cy="247.08" r="0.55" fill="#e00086"/>
<circle cx="597.25" cy="248.23" r="0.55" fill="#e00086"/>
<circle cx="587.58" cy="248.65" r="0.55" fill="#6359da"/>
<circle cx="587.91" cy="248.17" r="0.55" fill="#6359da"/>
<circle cx="607.7" cy="248.24" r="0.7" fill="#f20072"/>
<linearGradient id="g17" gradientUnits="userSpaceOnUse" x1="545.3" y1="0" x2="622.8" y2="0"><stop offset="0" stop-color="#ff0051"/><stop offset="0.19" stop-color="#fe005c"/><stop offset="0.32" stop-color="#f6006b"/><stop offset="0.42" stop-color="#e00086"/><stop offset="0.5" stop-color="#ab15a7"/><stop offset="0.58" stop-color="#7e48ca"/><stop offset="0.67" stop-color="#236cea"/><stop offset="0.76" stop-color="#007ff7"/><stop offset="0.86" stop-color="#0088fa"/><stop offset="1" stop-color="#008bfb"/></linearGradient>
<path d="M545.3,258.62 L545.64,258.59 L545.97,258.56 L546.31,258.53 L546.64,258.51 L546.98,258.48 L547.31,258.45 L547.65,258.42 L547.98,258.39 L548.32,258.36 L548.65,258.33 L548.99,258.31 L549.33,258.28 L549.66,258.25 L550,258.22 L550.33,258.2 L550.67,258.18 L551,258.16 L551.34,258.14 L551.67,258.12 L552.01,258.1 L552.35,258.08 L552.68,258.06 L553.02,258.04 L553.35,258.02 L553.69,258 L554.02,257.98 L554.36,257.96 L554.69,257.94 L555.03,257.92 L555.36,257.86 L555.7,257.81 L556.04,257.75 L556.37,257.7 L556.71,257.65 L557.04,257.59 L557.38,257.54 L557.71,257.49 L558.05,257.43 L558.38,257.38 L558.72,257.32 L559.06,257.27 L559.39,257.22 L559.73,257.16 L560.06,257.11 L560.4,257.06 L560.73,257 L561.07,256.95 L561.4,256.9 L561.74,256.84 L562.07,256.79 L562.41,256.73 L562.75,256.68 L563.08,256.63 L563.42,256.57 L563.75,256.52 L564.09,256.47 L564.42,256.41 L564.76,256.36 L565.09,256.31 L565.43,256.29 L565.77,256.26 L566.1,256.23 L566.44,256.21 L566.77,256.18 L567.11,256.15 L567.44,256.12 L567.78,256.1 L568.11,256.07 L568.45,256.04 L568.78,256.02 L569.12,255.99 L569.46,255.96 L569.79,255.94 L570.13,255.93 L570.46,255.94 L570.8,255.95 L571.13,255.97 L571.47,255.98 L571.8,255.99 L572.14,256.01 L572.48,256.02 L572.81,256.03 L573.15,256.05 L573.48,256.06 L573.82,256.07 L574.15,256.09 L574.49,256.1 L574.82,256.11 L575.16,256.12 L575.49,256.11 L575.83,256.1 L576.17,256.09 L576.5,256.08 L576.84,256.07 L577.17,256.07 L577.51,256.06 L577.84,256.05 L578.18,256.04 L578.51,256.03 L578.85,256.02 L579.19,256.06 L579.52,256.14 L579.86,256.22 L580.19,256.3 L580.53,256.38 L580.86,256.45 L581.2,256.53 L581.53,256.61 L581.87,256.69 L582.2,256.75 L582.54,256.81 L582.88,256.86 L583.21,256.91 L583.55,256.97 L583.88,257.02 L584.22,257.07 L584.55,257.1 L584.89,256.99 L585.22,256.87 L585.56,256.76 L585.9,256.64 L586.23,256.53 L586.57,256.41 L586.9,256.3 L587.24,256.18 L587.57,256.07 L587.91,255.95 L588.24,255.88 L588.58,255.83 L588.91,255.78 L589.25,255.73 L589.59,255.68 L589.92,255.63 L590.26,255.58 L590.59,255.53 L590.93,255.48 L591.26,255.43 L591.6,255.38 L591.93,255.33 L592.27,255.32 L592.61,255.32 L592.94,255.32 L593.28,255.32 L593.61,255.32 L593.95,255.32 L594.28,255.32 L594.62,255.32 L594.95,255.32 L595.29,255.32 L595.62,255.32 L595.96,255.32 L596.3,255.32 L596.63,255.32 L596.97,255.32 L597.3,255.37 L597.64,255.42 L597.97,255.47 L598.31,255.52 L598.64,255.57 L598.98,255.62 L599.32,255.67 L599.65,255.72 L599.99,255.77 L600.32,255.82 L600.66,255.87 L600.99,255.92 L601.33,255.99 L601.66,256.07 L602,256.14 L602.33,256.22 L602.67,256.3 L603.01,256.37 L603.34,256.45 L603.68,256.52 L604.01,256.6 L604.35,256.67 L604.68,256.75 L605.02,256.82 L605.35,256.87 L605.69,256.92 L606.03,256.97 L606.36,257.01 L606.7,257.06 L607.03,257.11 L607.37,257.16 L607.7,257.21 L608.04,257.25 L608.37,257.3 L608.71,257.35 L609.04,257.4 L609.38,257.45 L609.72,257.49 L610.05,257.54 L610.39,257.59 L610.72,257.64 L611.06,257.69 L611.39,257.73 L611.73,257.78 L612.06,257.82 L612.4,257.85 L612.74,257.87 L613.07,257.89 L613.41,257.91 L613.74,257.94 L614.08,257.96 L614.41,257.98 L614.75,258 L615.08,258.03 L615.42,258.05 L615.75,258.07 L616.09,258.09 L616.43,258.12 L616.76,258.14 L617.1,258.16 L617.43,258.18 L617.77,258.2 L618.1,258.23 L618.44,258.27 L618.77,258.3 L619.11,258.34 L619.45,258.37 L619.78,258.41 L620.12,258.44 L620.45,258.48 L620.79,258.51 L621.12,258.55 L621.46,258.58 L621.79,258.62 L622.13,258.65 L622.46,258.69 L622.8,258.72 L622.8,259.92 L622.46,259.95 L622.13,259.99 L621.79,260.02 L621.46,260.06 L621.12,260.09 L620.79,260.13 L620.45,260.16 L620.12,260.2 L619.78,260.23 L619.45,260.27 L619.11,260.3 L618.77,260.34 L618.44,260.37 L618.1,260.41 L617.77,260.44 L617.43,260.46 L617.1,260.48 L616.76,260.5 L616.43,260.52 L616.09,260.55 L615.75,260.57 L615.42,260.59 L615.08,260.61 L614.75,260.64 L614.41,260.66 L614.08,260.68 L613.74,260.7 L613.41,260.73 L613.07,260.75 L612.74,260.77 L612.4,260.79 L612.06,260.82 L611.73,260.86 L611.39,260.91 L611.06,260.95 L610.72,261 L610.39,261.05 L610.05,261.1 L609.72,261.15 L609.38,261.19 L609.04,261.24 L608.71,261.29 L608.37,261.34 L608.04,261.39 L607.7,261.43 L607.37,261.48 L607.03,261.53 L606.7,261.58 L606.36,261.63 L606.03,261.67 L605.69,261.72 L605.35,261.77 L605.02,261.82 L604.68,261.89 L604.35,261.97 L604.01,262.04 L603.68,262.12 L603.34,262.19 L603.01,262.27 L602.67,262.34 L602.33,262.42 L602,262.5 L601.66,262.57 L601.33,262.65 L600.99,262.72 L600.66,262.77 L600.32,262.82 L599.99,262.87 L599.65,262.92 L599.32,262.97 L598.98,263.02 L598.64,263.07 L598.31,263.12 L597.97,263.17 L597.64,263.22 L597.3,263.27 L596.97,263.32 L596.63,263.32 L596.3,263.32 L595.96,263.32 L595.62,263.32 L595.29,263.32 L594.95,263.32 L594.62,263.32 L594.28,263.32 L593.95,263.32 L593.61,263.32 L593.28,263.32 L592.94,263.32 L592.61,263.32 L592.27,263.32 L591.93,263.31 L591.6,263.26 L591.26,263.21 L590.93,263.16 L590.59,263.11 L590.26,263.06 L589.92,263.01 L589.59,262.96 L589.25,262.91 L588.91,262.86 L588.58,262.81 L588.24,262.76 L587.91,262.69 L587.57,262.57 L587.24,262.46 L586.9,262.34 L586.57,262.23 L586.23,262.11 L585.9,262 L585.56,261.88 L585.22,261.77 L584.89,261.65 L584.55,261.54 L584.22,261.57 L583.88,261.62 L583.55,261.67 L583.21,261.73 L582.88,261.78 L582.54,261.83 L582.2,261.89 L581.87,261.95 L581.53,262.03 L581.2,262.11 L580.86,262.19 L580.53,262.26 L580.19,262.34 L579.86,262.42 L579.52,262.5 L579.19,262.58 L578.85,262.62 L578.51,262.61 L578.18,262.6 L577.84,262.59 L577.51,262.58 L577.17,262.57 L576.84,262.57 L576.5,262.56 L576.17,262.55 L575.83,262.54 L575.49,262.53 L575.16,262.52 L574.82,262.53 L574.49,262.54 L574.15,262.55 L573.82,262.57 L573.48,262.58 L573.15,262.59 L572.81,262.61 L572.48,262.62 L572.14,262.63 L571.8,262.65 L571.47,262.66 L571.13,262.67 L570.8,262.69 L570.46,262.7 L570.13,262.71 L569.79,262.7 L569.46,262.68 L569.12,262.65 L568.78,262.62 L568.45,262.6 L568.11,262.57 L567.78,262.54 L567.44,262.52 L567.11,262.49 L566.77,262.46 L566.44,262.43 L566.1,262.41 L565.77,262.38 L565.43,262.35 L565.09,262.33 L564.76,262.28 L564.42,262.23 L564.09,262.17 L563.75,262.12 L563.42,262.07 L563.08,262.01 L562.75,261.96 L562.41,261.91 L562.07,261.85 L561.74,261.8 L561.4,261.74 L561.07,261.69 L560.73,261.64 L560.4,261.58 L560.06,261.53 L559.73,261.48 L559.39,261.42 L559.06,261.37 L558.72,261.32 L558.38,261.26 L558.05,261.21 L557.71,261.15 L557.38,261.1 L557.04,261.05 L556.71,260.99 L556.37,260.94 L556.04,260.89 L555.7,260.83 L555.36,260.78 L555.03,260.72 L554.69,260.7 L554.36,260.68 L554.02,260.66 L553.69,260.64 L553.35,260.62 L553.02,260.6 L552.68,260.58 L552.35,260.56 L552.01,260.54 L551.67,260.52 L551.34,260.5 L551,260.48 L550.67,260.46 L550.33,260.44 L550,260.42 L549.66,260.39 L549.33,260.36 L548.99,260.33 L548.65,260.31 L548.32,260.28 L547.98,260.25 L547.65,260.22 L547.31,260.19 L546.98,260.16 L546.64,260.13 L546.31,260.11 L545.97,260.08 L545.64,260.05 L545.3,260.02 Z" fill="url(#g17)"/>
<circle cx="569.32" cy="258.34" r="0.6" fill="#9135ba"/>
<circle cx="561.79" cy="258.62" r="0.6" fill="#9135ba"/>
<circle cx="556.76" cy="260.63" r="0.6" fill="#ff0051"/>
<circle cx="566.1" cy="260.43" r="0.6" fill="#9135ba"/>
<circle cx="559.51" cy="258.61" r="0.6" fill="#f90067"/>
<circle cx="568.18" cy="262.16" r="0.6" fill="#d5008f"/>
<circle cx="560.04" cy="260.29" r="0.6" fill="#ff0051"/>
<circle cx="568.62" cy="258.53" r="0.6" fill="#d5008f"/>
<circle cx="571.59" cy="258.67" r="0.6" fill="#d5008f"/>
<circle cx="561.32" cy="260.62" r="0.6" fill="#ff0051"/>
<circle cx="570.53" cy="260.54" r="0.6" fill="#9135ba"/>
<circle cx="559.43" cy="257.5" r="0.6" fill="#f90067"/>
<circle cx="561.72" cy="260.18" r="0.6" fill="#f90067"/>
<circle cx="579.14" cy="257.58" r="0.6" fill="#9135ba"/>
<circle cx="558.18" cy="260.34" r="0.6" fill="#9135ba"/>
<circle cx="564.95" cy="259.14" r="0.6" fill="#9135ba"/>
<circle cx="577.96" cy="260.1" r="0.6" fill="#ff0051"/>
<circle cx="568.92" cy="261.23" r="0.6" fill="#d5008f"/>
<circle cx="576.64" cy="260.2" r="0.6" fill="#9135ba"/>
<circle cx="559.03" cy="259.3" r="0.6" fill="#f90067"/>
<circle cx="565.47" cy="261.58" r="0.6" fill="#d5008f"/>
<circle cx="568.11" cy="259.2" r="0.6" fill="#ff0051"/>
<circle cx="570.02" cy="257.78" r="0.6" fill="#f90067"/>
<circle cx="558.48" cy="258.89" r="0.6" fill="#ff0051"/>
<circle cx="566.42" cy="259.65" r="0.6" fill="#9135ba"/>
<circle cx="563.56" cy="258.61" r="0.6" fill="#d5008f"/>
<circle cx="576.93" cy="260.13" r="0.6" fill="#9135ba"/>
<circle cx="580.2" cy="261.3" r="0.6" fill="#d5008f"/>
<circle cx="563.15" cy="256.89" r="0.6" fill="#d5008f"/>
<circle cx="563.72" cy="256.85" r="0.6" fill="#9135ba"/>
<circle cx="565.87" cy="258.41" r="0.6" fill="#f90067"/>
<circle cx="571.69" cy="260.33" r="0.6" fill="#9135ba"/>
<circle cx="566.66" cy="259.8" r="0.6" fill="#9135ba"/>
<circle cx="561.12" cy="258.22" r="0.6" fill="#f90067"/>
<circle cx="569.49" cy="261.28" r="0.6" fill="#ff0051"/>
<circle cx="564.95" cy="260.67" r="0.6" fill="#d5008f"/>
<circle cx="566.65" cy="259.66" r="0.6" fill="#9135ba"/>
<circle cx="572.64" cy="261.65" r="0.6" fill="#ff0051"/>
<circle cx="577.91" cy="260.89" r="0.6" fill="#ff0051"/>
<circle cx="579.49" cy="256.9" r="0.6" fill="#ff0051"/>
<circle cx="580.11" cy="260.62" r="0.6" fill="#d5008f"/>
<circle cx="557.96" cy="258.63" r="0.6" fill="#9135ba"/>
<circle cx="562.37" cy="259.58" r="0.6" fill="#9135ba"/>
<circle cx="558.34" cy="258.53" r="0.6" fill="#9135ba"/>
<circle cx="565.25" cy="257.3" r="0.6" fill="#f90067"/>
<circle cx="598.29" cy="257.61" r="0.6" fill="#8443c6"/>
<circle cx="587.27" cy="260.24" r="0.6" fill="#8443c6"/>
<circle cx="595.42" cy="256.88" r="0.6" fill="#008bfb"/>
<circle cx="588.71" cy="259.72" r="0.6" fill="#8443c6"/>
<circle cx="588.98" cy="261.11" r="0.6" fill="#e00086"/>
<circle cx="594.04" cy="259.02" r="0.6" fill="#007cf5"/>
<circle cx="589.72" cy="260.67" r="0.6" fill="#008bfb"/>
<circle cx="586.36" cy="259.48" r="0.6" fill="#007cf5"/>
<circle cx="604.96" cy="260.95" r="0.6" fill="#8443c6"/>
<circle cx="603.17" cy="261.06" r="0.6" fill="#008bfb"/>
<circle cx="591.89" cy="261.98" r="0.6" fill="#008bfb"/>
<circle cx="593.8" cy="255.96" r="0.6" fill="#8443c6"/>
<circle cx="598.46" cy="257.24" r="0.6" fill="#008bfb"/>
<circle cx="586.83" cy="259.86" r="0.6" fill="#008bfb"/>
<circle cx="589.65" cy="256.37" r="0.6" fill="#008bfb"/>
<circle cx="602.03" cy="258.86" r="0.6" fill="#008bfb"/>
<circle cx="591.4" cy="259.16" r="0.6" fill="#e00086"/>
<circle cx="588.34" cy="260" r="0.6" fill="#e00086"/>
<circle cx="586.35" cy="259.35" r="0.6" fill="#008bfb"/>
<circle cx="605.96" cy="261.23" r="0.6" fill="#007cf5"/>
<circle cx="602.4" cy="257.01" r="0.6" fill="#007cf5"/>
<circle cx="587.3" cy="256.87" r="0.6" fill="#8443c6"/>
<circle cx="586" cy="260.87" r="0.6" fill="#8443c6"/>
<circle cx="600.19" cy="259.48" r="0.6" fill="#008bfb"/>
<circle cx="608.85" cy="259.79" r="0.6" fill="#8443c6"/>
<circle cx="592.72" cy="256.83" r="0.6" fill="#e00086"/>
<circle cx="605.97" cy="257.33" r="0.6" fill="#e00086"/>
<circle cx="605.92" cy="260.98" r="0.6" fill="#8443c6"/>
<circle cx="601.51" cy="260.49" r="0.6" fill="#007cf5"/>
<circle cx="587.17" cy="260.62" r="0.6" fill="#007cf5"/>
<circle cx="589.42" cy="257.76" r="0.6" fill="#008bfb"/>
<circle cx="591.19" cy="259.1" r="0.6" fill="#e00086"/>
<circle cx="587.51" cy="256.73" r="0.6" fill="#007cf5"/>
<circle cx="591.93" cy="255.73" r="0.6" fill="#8443c6"/>
<circle cx="594.2" cy="261.67" r="0.6" fill="#008bfb"/>
<circle cx="589.92" cy="259.68" r="0.6" fill="#8443c6"/>
<circle cx="606.53" cy="257.27" r="0.6" fill="#e00086"/>
<circle cx="586.88" cy="257.28" r="0.6" fill="#008bfb"/>
<circle cx="605.2" cy="257.43" r="0.6" fill="#008bfb"/>
<circle cx="589.19" cy="257.51" r="0.6" fill="#007cf5"/>
<circle cx="607.25" cy="260.09" r="0.6" fill="#8443c6"/>
<circle cx="589.1" cy="258.78" r="0.6" fill="#008bfb"/>
<circle cx="599.72" cy="257.3" r="0.6" fill="#008bfb"/>
<circle cx="589.09" cy="257.22" r="0.6" fill="#e00086"/>
<circle cx="588.79" cy="258.26" r="0.6" fill="#8443c6"/>
<circle cx="533.9" cy="270.4" r="0.65" fill="#ff0051"/>
<circle cx="536.8" cy="270.4" r="0.65" fill="#ff0051"/>
<path d="M540,269.6 L540.34,269.59 L540.67,269.58 L541.01,269.57 L541.34,269.56 L541.68,269.55 L542.02,269.54 L542.35,269.53 L542.69,269.52 L543.02,269.51 L543.36,269.5 L543.7,269.49 L544.03,269.48 L544.37,269.47 L544.7,269.46 L545.04,269.45 L545.38,269.44 L545.71,269.43 L546.05,269.42 L546.38,269.41 L546.72,269.4 L547.06,269.39 L547.39,269.38 L547.73,269.37 L548.06,269.36 L548.4,269.35 L548.74,269.34 L549.07,269.33 L549.41,269.32 L549.74,269.31 L550.08,269.3 L550.42,269.3 L550.75,269.29 L551.09,269.29 L551.42,269.29 L551.76,269.29 L552.1,269.29 L552.43,269.28 L552.77,269.28 L553.1,269.28 L553.44,269.28 L553.78,269.27 L554.11,269.27 L554.45,269.27 L554.78,269.27 L555.12,269.27 L555.46,269.26 L555.79,269.26 L556.13,269.26 L556.46,269.26 L556.8,269.25 L557.14,269.25 L557.47,269.25 L557.81,269.25 L558.14,269.25 L558.48,269.24 L558.82,269.24 L559.15,269.24 L559.49,269.24 L559.82,269.23 L560.16,269.23 L560.5,269.23 L560.83,269.23 L561.17,269.23 L561.5,269.22 L561.84,269.22 L562.18,269.22 L562.51,269.22 L562.85,269.21 L563.18,269.21 L563.52,269.21 L563.86,269.21 L564.19,269.21 L564.53,269.2 L564.86,269.2 L565.2,269.2 L565.54,269.2 L565.87,269.21 L566.21,269.21 L566.54,269.21 L566.88,269.21 L567.22,269.22 L567.55,269.22 L567.89,269.22 L568.22,269.22 L568.56,269.23 L568.9,269.23 L569.23,269.23 L569.57,269.24 L569.9,269.24 L570.24,269.24 L570.58,269.24 L570.91,269.25 L571.25,269.25 L571.58,269.25 L571.92,269.25 L572.26,269.26 L572.59,269.26 L572.93,269.26 L573.26,269.26 L573.6,269.27 L573.94,269.27 L574.27,269.27 L574.61,269.27 L574.94,269.28 L575.28,269.28 L575.62,269.28 L575.95,269.28 L576.29,269.29 L576.62,269.29 L576.96,269.29 L577.3,269.29 L577.63,269.3 L577.97,269.3 L578.3,269.32 L578.64,269.33 L578.98,269.35 L579.31,269.37 L579.65,269.38 L579.98,269.4 L580.32,269.42 L580.66,269.43 L580.99,269.45 L581.33,269.47 L581.66,269.48 L582,269.5 L582,271.3 L581.66,271.32 L581.33,271.33 L580.99,271.35 L580.66,271.37 L580.32,271.38 L579.98,271.4 L579.65,271.42 L579.31,271.43 L578.98,271.45 L578.64,271.47 L578.3,271.48 L577.97,271.5 L577.63,271.5 L577.3,271.51 L576.96,271.51 L576.62,271.51 L576.29,271.51 L575.95,271.52 L575.62,271.52 L575.28,271.52 L574.94,271.52 L574.61,271.53 L574.27,271.53 L573.94,271.53 L573.6,271.53 L573.26,271.54 L572.93,271.54 L572.59,271.54 L572.26,271.54 L571.92,271.55 L571.58,271.55 L571.25,271.55 L570.91,271.55 L570.58,271.56 L570.24,271.56 L569.9,271.56 L569.57,271.56 L569.23,271.57 L568.9,271.57 L568.56,271.57 L568.22,271.58 L567.89,271.58 L567.55,271.58 L567.22,271.58 L566.88,271.59 L566.54,271.59 L566.21,271.59 L565.87,271.59 L565.54,271.6 L565.2,271.6 L564.86,271.6 L564.53,271.6 L564.19,271.59 L563.86,271.59 L563.52,271.59 L563.18,271.59 L562.85,271.59 L562.51,271.58 L562.18,271.58 L561.84,271.58 L561.5,271.58 L561.17,271.57 L560.83,271.57 L560.5,271.57 L560.16,271.57 L559.82,271.57 L559.49,271.56 L559.15,271.56 L558.82,271.56 L558.48,271.56 L558.14,271.55 L557.81,271.55 L557.47,271.55 L557.14,271.55 L556.8,271.55 L556.46,271.54 L556.13,271.54 L555.79,271.54 L555.46,271.54 L555.12,271.53 L554.78,271.53 L554.45,271.53 L554.11,271.53 L553.78,271.53 L553.44,271.52 L553.1,271.52 L552.77,271.52 L552.43,271.52 L552.1,271.51 L551.76,271.51 L551.42,271.51 L551.09,271.51 L550.75,271.51 L550.42,271.5 L550.08,271.5 L549.74,271.49 L549.41,271.48 L549.07,271.47 L548.74,271.46 L548.4,271.45 L548.06,271.44 L547.73,271.43 L547.39,271.42 L547.06,271.41 L546.72,271.4 L546.38,271.39 L546.05,271.38 L545.71,271.37 L545.38,271.36 L545.04,271.35 L544.7,271.34 L544.37,271.33 L544.03,271.32 L543.7,271.31 L543.36,271.3 L543.02,271.29 L542.69,271.28 L542.35,271.27 L542.02,271.26 L541.68,271.25 L541.34,271.24 L541.01,271.23 L540.67,271.22 L540.34,271.21 L540,271.2 Z" fill="#ff0051"/>
<path d="M582,269.5 L582.34,269.4 L582.69,269.29 L583.03,269.19 L583.37,269.09 L583.72,268.98 L584.06,268.88 L584.4,268.78 L584.75,268.68 L585.09,268.55 L585.43,268.35 L585.78,268.16 L586.12,267.96 L586.47,267.77 L586.81,267.58 L587.15,267.38 L587.5,267.19 L587.84,266.99 L588.18,266.85 L588.53,266.77 L588.87,266.68 L589.21,266.6 L589.56,266.51 L589.9,266.43 L590.24,266.34 L590.59,266.25 L590.93,266.17 L591.27,266.13 L591.62,266.26 L591.96,266.4 L592.3,266.53 L592.65,266.67 L592.99,266.8 L593.33,266.94 L593.68,267.07 L594.02,267.22 L594.37,267.46 L594.71,267.7 L595.05,267.94 L595.4,268.18 L595.74,268.42 L596.08,268.65 L596.43,268.84 L596.77,269.03 L597.11,269.22 L597.46,269.41 L597.8,269.6 L597.8,271.2 L597.46,271.39 L597.11,271.58 L596.77,271.77 L596.43,271.96 L596.08,272.15 L595.74,272.38 L595.4,272.62 L595.05,272.86 L594.71,273.1 L594.37,273.34 L594.02,273.58 L593.68,273.73 L593.33,273.86 L592.99,274 L592.65,274.13 L592.3,274.27 L591.96,274.4 L591.62,274.54 L591.27,274.67 L590.93,274.63 L590.59,274.55 L590.24,274.46 L589.9,274.37 L589.56,274.29 L589.21,274.2 L588.87,274.12 L588.53,274.03 L588.18,273.95 L587.84,273.81 L587.5,273.61 L587.15,273.42 L586.81,273.22 L586.47,273.03 L586.12,272.84 L585.78,272.64 L585.43,272.45 L585.09,272.25 L584.75,272.12 L584.4,272.02 L584.06,271.92 L583.72,271.82 L583.37,271.71 L583.03,271.61 L582.69,271.51 L582.34,271.4 L582,271.3 Z" fill="#008bfb"/>
<path d="M560.4,280.68 L560.74,280.67 L561.08,280.66 L561.43,280.64 L561.77,280.63 L562.11,280.62 L562.45,280.61 L562.79,280.59 L563.14,280.58 L563.48,280.57 L563.82,280.56 L564.16,280.55 L564.5,280.53 L564.85,280.52 L565.19,280.51 L565.53,280.5 L565.87,280.48 L566.21,280.46 L566.56,280.44 L566.9,280.41 L567.24,280.38 L567.58,280.35 L567.92,280.33 L568.27,280.3 L568.61,280.27 L568.95,280.24 L569.29,280.22 L569.63,280.19 L569.98,280.16 L570.32,280.13 L570.66,280.11 L571,280.08 L571.34,279.99 L571.69,279.9 L572.03,279.81 L572.37,279.71 L572.71,279.62 L573.06,279.53 L573.4,279.44 L573.74,279.35 L574.08,279.27 L574.42,279.22 L574.77,279.17 L575.11,279.12 L575.45,279.07 L575.79,279.02 L576.13,278.98 L576.48,278.93 L576.82,278.88 L577.16,278.95 L577.5,279.01 L577.84,279.08 L578.19,279.14 L578.53,279.2 L578.87,279.27 L579.21,279.33 L579.55,279.4 L579.9,279.46 L580.24,279.58 L580.58,279.71 L580.92,279.85 L581.26,279.99 L581.61,280.12 L581.95,280.26 L582.29,280.32 L582.63,280.37 L582.97,280.43 L583.32,280.48 L583.66,280.53 L584,280.58 L584,282.38 L583.66,282.43 L583.32,282.48 L582.97,282.53 L582.63,282.59 L582.29,282.64 L581.95,282.7 L581.61,282.84 L581.26,282.97 L580.92,283.11 L580.58,283.25 L580.24,283.38 L579.9,283.5 L579.55,283.56 L579.21,283.63 L578.87,283.69 L578.53,283.76 L578.19,283.82 L577.84,283.88 L577.5,283.95 L577.16,284.01 L576.82,284.08 L576.48,284.03 L576.13,283.98 L575.79,283.94 L575.45,283.89 L575.11,283.84 L574.77,283.79 L574.42,283.74 L574.08,283.69 L573.74,283.61 L573.4,283.52 L573.06,283.43 L572.71,283.34 L572.37,283.25 L572.03,283.15 L571.69,283.06 L571.34,282.97 L571,282.88 L570.66,282.85 L570.32,282.83 L569.98,282.8 L569.63,282.77 L569.29,282.74 L568.95,282.72 L568.61,282.69 L568.27,282.66 L567.92,282.63 L567.58,282.61 L567.24,282.58 L566.9,282.55 L566.56,282.52 L566.21,282.5 L565.87,282.48 L565.53,282.46 L565.19,282.45 L564.85,282.44 L564.5,282.43 L564.16,282.41 L563.82,282.4 L563.48,282.39 L563.14,282.38 L562.79,282.37 L562.45,282.35 L562.11,282.34 L561.77,282.33 L561.43,282.32 L561.08,282.3 L560.74,282.29 L560.4,282.28 Z" fill="#ff0051"/>
<path d="M584,280.58 L584.34,280.32 L584.68,280.07 L585.03,279.81 L585.37,279.55 L585.71,279.3 L586.05,279.04 L586.4,278.8 L586.74,278.56 L587.08,278.32 L587.42,278.08 L587.77,277.84 L588.11,277.64 L588.45,277.51 L588.79,277.38 L589.13,277.24 L589.48,277.25 L589.82,277.39 L590.16,277.53 L590.5,277.68 L590.85,277.82 L591.19,278.03 L591.53,278.3 L591.87,278.58 L592.22,278.85 L592.56,279.13 L592.9,279.4 L593.24,279.58 L593.58,279.71 L593.93,279.85 L594.27,279.99 L594.61,280.12 L594.95,280.26 L595.3,280.3 L595.64,280.33 L595.98,280.35 L596.32,280.38 L596.67,280.4 L597.01,280.43 L597.35,280.45 L597.69,280.48 L598.03,280.5 L598.38,280.53 L598.72,280.55 L599.06,280.58 L599.4,280.6 L599.75,280.63 L600.09,280.65 L600.43,280.68 L600.77,280.7 L601.12,280.73 L601.46,280.75 L601.8,280.78 L601.8,282.18 L601.46,282.21 L601.12,282.23 L600.77,282.26 L600.43,282.28 L600.09,282.31 L599.75,282.33 L599.4,282.36 L599.06,282.38 L598.72,282.41 L598.38,282.43 L598.03,282.46 L597.69,282.48 L597.35,282.51 L597.01,282.53 L596.67,282.56 L596.32,282.58 L595.98,282.61 L595.64,282.63 L595.3,282.66 L594.95,282.7 L594.61,282.84 L594.27,282.97 L593.93,283.11 L593.58,283.25 L593.24,283.38 L592.9,283.56 L592.56,283.83 L592.22,284.11 L591.87,284.38 L591.53,284.66 L591.19,284.93 L590.85,285.14 L590.5,285.28 L590.16,285.43 L589.82,285.57 L589.48,285.71 L589.13,285.72 L588.79,285.58 L588.45,285.45 L588.11,285.32 L587.77,285.12 L587.42,284.88 L587.08,284.64 L586.74,284.4 L586.4,284.16 L586.05,283.92 L585.71,283.66 L585.37,283.41 L585.03,283.15 L584.68,282.89 L584.34,282.64 L584,282.38 Z" fill="#008bfb"/>
<circle cx="547.2" cy="292.56" r="0.65" fill="#ff0051"/>
<circle cx="551.2" cy="292.56" r="0.65" fill="#ff0051"/>
<linearGradient id="g18" gradientUnits="userSpaceOnUse" x1="553" y1="0" x2="613.6" y2="0"><stop offset="0" stop-color="#ff0051"/><stop offset="0.21" stop-color="#f20072"/><stop offset="0.36" stop-color="#c80098"/><stop offset="0.48" stop-color="#9135ba"/><stop offset="0.61" stop-color="#6359da"/><stop offset="0.74" stop-color="#0074f0"/><stop offset="1" stop-color="#0086fa"/></linearGradient>
<path d="M553,291.86 L553.34,291.85 L553.67,291.83 L554.01,291.82 L554.35,291.8 L554.68,291.79 L555.02,291.77 L555.36,291.76 L555.69,291.74 L556.03,291.73 L556.37,291.72 L556.7,291.7 L557.04,291.69 L557.38,291.67 L557.71,291.66 L558.05,291.64 L558.39,291.63 L558.72,291.61 L559.06,291.6 L559.4,291.59 L559.73,291.57 L560.07,291.56 L560.41,291.54 L560.74,291.53 L561.08,291.52 L561.42,291.5 L561.75,291.49 L562.09,291.48 L562.43,291.46 L562.76,291.45 L563.1,291.44 L563.44,291.42 L563.77,291.41 L564.11,291.4 L564.45,291.38 L564.78,291.37 L565.12,291.36 L565.46,291.34 L565.79,291.33 L566.13,291.31 L566.47,291.3 L566.8,291.29 L567.14,291.27 L567.48,291.26 L567.81,291.25 L568.15,291.23 L568.49,291.22 L568.82,291.21 L569.16,291.19 L569.5,291.18 L569.83,291.17 L570.17,291.13 L570.51,291.06 L570.84,290.99 L571.18,290.92 L571.52,290.86 L571.85,290.79 L572.19,290.72 L572.53,290.65 L572.86,290.59 L573.2,290.52 L573.54,290.45 L573.87,290.39 L574.21,290.32 L574.55,290.25 L574.88,290.18 L575.22,290.11 L575.56,290.03 L575.89,289.95 L576.23,289.86 L576.57,289.78 L576.9,289.7 L577.24,289.62 L577.58,289.54 L577.91,289.46 L578.25,289.38 L578.59,289.3 L578.92,289.22 L579.26,289.14 L579.6,289.06 L579.93,288.98 L580.27,288.92 L580.61,288.88 L580.94,288.83 L581.28,288.79 L581.62,288.74 L581.95,288.7 L582.29,288.65 L582.63,288.61 L582.96,288.56 L583.3,288.58 L583.64,288.61 L583.97,288.64 L584.31,288.66 L584.65,288.69 L584.98,288.72 L585.32,288.75 L585.66,288.77 L585.99,288.8 L586.33,288.83 L586.67,288.85 L587,288.88 L587.34,288.91 L587.68,288.93 L588.01,288.96 L588.35,289.05 L588.69,289.13 L589.02,289.22 L589.36,289.3 L589.7,289.38 L590.03,289.47 L590.37,289.55 L590.71,289.64 L591.04,289.72 L591.38,289.81 L591.72,289.89 L592.05,289.98 L592.39,290.09 L592.73,290.2 L593.06,290.31 L593.4,290.43 L593.74,290.54 L594.07,290.65 L594.41,290.76 L594.75,290.88 L595.08,290.96 L595.42,290.98 L595.76,290.99 L596.09,291 L596.43,291.02 L596.77,291.03 L597.1,291.04 L597.44,291.06 L597.78,291.07 L598.11,291.08 L598.45,291.1 L598.79,291.11 L599.12,291.12 L599.46,291.14 L599.8,291.15 L600.13,291.17 L600.47,291.18 L600.81,291.2 L601.14,291.22 L601.48,291.23 L601.82,291.25 L602.15,291.27 L602.49,291.28 L602.83,291.3 L603.16,291.32 L603.5,291.33 L603.84,291.35 L604.17,291.37 L604.51,291.39 L604.85,291.4 L605.18,291.42 L605.52,291.44 L605.86,291.45 L606.19,291.47 L606.53,291.49 L606.87,291.52 L607.2,291.54 L607.54,291.56 L607.88,291.58 L608.21,291.61 L608.55,291.63 L608.89,291.65 L609.22,291.67 L609.56,291.69 L609.9,291.72 L610.23,291.74 L610.57,291.76 L610.91,291.78 L611.24,291.8 L611.58,291.83 L611.92,291.85 L612.25,291.87 L612.59,291.89 L612.93,291.92 L613.26,291.94 L613.6,291.96 L613.6,293.16 L613.26,293.18 L612.93,293.2 L612.59,293.23 L612.25,293.25 L611.92,293.27 L611.58,293.29 L611.24,293.32 L610.91,293.34 L610.57,293.36 L610.23,293.38 L609.9,293.4 L609.56,293.43 L609.22,293.45 L608.89,293.47 L608.55,293.49 L608.21,293.51 L607.88,293.54 L607.54,293.56 L607.2,293.58 L606.87,293.6 L606.53,293.63 L606.19,293.65 L605.86,293.67 L605.52,293.68 L605.18,293.7 L604.85,293.72 L604.51,293.73 L604.17,293.75 L603.84,293.77 L603.5,293.79 L603.16,293.8 L602.83,293.82 L602.49,293.84 L602.15,293.85 L601.82,293.87 L601.48,293.89 L601.14,293.9 L600.81,293.92 L600.47,293.94 L600.13,293.95 L599.8,293.97 L599.46,293.98 L599.12,294 L598.79,294.01 L598.45,294.02 L598.11,294.04 L597.78,294.05 L597.44,294.06 L597.1,294.08 L596.77,294.09 L596.43,294.1 L596.09,294.12 L595.76,294.13 L595.42,294.14 L595.08,294.16 L594.75,294.24 L594.41,294.36 L594.07,294.47 L593.74,294.58 L593.4,294.69 L593.06,294.81 L592.73,294.92 L592.39,295.03 L592.05,295.14 L591.72,295.23 L591.38,295.31 L591.04,295.4 L590.71,295.48 L590.37,295.57 L590.03,295.65 L589.7,295.74 L589.36,295.82 L589.02,295.9 L588.69,295.99 L588.35,296.07 L588.01,296.16 L587.68,296.19 L587.34,296.21 L587,296.24 L586.67,296.27 L586.33,296.29 L585.99,296.32 L585.66,296.35 L585.32,296.37 L584.98,296.4 L584.65,296.43 L584.31,296.46 L583.97,296.48 L583.64,296.51 L583.3,296.54 L582.96,296.56 L582.63,296.51 L582.29,296.47 L581.95,296.42 L581.62,296.38 L581.28,296.33 L580.94,296.29 L580.61,296.24 L580.27,296.2 L579.93,296.14 L579.6,296.06 L579.26,295.98 L578.92,295.9 L578.59,295.82 L578.25,295.74 L577.91,295.66 L577.58,295.58 L577.24,295.5 L576.9,295.42 L576.57,295.34 L576.23,295.26 L575.89,295.17 L575.56,295.09 L575.22,295.01 L574.88,294.94 L574.55,294.87 L574.21,294.8 L573.87,294.73 L573.54,294.67 L573.2,294.6 L572.86,294.53 L572.53,294.47 L572.19,294.4 L571.85,294.33 L571.52,294.26 L571.18,294.2 L570.84,294.13 L570.51,294.06 L570.17,293.99 L569.83,293.95 L569.5,293.94 L569.16,293.93 L568.82,293.91 L568.49,293.9 L568.15,293.89 L567.81,293.87 L567.48,293.86 L567.14,293.85 L566.8,293.83 L566.47,293.82 L566.13,293.81 L565.79,293.79 L565.46,293.78 L565.12,293.76 L564.78,293.75 L564.45,293.74 L564.11,293.72 L563.77,293.71 L563.44,293.7 L563.1,293.68 L562.76,293.67 L562.43,293.66 L562.09,293.64 L561.75,293.63 L561.42,293.62 L561.08,293.6 L560.74,293.59 L560.41,293.58 L560.07,293.56 L559.73,293.55 L559.4,293.53 L559.06,293.52 L558.72,293.51 L558.39,293.49 L558.05,293.48 L557.71,293.46 L557.38,293.45 L557.04,293.43 L556.7,293.42 L556.37,293.4 L556.03,293.39 L555.69,293.38 L555.36,293.36 L555.02,293.35 L554.68,293.33 L554.35,293.32 L554.01,293.3 L553.67,293.29 L553.34,293.27 L553,293.26 Z" fill="url(#g18)"/>
<circle cx="583.6" cy="293.12" r="0.55" fill="#ff0051"/>
<circle cx="581.16" cy="294.29" r="0.55" fill="#bb00a0"/>
<circle cx="564.63" cy="291.57" r="0.55" fill="#ff0051"/>
<circle cx="566.96" cy="292.86" r="0.55" fill="#008bfb"/>
<circle cx="599.09" cy="291.82" r="0.55" fill="#ff0051"/>
<circle cx="570.59" cy="291.86" r="0.55" fill="#8443c6"/>
<circle cx="581.71" cy="289.7" r="0.55" fill="#bb00a0"/>
<circle cx="588.97" cy="291.93" r="0.55" fill="#ff0051"/>
<circle cx="586.42" cy="290.09" r="0.55" fill="#bb00a0"/>
<circle cx="592.17" cy="294.45" r="0.55" fill="#bb00a0"/>
<circle cx="561.15" cy="292.26" r="0.55" fill="#ff0051"/>
<circle cx="599.88" cy="291.69" r="0.55" fill="#008bfb"/>
<circle cx="574.9" cy="291.03" r="0.55" fill="#8443c6"/>
<circle cx="577.85" cy="290.58" r="0.55" fill="#bb00a0"/>
<circle cx="589.15" cy="290.22" r="0.55" fill="#ff0051"/>
<circle cx="588.98" cy="289.89" r="0.55" fill="#bb00a0"/>
<circle cx="602.53" cy="292.09" r="0.55" fill="#bb00a0"/>
<circle cx="598.35" cy="291.6" r="0.55" fill="#bb00a0"/>
<circle cx="597.48" cy="293.55" r="0.55" fill="#bb00a0"/>
<circle cx="593.71" cy="291.03" r="0.55" fill="#bb00a0"/>
<circle cx="599.22" cy="292.42" r="0.55" fill="#ff0051"/>
<circle cx="575.07" cy="292.78" r="0.55" fill="#008bfb"/>
<circle cx="591.55" cy="290.12" r="0.55" fill="#8443c6"/>
<circle cx="605.99" cy="292.21" r="0.55" fill="#8443c6"/>
<circle cx="565.17" cy="293.05" r="0.55" fill="#bb00a0"/>
<circle cx="583.84" cy="293.24" r="0.55" fill="#8443c6"/>
<circle cx="595.61" cy="292.62" r="0.55" fill="#008bfb"/>
<circle cx="597.13" cy="293.61" r="0.55" fill="#bb00a0"/>
<circle cx="582.96" cy="290.81" r="0.55" fill="#8443c6"/>
<circle cx="571.93" cy="291.51" r="0.55" fill="#ff0051"/>
<circle cx="598.42" cy="293.39" r="0.55" fill="#8443c6"/>
<circle cx="587.02" cy="289.54" r="0.55" fill="#ff0051"/>
<circle cx="567.77" cy="292.98" r="0.55" fill="#bb00a0"/>
<circle cx="567.26" cy="291.5" r="0.55" fill="#ff0051"/>
<circle cx="601.93" cy="292.72" r="0.55" fill="#bb00a0"/>
<circle cx="576.54" cy="292.94" r="0.55" fill="#ff0051"/>
<circle cx="584.39" cy="295.48" r="0.55" fill="#008bfb"/>
<circle cx="600.27" cy="292.11" r="0.55" fill="#8443c6"/>
<circle cx="571.83" cy="292.82" r="0.55" fill="#8443c6"/>
<circle cx="600.72" cy="292.49" r="0.55" fill="#008bfb"/>
<circle cx="562.23" cy="293.01" r="0.55" fill="#8443c6"/>
<circle cx="580" cy="292.12" r="0.55" fill="#008bfb"/>
<circle cx="576.6" cy="294.16" r="0.55" fill="#8443c6"/>
<circle cx="589.27" cy="293.99" r="0.55" fill="#008bfb"/>
<circle cx="564.71" cy="292.58" r="0.55" fill="#008bfb"/>
<circle cx="600.56" cy="292.34" r="0.55" fill="#ff0051"/>
<circle cx="595.02" cy="291.37" r="0.55" fill="#008bfb"/>
<circle cx="602.85" cy="292.27" r="0.55" fill="#bb00a0"/>
<circle cx="569.46" cy="292.11" r="0.55" fill="#bb00a0"/>
<circle cx="595.37" cy="293.95" r="0.55" fill="#008bfb"/>
<circle cx="579.37" cy="293.04" r="0.55" fill="#ff0051"/>
<circle cx="563" cy="292.1" r="0.55" fill="#008bfb"/>
<circle cx="573.96" cy="291.48" r="0.55" fill="#ff0051"/>
<circle cx="597.6" cy="293.27" r="0.55" fill="#8443c6"/>
<circle cx="574.34" cy="291.79" r="0.55" fill="#bb00a0"/>
<circle cx="593.89" cy="293.06" r="0.55" fill="#008bfb"/>
<circle cx="563.54" cy="293.03" r="0.55" fill="#008bfb"/>
<circle cx="605.7" cy="293.24" r="0.55" fill="#8443c6"/>
<circle cx="598.65" cy="291.83" r="0.55" fill="#008bfb"/>
<circle cx="598.88" cy="291.78" r="0.55" fill="#008bfb"/>
<circle cx="618.8" cy="292.56" r="0.65" fill="#008bfb"/>
<circle cx="622.8" cy="292.56" r="0.65" fill="#008bfb"/>
<linearGradient id="g19" gradientUnits="userSpaceOnUse" x1="545" y1="0" x2="602.4" y2="0"><stop offset="0" stop-color="#ff0051"/><stop offset="0.4" stop-color="#fe005c"/><stop offset="0.54" stop-color="#e9007c"/><stop offset="0.64" stop-color="#9b23ad"/><stop offset="0.75" stop-color="#754fd1"/><stop offset="0.85" stop-color="#9135ba"/><stop offset="1" stop-color="#d5008f"/></linearGradient>
<path d="M545,303.04 L545.34,303.03 L545.67,303.02 L546.01,303.01 L546.34,303 L546.68,302.99 L547.01,302.98 L547.35,302.97 L547.69,302.96 L548.02,302.95 L548.36,302.94 L548.69,302.93 L549.03,302.92 L549.36,302.91 L549.7,302.9 L550.04,302.89 L550.37,302.88 L550.71,302.87 L551.04,302.86 L551.38,302.85 L551.71,302.84 L552.05,302.83 L552.38,302.82 L552.72,302.81 L553.06,302.8 L553.39,302.79 L553.73,302.78 L554.06,302.77 L554.4,302.76 L554.73,302.75 L555.07,302.74 L555.41,302.74 L555.74,302.73 L556.08,302.73 L556.41,302.73 L556.75,302.72 L557.08,302.72 L557.42,302.72 L557.76,302.71 L558.09,302.71 L558.43,302.71 L558.76,302.7 L559.1,302.7 L559.43,302.7 L559.77,302.69 L560.11,302.69 L560.44,302.69 L560.78,302.68 L561.11,302.68 L561.45,302.68 L561.78,302.67 L562.12,302.67 L562.45,302.67 L562.79,302.66 L563.13,302.66 L563.46,302.66 L563.8,302.65 L564.13,302.65 L564.47,302.65 L564.8,302.64 L565.14,302.63 L565.48,302.62 L565.81,302.61 L566.15,302.59 L566.48,302.58 L566.82,302.57 L567.15,302.55 L567.49,302.54 L567.83,302.53 L568.16,302.51 L568.5,302.5 L568.83,302.49 L569.17,302.47 L569.5,302.46 L569.84,302.45 L570.18,302.42 L570.51,302.37 L570.85,302.32 L571.18,302.27 L571.52,302.23 L571.85,302.18 L572.19,302.13 L572.53,302.09 L572.86,302.04 L573.2,301.99 L573.53,301.95 L573.87,301.9 L574.2,301.85 L574.54,301.8 L574.87,301.76 L575.21,301.73 L575.55,301.71 L575.88,301.69 L576.22,301.67 L576.55,301.65 L576.89,301.63 L577.22,301.61 L577.56,301.59 L577.9,301.57 L578.23,301.55 L578.57,301.53 L578.9,301.51 L579.24,301.49 L579.57,301.47 L579.91,301.45 L580.25,301.36 L580.58,301.25 L580.92,301.13 L581.25,301.02 L581.59,300.91 L581.92,300.8 L582.26,300.69 L582.6,300.57 L582.93,300.46 L583.27,300.4 L583.6,300.34 L583.94,300.29 L584.27,300.24 L584.61,300.18 L584.95,300.13 L585.28,300.08 L585.62,300.02 L585.95,299.97 L586.29,299.91 L586.62,299.86 L586.96,299.81 L587.29,299.75 L587.63,299.7 L587.97,299.65 L588.3,299.69 L588.64,299.74 L588.97,299.79 L589.31,299.84 L589.64,299.89 L589.98,299.94 L590.32,299.99 L590.65,300.04 L590.99,300.09 L591.32,300.14 L591.66,300.19 L591.99,300.24 L592.33,300.36 L592.67,300.47 L593,300.59 L593.34,300.71 L593.67,300.83 L594.01,300.94 L594.34,301.06 L594.68,301.18 L595.02,301.3 L595.35,301.41 L595.69,301.53 L596.02,301.64 L596.36,301.7 L596.69,301.76 L597.03,301.81 L597.36,301.87 L597.7,301.92 L598.04,301.98 L598.37,302.04 L598.71,302.09 L599.04,302.15 L599.38,302.24 L599.71,302.33 L600.05,302.42 L600.39,302.51 L600.72,302.6 L601.06,302.68 L601.39,302.77 L601.73,302.86 L602.06,302.95 L602.4,303.04 L602.4,304.24 L602.06,304.33 L601.73,304.42 L601.39,304.51 L601.06,304.6 L600.72,304.68 L600.39,304.77 L600.05,304.86 L599.71,304.95 L599.38,305.04 L599.04,305.13 L598.71,305.19 L598.37,305.24 L598.04,305.3 L597.7,305.36 L597.36,305.41 L597.03,305.47 L596.69,305.52 L596.36,305.58 L596.02,305.64 L595.69,305.75 L595.35,305.87 L595.02,305.98 L594.68,306.1 L594.34,306.22 L594.01,306.34 L593.67,306.45 L593.34,306.57 L593,306.69 L592.67,306.81 L592.33,306.92 L591.99,307.04 L591.66,307.09 L591.32,307.14 L590.99,307.19 L590.65,307.24 L590.32,307.29 L589.98,307.34 L589.64,307.39 L589.31,307.44 L588.97,307.49 L588.64,307.54 L588.3,307.59 L587.97,307.63 L587.63,307.58 L587.29,307.53 L586.96,307.47 L586.62,307.42 L586.29,307.37 L585.95,307.31 L585.62,307.26 L585.28,307.2 L584.95,307.15 L584.61,307.1 L584.27,307.04 L583.94,306.99 L583.6,306.94 L583.27,306.88 L582.93,306.82 L582.6,306.71 L582.26,306.59 L581.92,306.48 L581.59,306.37 L581.25,306.26 L580.92,306.15 L580.58,306.03 L580.25,305.92 L579.91,305.83 L579.57,305.81 L579.24,305.79 L578.9,305.77 L578.57,305.75 L578.23,305.73 L577.9,305.71 L577.56,305.69 L577.22,305.67 L576.89,305.65 L576.55,305.63 L576.22,305.61 L575.88,305.59 L575.55,305.57 L575.21,305.55 L574.87,305.52 L574.54,305.48 L574.2,305.43 L573.87,305.38 L573.53,305.33 L573.2,305.29 L572.86,305.24 L572.53,305.19 L572.19,305.15 L571.85,305.1 L571.52,305.05 L571.18,305.01 L570.85,304.96 L570.51,304.91 L570.18,304.86 L569.84,304.83 L569.5,304.82 L569.17,304.81 L568.83,304.79 L568.5,304.78 L568.16,304.77 L567.83,304.75 L567.49,304.74 L567.15,304.73 L566.82,304.71 L566.48,304.7 L566.15,304.69 L565.81,304.67 L565.48,304.66 L565.14,304.65 L564.8,304.64 L564.47,304.63 L564.13,304.63 L563.8,304.63 L563.46,304.62 L563.13,304.62 L562.79,304.62 L562.45,304.61 L562.12,304.61 L561.78,304.61 L561.45,304.6 L561.11,304.6 L560.78,304.6 L560.44,304.59 L560.11,304.59 L559.77,304.59 L559.43,304.58 L559.1,304.58 L558.76,304.58 L558.43,304.57 L558.09,304.57 L557.76,304.57 L557.42,304.56 L557.08,304.56 L556.75,304.56 L556.41,304.55 L556.08,304.55 L555.74,304.55 L555.41,304.54 L555.07,304.54 L554.73,304.53 L554.4,304.52 L554.06,304.51 L553.73,304.5 L553.39,304.49 L553.06,304.48 L552.72,304.47 L552.38,304.46 L552.05,304.45 L551.71,304.44 L551.38,304.43 L551.04,304.42 L550.71,304.41 L550.37,304.4 L550.04,304.39 L549.7,304.38 L549.36,304.37 L549.03,304.36 L548.69,304.35 L548.36,304.34 L548.02,304.33 L547.69,304.32 L547.35,304.31 L547.01,304.3 L546.68,304.29 L546.34,304.28 L546.01,304.27 L545.67,304.26 L545.34,304.25 L545,304.24 Z" fill="url(#g19)"/>
<circle cx="588.64" cy="303.96" r="0.55" fill="#754fd1"/>
<circle cx="592.71" cy="304.21" r="0.55" fill="#754fd1"/>
<circle cx="586.21" cy="302.2" r="0.55" fill="#008bfb"/>
<circle cx="582.74" cy="305.54" r="0.55" fill="#ff0051"/>
<circle cx="589.7" cy="306.05" r="0.55" fill="#ff0051"/>
<circle cx="587.71" cy="305.03" r="0.55" fill="#754fd1"/>
<circle cx="584.7" cy="300.93" r="0.55" fill="#008bfb"/>
<circle cx="578.6" cy="303.83" r="0.55" fill="#008bfb"/>
<circle cx="565.91" cy="303.01" r="0.55" fill="#ff0051"/>
<circle cx="573.75" cy="303.98" r="0.55" fill="#ff0051"/>
<circle cx="581.6" cy="302.72" r="0.55" fill="#ff0051"/>
<circle cx="582.16" cy="304.93" r="0.55" fill="#008bfb"/>
<circle cx="578.47" cy="304.19" r="0.55" fill="#f90067"/>
<circle cx="573.35" cy="303.32" r="0.55" fill="#754fd1"/>
<circle cx="569.4" cy="303.88" r="0.55" fill="#ff0051"/>
<circle cx="592.12" cy="306.15" r="0.55" fill="#f90067"/>
<circle cx="593.97" cy="303.93" r="0.55" fill="#008bfb"/>
<circle cx="591.38" cy="305" r="0.55" fill="#f90067"/>
<circle cx="585.64" cy="305.28" r="0.55" fill="#754fd1"/>
<circle cx="572.81" cy="303.66" r="0.55" fill="#008bfb"/>
<circle cx="583.5" cy="303.45" r="0.55" fill="#ab15a7"/>
<circle cx="572.95" cy="302.61" r="0.55" fill="#754fd1"/>
<circle cx="590.7" cy="302.69" r="0.55" fill="#ab15a7"/>
<circle cx="578.99" cy="302.62" r="0.55" fill="#ab15a7"/>
<circle cx="569.29" cy="304.22" r="0.55" fill="#008bfb"/>
<circle cx="584.28" cy="305.38" r="0.55" fill="#008bfb"/>
<circle cx="590.66" cy="302.81" r="0.55" fill="#754fd1"/>
<circle cx="590.24" cy="305.57" r="0.55" fill="#008bfb"/>
<circle cx="570.35" cy="303.27" r="0.55" fill="#ab15a7"/>
<circle cx="582.13" cy="305.22" r="0.55" fill="#008bfb"/>
<circle cx="588.77" cy="301.82" r="0.55" fill="#754fd1"/>
<circle cx="594.05" cy="303.39" r="0.55" fill="#008bfb"/>
<circle cx="589.31" cy="303.68" r="0.55" fill="#ff0051"/>
<circle cx="573.38" cy="304.13" r="0.55" fill="#008bfb"/>
<circle cx="577.67" cy="302.38" r="0.55" fill="#ab15a7"/>
<circle cx="594.62" cy="302.23" r="0.55" fill="#ab15a7"/>
<circle cx="572.44" cy="304.39" r="0.55" fill="#008bfb"/>
<circle cx="588.96" cy="306.62" r="0.55" fill="#ab15a7"/>
<circle cx="574.18" cy="304.09" r="0.55" fill="#ff0051"/>
<circle cx="580.03" cy="302.06" r="0.55" fill="#f90067"/>
<circle cx="573.2" cy="304.36" r="0.55" fill="#f90067"/>
<circle cx="570.46" cy="303.26" r="0.55" fill="#ff0051"/>
<circle cx="591.73" cy="303.97" r="0.55" fill="#008bfb"/>
<circle cx="577.08" cy="301.99" r="0.55" fill="#f90067"/>
<circle cx="592.74" cy="301.88" r="0.55" fill="#008bfb"/>
<linearGradient id="g20" gradientUnits="userSpaceOnUse" x1="568.3" y1="0" x2="608.3" y2="0"><stop offset="0" stop-color="#008bfb"/><stop offset="0.34" stop-color="#0088fa"/><stop offset="0.44" stop-color="#4b63e3"/><stop offset="0.52" stop-color="#9b23ad"/><stop offset="0.64" stop-color="#e60080"/><stop offset="0.79" stop-color="#f6006b"/><stop offset="1" stop-color="#fe005c"/></linearGradient>
<path d="M568.3,313.92 L568.64,313.8 L568.97,313.67 L569.31,313.55 L569.64,313.42 L569.98,313.3 L570.32,313.17 L570.65,313.05 L570.99,312.92 L571.33,312.79 L571.66,312.66 L572,312.52 L572.33,312.39 L572.67,312.25 L573.01,312.12 L573.34,311.98 L573.68,311.85 L574.01,311.72 L574.35,311.66 L574.69,311.61 L575.02,311.55 L575.36,311.49 L575.69,311.44 L576.03,311.38 L576.37,311.33 L576.7,311.27 L577.04,311.22 L577.38,311.22 L577.71,311.22 L578.05,311.22 L578.38,311.22 L578.72,311.22 L579.06,311.22 L579.39,311.22 L579.73,311.22 L580.06,311.22 L580.4,311.22 L580.74,311.22 L581.07,311.22 L581.41,311.21 L581.75,311.2 L582.08,311.18 L582.42,311.17 L582.75,311.16 L583.09,311.15 L583.43,311.14 L583.76,311.13 L584.1,311.11 L584.43,311.06 L584.77,311.02 L585.11,310.97 L585.44,310.93 L585.78,310.88 L586.12,310.84 L586.45,310.79 L586.79,310.75 L587.12,310.76 L587.46,310.87 L587.8,310.99 L588.13,311.1 L588.47,311.21 L588.8,311.32 L589.14,311.43 L589.48,311.55 L589.81,311.66 L590.15,311.74 L590.48,311.8 L590.82,311.86 L591.16,311.91 L591.49,311.97 L591.83,312.02 L592.17,312.08 L592.5,312.14 L592.84,312.19 L593.17,312.24 L593.51,312.28 L593.85,312.33 L594.18,312.37 L594.52,312.41 L594.85,312.45 L595.19,312.49 L595.53,312.54 L595.86,312.58 L596.2,312.62 L596.54,312.66 L596.87,312.7 L597.21,312.74 L597.54,312.77 L597.88,312.81 L598.22,312.84 L598.55,312.88 L598.89,312.91 L599.22,312.94 L599.56,312.98 L599.9,313.01 L600.23,313.04 L600.57,313.08 L600.91,313.11 L601.24,313.14 L601.58,313.18 L601.91,313.21 L602.25,313.25 L602.59,313.29 L602.92,313.34 L603.26,313.38 L603.59,313.42 L603.93,313.47 L604.27,313.51 L604.6,313.55 L604.94,313.59 L605.27,313.64 L605.61,313.68 L605.95,313.72 L606.28,313.76 L606.62,313.81 L606.96,313.85 L607.29,313.89 L607.63,313.93 L607.96,313.98 L608.3,314.02 L608.3,315.42 L607.96,315.46 L607.63,315.51 L607.29,315.55 L606.96,315.59 L606.62,315.63 L606.28,315.68 L605.95,315.72 L605.61,315.76 L605.27,315.8 L604.94,315.85 L604.6,315.89 L604.27,315.93 L603.93,315.97 L603.59,316.02 L603.26,316.06 L602.92,316.1 L602.59,316.15 L602.25,316.19 L601.91,316.23 L601.58,316.26 L601.24,316.3 L600.91,316.33 L600.57,316.36 L600.23,316.4 L599.9,316.43 L599.56,316.46 L599.22,316.5 L598.89,316.53 L598.55,316.56 L598.22,316.6 L597.88,316.63 L597.54,316.67 L597.21,316.7 L596.87,316.74 L596.54,316.78 L596.2,316.82 L595.86,316.86 L595.53,316.9 L595.19,316.95 L594.85,316.99 L594.52,317.03 L594.18,317.07 L593.85,317.11 L593.51,317.16 L593.17,317.2 L592.84,317.25 L592.5,317.3 L592.17,317.36 L591.83,317.42 L591.49,317.47 L591.16,317.53 L590.82,317.58 L590.48,317.64 L590.15,317.7 L589.81,317.78 L589.48,317.89 L589.14,318.01 L588.8,318.12 L588.47,318.23 L588.13,318.34 L587.8,318.45 L587.46,318.57 L587.12,318.68 L586.79,318.69 L586.45,318.65 L586.12,318.6 L585.78,318.56 L585.44,318.51 L585.11,318.47 L584.77,318.42 L584.43,318.38 L584.1,318.33 L583.76,318.31 L583.43,318.3 L583.09,318.29 L582.75,318.28 L582.42,318.27 L582.08,318.26 L581.75,318.24 L581.41,318.23 L581.07,318.22 L580.74,318.22 L580.4,318.22 L580.06,318.22 L579.73,318.22 L579.39,318.22 L579.06,318.22 L578.72,318.22 L578.38,318.22 L578.05,318.22 L577.71,318.22 L577.38,318.22 L577.04,318.22 L576.7,318.17 L576.37,318.11 L576.03,318.06 L575.69,318 L575.36,317.95 L575.02,317.89 L574.69,317.83 L574.35,317.78 L574.01,317.72 L573.68,317.59 L573.34,317.46 L573.01,317.32 L572.67,317.19 L572.33,317.05 L572,316.92 L571.66,316.78 L571.33,316.65 L570.99,316.52 L570.65,316.39 L570.32,316.27 L569.98,316.14 L569.64,316.02 L569.31,315.89 L568.97,315.77 L568.64,315.64 L568.3,315.52 Z" fill="url(#g20)"/>
<circle cx="596.44" cy="315.4" r="0.55" fill="#d5008f"/>
<circle cx="573.76" cy="313.65" r="0.55" fill="#f90067"/>
<circle cx="583.65" cy="316.68" r="0.55" fill="#008bfb"/>
<circle cx="595.71" cy="316.09" r="0.55" fill="#d5008f"/>
<circle cx="585.09" cy="316.25" r="0.55" fill="#f90067"/>
<circle cx="598" cy="313.71" r="0.55" fill="#008bfb"/>
<circle cx="585.75" cy="316.52" r="0.55" fill="#f90067"/>
<circle cx="581.36" cy="317.22" r="0.55" fill="#008bfb"/>
<circle cx="600.26" cy="314.46" r="0.55" fill="#8443c6"/>
<circle cx="587.45" cy="311.81" r="0.55" fill="#8443c6"/>
<circle cx="579.4" cy="313.78" r="0.55" fill="#f90067"/>
<circle cx="572.67" cy="313.29" r="0.55" fill="#008bfb"/>
<circle cx="580.36" cy="316.09" r="0.55" fill="#d5008f"/>
<circle cx="588.9" cy="315.51" r="0.55" fill="#8443c6"/>
<circle cx="579.61" cy="312.32" r="0.55" fill="#d5008f"/>
<circle cx="582.45" cy="316.75" r="0.55" fill="#008bfb"/>
<circle cx="582.99" cy="312.28" r="0.55" fill="#8443c6"/>
<circle cx="591.76" cy="315.02" r="0.55" fill="#f90067"/>
<circle cx="594.72" cy="313.36" r="0.55" fill="#d5008f"/>
<circle cx="594.95" cy="314.4" r="0.55" fill="#0084f9"/>
<circle cx="577.39" cy="316.67" r="0.55" fill="#008bfb"/>
<circle cx="574.52" cy="313.34" r="0.55" fill="#8443c6"/>
<circle cx="574.57" cy="312.92" r="0.55" fill="#d5008f"/>
<circle cx="575.21" cy="316.57" r="0.55" fill="#d5008f"/>
<circle cx="578.25" cy="315.37" r="0.55" fill="#008bfb"/>
<circle cx="579.23" cy="315.36" r="0.55" fill="#8443c6"/>
<circle cx="591.94" cy="316.68" r="0.55" fill="#8443c6"/>
<circle cx="585.14" cy="313.41" r="0.55" fill="#d5008f"/>
<circle cx="589.81" cy="316.19" r="0.55" fill="#d5008f"/>
<circle cx="583.99" cy="317.42" r="0.55" fill="#0084f9"/>
<circle cx="584.25" cy="313.87" r="0.55" fill="#0084f9"/>
<circle cx="576.8" cy="312.52" r="0.55" fill="#8443c6"/>
<circle cx="580.06" cy="314.72" r="0.55" fill="#d5008f"/>
<circle cx="583.91" cy="314.88" r="0.55" fill="#0084f9"/>
<circle cx="587.34" cy="313.67" r="0.55" fill="#8443c6"/>
<circle cx="589.98" cy="314.02" r="0.55" fill="#8443c6"/>
<circle cx="579.6" cy="315.94" r="0.55" fill="#0084f9"/>
<circle cx="592.8" cy="316.09" r="0.55" fill="#f90067"/>
<circle cx="596.18" cy="313.64" r="0.55" fill="#0084f9"/>
<circle cx="582.68" cy="312.26" r="0.55" fill="#0084f9"/>
</svg>
</body></html>
